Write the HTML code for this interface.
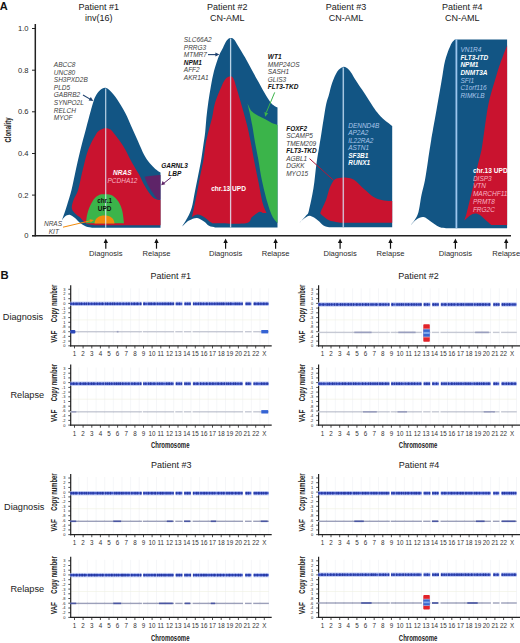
<!DOCTYPE html>
<html><head><meta charset="utf-8"><style>
html,body{margin:0;padding:0;background:#fff;}
body{width:520px;height:643px;overflow:hidden;}
svg{display:block;}
</style></head><body>
<svg width="520" height="643" viewBox="0 0 520 643">
<rect width="520" height="643" fill="#fff"/>
<text x="-0.3" y="9.6" font-family="'Liberation Sans', sans-serif" font-size="11" font-weight="bold" fill="#111">A</text>
<line x1="35.3" y1="24" x2="35.3" y2="236.4" stroke="#222" stroke-width="1.5"/>
<line x1="32" y1="235.7" x2="511" y2="235.7" stroke="#222" stroke-width="1.5"/>
<line x1="32" y1="235.7" x2="35.3" y2="235.7" stroke="#222" stroke-width="1"/>
<text x="28.6" y="238.1" font-family="'Liberation Sans', sans-serif" font-size="7.6" fill="#2a2a2a" text-anchor="end">0</text>
<line x1="32" y1="195.1" x2="35.3" y2="195.1" stroke="#222" stroke-width="1"/>
<text x="28.6" y="197.5" font-family="'Liberation Sans', sans-serif" font-size="7.6" fill="#2a2a2a" text-anchor="end">0.2</text>
<line x1="32" y1="153.5" x2="35.3" y2="153.5" stroke="#222" stroke-width="1"/>
<text x="28.6" y="155.9" font-family="'Liberation Sans', sans-serif" font-size="7.6" fill="#2a2a2a" text-anchor="end">0.4</text>
<line x1="32" y1="111.8" x2="35.3" y2="111.8" stroke="#222" stroke-width="1"/>
<text x="28.6" y="114.2" font-family="'Liberation Sans', sans-serif" font-size="7.6" fill="#2a2a2a" text-anchor="end">0.6</text>
<line x1="32" y1="70.2" x2="35.3" y2="70.2" stroke="#222" stroke-width="1"/>
<text x="28.6" y="72.6" font-family="'Liberation Sans', sans-serif" font-size="7.6" fill="#2a2a2a" text-anchor="end">0.8</text>
<line x1="32" y1="28.5" x2="35.3" y2="28.5" stroke="#222" stroke-width="1"/>
<text x="28.6" y="30.9" font-family="'Liberation Sans', sans-serif" font-size="7.6" fill="#2a2a2a" text-anchor="end">1.0</text>
<text transform="translate(11.2,130) rotate(-90) scale(0.66,1)" font-family="'Liberation Sans', sans-serif" font-size="9" font-weight="bold" fill="#222" text-anchor="middle">Clonality</text>
<text x="98.8" y="10.1" font-family="'Liberation Sans', sans-serif" font-size="9" fill="#1a1a1a" text-anchor="middle">Patient #1</text>
<text x="98.8" y="21.2" font-family="'Liberation Sans', sans-serif" font-size="9" fill="#1a1a1a" text-anchor="middle">inv(16)</text>
<text x="227.2" y="10.1" font-family="'Liberation Sans', sans-serif" font-size="9" fill="#1a1a1a" text-anchor="middle">Patient #2</text>
<text x="227.2" y="21.2" font-family="'Liberation Sans', sans-serif" font-size="9" fill="#1a1a1a" text-anchor="middle">CN-AML</text>
<text x="346.0" y="10.1" font-family="'Liberation Sans', sans-serif" font-size="9" fill="#1a1a1a" text-anchor="middle">Patient #3</text>
<text x="346.0" y="21.2" font-family="'Liberation Sans', sans-serif" font-size="9" fill="#1a1a1a" text-anchor="middle">CN-AML</text>
<text x="462.2" y="10.1" font-family="'Liberation Sans', sans-serif" font-size="9" fill="#1a1a1a" text-anchor="middle">Patient #4</text>
<text x="462.2" y="21.2" font-family="'Liberation Sans', sans-serif" font-size="9" fill="#1a1a1a" text-anchor="middle">CN-AML</text>
<line x1="105.8" y1="241" x2="105.8" y2="248.7" stroke="#111" stroke-width="1.2"/>
<path d="M105.8,238.6 L103.6,243 L108.0,243 Z" fill="#111"/>
<text x="105.8" y="256.2" font-family="'Liberation Sans', sans-serif" font-size="7.6" fill="#2a2a2a" text-anchor="middle">Diagnosis</text>
<line x1="156.5" y1="241" x2="156.5" y2="248.7" stroke="#111" stroke-width="1.2"/>
<path d="M156.5,238.6 L154.3,243 L158.7,243 Z" fill="#111"/>
<text x="156.5" y="256.2" font-family="'Liberation Sans', sans-serif" font-size="7.6" fill="#2a2a2a" text-anchor="middle">Relapse</text>
<line x1="225.6" y1="241" x2="225.6" y2="248.7" stroke="#111" stroke-width="1.2"/>
<path d="M225.6,238.6 L223.4,243 L227.8,243 Z" fill="#111"/>
<text x="225.6" y="256.2" font-family="'Liberation Sans', sans-serif" font-size="7.6" fill="#2a2a2a" text-anchor="middle">Diagnosis</text>
<line x1="275.6" y1="241" x2="275.6" y2="248.7" stroke="#111" stroke-width="1.2"/>
<path d="M275.6,238.6 L273.4,243 L277.8,243 Z" fill="#111"/>
<text x="275.6" y="256.2" font-family="'Liberation Sans', sans-serif" font-size="7.6" fill="#2a2a2a" text-anchor="middle">Relapse</text>
<line x1="340.1" y1="241" x2="340.1" y2="248.7" stroke="#111" stroke-width="1.2"/>
<path d="M340.1,238.6 L337.9,243 L342.3,243 Z" fill="#111"/>
<text x="340.1" y="256.2" font-family="'Liberation Sans', sans-serif" font-size="7.6" fill="#2a2a2a" text-anchor="middle">Diagnosis</text>
<line x1="390.5" y1="241" x2="390.5" y2="248.7" stroke="#111" stroke-width="1.2"/>
<path d="M390.5,238.6 L388.3,243 L392.7,243 Z" fill="#111"/>
<text x="390.5" y="256.2" font-family="'Liberation Sans', sans-serif" font-size="7.6" fill="#2a2a2a" text-anchor="middle">Relapse</text>
<line x1="455.4" y1="241" x2="455.4" y2="248.7" stroke="#111" stroke-width="1.2"/>
<path d="M455.4,238.6 L453.2,243 L457.6,243 Z" fill="#111"/>
<text x="455.4" y="256.2" font-family="'Liberation Sans', sans-serif" font-size="7.6" fill="#2a2a2a" text-anchor="middle">Diagnosis</text>
<line x1="506.2" y1="241" x2="506.2" y2="248.7" stroke="#111" stroke-width="1.2"/>
<path d="M506.2,238.6 L504.0,243 L508.4,243 Z" fill="#111"/>
<text x="506.2" y="256.2" font-family="'Liberation Sans', sans-serif" font-size="7.6" fill="#2a2a2a" text-anchor="middle">Relapse</text>
<path d="M61.8,220.5 C62.2,219.2 63.6,215.6 64.5,213.0 C65.4,210.4 65.9,208.8 67.1,205.0 C68.3,201.2 70.0,195.8 71.5,190.0 C73.0,184.2 74.3,176.7 75.8,170.0 C77.3,163.3 78.7,156.9 80.4,150.0 C82.1,143.1 84.2,135.4 86.0,128.7 C87.8,122.0 89.8,114.3 91.0,110.0 C92.2,105.7 92.3,105.3 93.0,103.0 C93.7,100.7 94.2,98.5 95.4,96.4 C96.6,94.3 98.3,91.6 100.0,90.2 C101.7,88.8 103.7,87.5 105.6,87.8 C107.5,88.1 109.4,90.1 111.3,92.0 C113.2,93.9 114.6,95.5 116.9,99.0 C119.2,102.5 122.8,108.3 125.3,113.0 C127.8,117.7 129.5,122.3 131.6,127.0 C133.7,131.7 135.8,136.3 137.9,141.0 C140.0,145.7 142.2,151.3 144.2,155.0 C146.2,158.7 148.0,161.0 149.8,163.3 C151.7,165.6 153.5,167.4 155.3,168.9 C157.1,170.4 159.6,171.9 160.5,172.5 L160.5,227.7 L92,227.7 C91.0,227.5 87.9,227.2 86.0,226.5 C84.1,225.8 82.2,224.7 80.4,223.3 C78.6,221.9 76.8,219.4 75.0,218.0 C73.2,216.6 71.3,215.1 69.6,214.8 C67.9,214.6 66.3,215.6 65.0,216.5 C63.7,217.4 62.3,219.8 61.8,220.5 Z" fill="#125584"/>
<path d="M80.4,217.7 C79.4,216.9 76.0,214.6 74.6,213.0 C73.2,211.4 72.0,210.2 71.8,208.0 C71.6,205.8 72.5,203.0 73.5,200.0 C74.5,197.0 76.6,195.0 78.1,190.0 C79.6,185.0 81.0,176.7 82.7,170.0 C84.4,163.3 85.9,155.9 88.1,150.0 C90.3,144.1 93.8,137.8 95.9,134.4 C98.0,131.0 98.9,130.8 100.5,129.8 C102.1,128.8 103.8,128.2 105.5,128.2 C107.2,128.2 109.1,128.7 110.5,129.6 C111.9,130.5 112.3,131.4 114.0,133.5 C115.7,135.6 118.6,139.2 120.5,142.0 C122.4,144.8 124.1,147.5 125.5,150.0 C126.9,152.5 127.8,154.8 129.0,157.0 C130.2,159.2 130.8,160.4 132.5,163.5 C134.2,166.6 137.4,171.5 139.5,175.3 C141.6,179.2 142.8,182.9 145.1,186.6 C147.3,190.3 150.4,195.2 153.0,197.4 C155.6,199.7 159.2,199.7 160.5,200.1 L160.5,225.3 L95,225.3 C93.5,225.0 88.6,224.8 86.2,223.5 C83.8,222.2 81.4,218.7 80.4,217.7 Z" fill="#c9132f"/>
<path d="M144.6,176.8 C145.8,176.6 149.3,176.1 152.0,175.8 C154.7,175.5 159.1,175.1 160.5,175.0 L160.5,199.7 C159.9,199.5 158.5,200.2 157.0,198.8 C155.5,197.4 153.2,193.6 151.5,191.0 C149.8,188.4 148.2,185.4 147.0,183.0 C145.8,180.6 145.0,177.8 144.6,176.8 Z" fill="#5e2468"/>
<path d="M86.0,223.3 C86.2,221.8 86.5,217.1 87.3,214.0 C88.0,210.9 89.3,207.6 90.5,205.0 C91.7,202.4 93.0,200.2 94.5,198.5 C96.0,196.8 97.8,195.5 99.5,194.8 C101.2,194.1 103.2,194.2 105.0,194.2 C106.8,194.2 108.8,194.2 110.5,194.8 C112.2,195.4 114.0,196.6 115.5,198.0 C117.0,199.4 118.3,201.2 119.5,203.5 C120.7,205.8 121.8,208.7 122.5,212.0 C123.2,215.3 123.8,221.4 124.0,223.3 Z" fill="#3bb44a"/>
<path d="M94.5,223.5 C95,218 99,215.6 104.5,215.6 C110,215.6 114,218 114.5,223.5 Z" fill="#f28b0c"/>
<line x1="105.7" y1="88.5" x2="105.7" y2="227.7" stroke="#e4f2ff" stroke-opacity="0.8" stroke-width="1.2"/>
<path d="M182.3,226.4 C183.2,224.8 186.2,220.2 187.8,217.1 C189.4,214.0 190.5,212.0 191.7,207.8 C192.9,203.7 193.8,197.4 194.8,192.2 C195.8,187.0 196.9,181.9 197.9,176.7 C198.9,171.5 200.1,166.3 201.0,161.1 C201.9,155.9 202.6,150.4 203.3,145.6 C204.0,140.8 204.7,136.6 205.2,132.0 C205.7,127.4 205.9,122.8 206.4,117.8 C206.9,112.8 207.6,107.4 208.3,102.2 C209.0,97.0 209.9,91.9 210.8,86.7 C211.8,81.5 212.6,76.3 214.0,71.1 C215.4,65.9 217.6,59.5 219.1,55.6 C220.6,51.7 221.8,50.3 223.0,47.8 C224.2,45.3 225.3,42.4 226.5,40.8 C227.7,39.2 229.1,38.3 230.3,38.1 C231.6,37.9 232.7,38.2 234.0,39.5 C235.3,40.8 236.2,42.8 238.0,45.8 C239.8,48.8 242.8,53.6 245.1,57.6 C247.4,61.6 249.4,65.5 251.6,69.5 C253.8,73.5 255.9,77.4 258.1,81.3 C260.3,85.2 262.5,89.5 264.6,93.1 C266.7,96.6 269.0,100.4 270.6,102.6 C272.2,104.8 273.4,105.2 274.5,106.0 C275.6,106.8 277.0,107.2 277.5,107.5 L277.5,227.4 L215,227.4 C214.0,227.1 210.8,226.8 209.0,225.8 C207.2,224.8 206.0,222.8 204.0,221.5 C202.0,220.2 199.6,218.1 197.1,217.9 C194.6,217.7 191.5,219.1 189.0,220.5 C186.5,221.9 183.4,225.4 182.3,226.4 Z" fill="#125584"/>
<path d="M191.8,217.5 C192.2,215.9 193.1,212.0 194.0,207.8 C194.9,203.6 196.1,197.4 197.1,192.2 C198.1,187.0 199.0,181.9 200.0,176.7 C201.0,171.5 202.4,166.4 203.3,161.1 C204.2,155.8 204.7,149.8 205.5,145.0 C206.3,140.2 207.2,136.5 208.3,132.0 C209.4,127.5 210.9,122.8 212.1,117.8 C213.2,112.8 213.6,107.4 215.2,102.2 C216.8,97.0 219.7,90.6 221.4,86.7 C223.1,82.8 224.0,80.8 225.5,79.0 C227.0,77.2 229.1,76.3 230.4,76.2 C231.7,76.1 232.5,76.7 233.5,78.5 C234.5,80.3 235.2,83.8 236.3,87.2 C237.4,90.6 238.7,95.0 239.8,99.0 C241.0,103.0 242.0,106.7 243.2,111.0 C244.4,115.3 245.8,120.2 247.0,125.0 C248.2,129.8 249.1,134.2 250.3,140.0 C251.5,145.8 252.7,153.0 254.0,160.0 C255.3,167.0 256.9,174.5 258.4,181.8 C259.9,189.1 261.4,198.4 262.8,203.6 C264.2,208.8 265.9,211.4 266.5,213.0 C265.9,213.0 264.2,213.2 263.0,213.0 C261.8,212.8 261.3,211.1 259.5,211.8 C257.7,212.5 254.3,215.1 252.0,217.0 C249.7,218.9 251.9,222.2 245.9,223.2 C239.9,224.2 221.8,223.3 216.0,223.2 C210.2,223.1 213.1,223.5 211.1,222.5 C209.1,221.5 206.2,218.3 204.0,217.0 C201.8,215.7 199.7,214.8 197.9,214.6 C196.2,214.4 194.5,215.5 193.5,216.0 C192.5,216.5 192.1,217.2 191.8,217.5 Z" fill="#c9132f"/>
<path d="M247.5,103.4 C248.2,104.7 249.9,109.2 251.7,111.2 C253.5,113.2 255.9,114.4 258.2,115.7 C260.5,117.0 263.1,118.0 265.3,119.2 C267.5,120.4 269.4,121.8 271.4,122.8 C273.4,123.8 276.5,124.6 277.5,125.0 L277.5,223.2 C276.9,222.5 275.0,220.4 274.0,219.0 C273.0,217.6 272.6,217.1 271.5,214.5 C270.4,211.9 269.2,209.0 267.7,203.6 C266.1,198.2 263.8,189.1 262.2,181.8 C260.6,174.5 259.6,166.9 258.4,160.0 C257.1,153.1 255.7,146.3 254.7,140.5 C253.7,134.7 253.1,130.1 252.2,125.3 C251.3,120.5 250.3,115.7 249.5,112.0 C248.7,108.3 247.8,104.8 247.5,103.4 Z" fill="#3bb44a"/>
<line x1="230.6" y1="38.5" x2="230.6" y2="227.4" stroke="#e4f2ff" stroke-opacity="0.8" stroke-width="1.3"/>
<path d="M298.5,223.8 C299.2,223.0 301.7,220.5 303.0,219.0 C304.3,217.5 305.5,216.3 306.5,215.0 C307.5,213.7 307.6,215.5 308.8,211.0 C310.0,206.5 312.2,195.7 313.5,188.0 C314.8,180.3 315.3,172.2 316.3,165.0 C317.3,157.8 318.6,150.5 319.5,145.0 C320.4,139.5 320.9,136.5 321.6,132.0 C322.3,127.5 323.0,122.7 323.8,118.0 C324.6,113.3 325.3,107.9 326.2,104.0 C327.1,100.1 328.0,98.1 329.0,94.6 C330.0,91.1 330.7,86.9 332.1,83.1 C333.5,79.2 335.5,74.2 337.3,71.5 C339.1,68.8 341.4,67.4 343.1,66.9 C344.8,66.4 346.0,67.4 347.3,68.3 C348.6,69.2 349.6,70.5 351.0,72.5 C352.4,74.5 353.8,77.2 355.6,80.0 C357.4,82.8 359.9,86.4 362.0,89.6 C364.1,92.8 366.2,96.0 368.3,99.2 C370.4,102.4 372.8,106.3 374.5,108.8 C376.2,111.3 377.2,112.4 378.5,114.0 C379.8,115.6 381.1,117.0 382.5,118.3 C383.9,119.6 385.7,121.0 387.0,122.0 C388.3,123.0 389.3,123.7 390.2,124.4 C391.1,125.1 391.9,125.7 392.2,126.0 L392.2,227.3 L329,227.3 C328.1,227.0 325.3,226.6 323.5,225.5 C321.7,224.4 320.2,222.1 318.0,220.5 C315.8,218.9 312.4,216.1 310.0,215.8 C307.6,215.6 305.4,217.7 303.5,219.0 C301.6,220.3 299.3,223.0 298.5,223.8 Z" fill="#125584"/>
<path d="M320.4,213.5 C320.5,213.1 320.0,213.5 321.0,211.2 C322.0,208.9 324.8,203.4 326.2,199.6 C327.6,195.8 328.3,191.4 329.6,188.1 C330.9,184.8 332.6,181.7 334.2,180.0 C335.8,178.3 337.2,178.4 339.0,178.0 C340.8,177.6 342.6,177.2 345.0,177.5 C347.4,177.8 350.3,177.7 353.5,179.6 C356.7,181.5 360.5,186.0 364.0,189.0 C367.5,192.0 371.3,195.7 374.6,197.6 C377.9,199.5 381.1,199.9 384.0,200.5 C386.9,201.1 390.8,200.9 392.2,201.0 L392.2,222.7 L341.2,222.7 C339.3,222.3 332.6,221.5 329.6,220.4 C326.6,219.3 324.5,217.2 323.0,216.0 C321.5,214.8 320.8,213.9 320.4,213.5 Z" fill="#c9132f"/>
<line x1="343.3" y1="67.5" x2="343.3" y2="227.3" stroke="#d8ecff" stroke-opacity="0.75" stroke-width="1.5"/>
<path d="M410.6,225.3 C411.3,224.3 413.7,221.7 415.0,219.5 C416.3,217.3 417.4,216.1 418.5,212.0 C419.6,207.9 420.4,200.3 421.5,195.0 C422.6,189.7 423.9,185.8 425.0,180.0 C426.1,174.2 427.1,166.7 428.1,160.0 C429.1,153.3 430.4,145.0 431.2,140.0 C432.0,135.0 432.0,135.0 432.9,130.0 C433.8,125.0 435.3,116.7 436.5,110.0 C437.7,103.3 439.0,95.6 440.0,90.0 C441.0,84.4 441.7,80.0 442.3,76.5 C442.9,73.0 443.1,71.4 443.5,68.8 C443.9,66.2 444.4,63.7 445.0,61.1 C445.6,58.5 446.4,56.0 447.3,53.4 C448.2,50.8 449.5,47.7 450.4,45.7 C451.3,43.7 452.0,42.5 452.8,41.5 C453.6,40.5 454.6,39.8 455.0,39.4 L507.1,39.4 L507.1,228.3 L446,228.3 C445.0,228.1 441.7,227.9 440.0,227.3 C438.3,226.8 437.4,226.0 435.8,225.0 C434.2,224.0 432.4,222.5 430.4,221.2 C428.3,219.9 425.8,217.3 423.5,217.0 C421.2,216.7 418.6,218.1 416.5,219.5 C414.4,220.9 411.6,224.3 410.6,225.3 Z" fill="#125584"/>
<path d="M507.1,46.5 C507.0,46.6 507.6,44.1 506.3,47.4 C505.0,50.7 501.2,60.4 499.3,66.1 C497.4,71.8 496.2,76.4 494.6,81.6 C493.1,86.8 491.3,92.0 490.0,97.2 C488.7,102.4 487.9,106.5 486.9,112.7 C485.9,118.9 484.7,128.2 483.8,134.5 C482.9,140.8 482.4,145.2 481.4,150.5 C480.3,155.8 478.7,160.9 477.5,166.1 C476.3,171.3 475.6,176.4 474.4,181.6 C473.2,186.8 471.8,192.0 470.5,197.2 C469.2,202.4 467.7,208.8 466.7,212.7 C465.7,216.6 464.7,219.2 464.3,220.5 C465.2,219.7 468.2,216.7 470.0,215.5 C471.8,214.3 473.5,213.6 475.2,213.5 C476.9,213.4 478.4,214.0 480.0,215.0 C481.6,216.0 483.1,217.8 485.0,219.5 C486.9,221.2 490.4,224.2 491.5,225.1 L507.1,225.1 Z" fill="#c9132f"/>
<line x1="456.4" y1="39.4" x2="456.4" y2="228.3" stroke="#9cc6ee" stroke-width="1.8"/>
<text x="53.8" y="67.0" font-family="'Liberation Sans', sans-serif" font-size="6.5" font-style="italic" fill="#404040" text-anchor="start">ABCC8</text>
<text x="53.8" y="74.6" font-family="'Liberation Sans', sans-serif" font-size="6.5" font-style="italic" fill="#404040" text-anchor="start">UNC80</text>
<text x="53.8" y="82.2" font-family="'Liberation Sans', sans-serif" font-size="6.5" font-style="italic" fill="#404040" text-anchor="start">SH3PXD2B</text>
<text x="53.8" y="89.8" font-family="'Liberation Sans', sans-serif" font-size="6.5" font-style="italic" fill="#404040" text-anchor="start">PLD5</text>
<text x="53.8" y="97.4" font-family="'Liberation Sans', sans-serif" font-size="6.5" font-style="italic" fill="#404040" text-anchor="start">GABRB2</text>
<text x="53.8" y="105.0" font-family="'Liberation Sans', sans-serif" font-size="6.5" font-style="italic" fill="#404040" text-anchor="start">SYNPO2L</text>
<text x="53.8" y="112.6" font-family="'Liberation Sans', sans-serif" font-size="6.5" font-style="italic" fill="#404040" text-anchor="start">RELCH</text>
<text x="53.8" y="120.2" font-family="'Liberation Sans', sans-serif" font-size="6.5" font-style="italic" fill="#404040" text-anchor="start">MYOF</text>
<line x1="83" y1="95" x2="90.5" y2="99.4" stroke="#1d406e" stroke-width="1.1"/>
<path d="M93.3,101 L88.6,100.6 L90.8,96.9 Z" fill="#1d406e"/>
<text x="122.3" y="175.3" font-family="'Liberation Sans', sans-serif" font-size="6.5" font-style="italic" font-weight="bold" fill="#fff" text-anchor="middle">NRAS</text>
<text x="122.5" y="183.2" font-family="'Liberation Sans', sans-serif" font-size="6.5" font-style="italic" fill="#f7b3c4" text-anchor="middle">PCDHA12</text>
<text x="104.6" y="203.2" font-family="'Liberation Sans', sans-serif" font-size="6.4" font-weight="bold" fill="#111" text-anchor="middle">chr.1</text>
<text x="104.6" y="210.6" font-family="'Liberation Sans', sans-serif" font-size="6.4" font-weight="bold" fill="#111" text-anchor="middle">UPD</text>
<text x="174.5" y="168.2" font-family="'Liberation Sans', sans-serif" font-size="6.5" font-style="italic" font-weight="bold" fill="#111" text-anchor="middle">GARNL3</text>
<text x="174.8" y="175.6" font-family="'Liberation Sans', sans-serif" font-size="6.5" font-style="italic" font-weight="bold" fill="#111" text-anchor="middle">LBP</text>
<line x1="170.9" y1="177.6" x2="163.5" y2="183.5" stroke="#5e2468" stroke-width="1"/>
<path d="M161.2,185.3 L162.6,180.9 L165.3,184.2 Z" fill="#5e2468"/>
<text x="53.0" y="225.6" font-family="'Liberation Sans', sans-serif" font-size="6.5" font-style="italic" fill="#444" text-anchor="middle">NRAS</text>
<text x="53.8" y="234.0" font-family="'Liberation Sans', sans-serif" font-size="6.5" font-style="italic" fill="#444" text-anchor="middle">KIT</text>
<line x1="63" y1="227.2" x2="91" y2="220.6" stroke="#f28b0c" stroke-width="1"/>
<path d="M94,220 L89.6,219.2 L90.6,222.6 Z" fill="#f28b0c"/>
<text x="183.8" y="42.0" font-family="'Liberation Sans', sans-serif" font-size="6.5" font-style="italic" fill="#404040" text-anchor="start">SLC66A2</text>
<text x="183.8" y="49.5" font-family="'Liberation Sans', sans-serif" font-size="6.5" font-style="italic" fill="#404040" text-anchor="start">PRRG3</text>
<text x="183.8" y="57.0" font-family="'Liberation Sans', sans-serif" font-size="6.5" font-style="italic" fill="#404040" text-anchor="start">MTMR7</text>
<text x="183.8" y="64.5" font-family="'Liberation Sans', sans-serif" font-size="6.5" font-style="italic" font-weight="bold" fill="#111" text-anchor="start">NPM1</text>
<text x="183.8" y="72.0" font-family="'Liberation Sans', sans-serif" font-size="6.5" font-style="italic" fill="#404040" text-anchor="start">AFF2</text>
<text x="183.8" y="79.5" font-family="'Liberation Sans', sans-serif" font-size="6.5" font-style="italic" fill="#404040" text-anchor="start">AKR1A1</text>
<line x1="208" y1="54.6" x2="216.5" y2="54.6" stroke="#1d406e" stroke-width="1.1"/>
<path d="M219.4,54.6 L215.4,52.6 L215.4,56.6 Z" fill="#1d406e"/>
<text x="267.8" y="58.9" font-family="'Liberation Sans', sans-serif" font-size="6.5" font-style="italic" font-weight="bold" fill="#111" text-anchor="start">WT1</text>
<text x="267.8" y="66.5" font-family="'Liberation Sans', sans-serif" font-size="6.5" font-style="italic" fill="#404040" text-anchor="start">MMP24OS</text>
<text x="267.8" y="74.1" font-family="'Liberation Sans', sans-serif" font-size="6.5" font-style="italic" fill="#404040" text-anchor="start">SASH1</text>
<text x="267.8" y="81.7" font-family="'Liberation Sans', sans-serif" font-size="6.5" font-style="italic" fill="#404040" text-anchor="start">GLIS3</text>
<text x="267.8" y="89.3" font-family="'Liberation Sans', sans-serif" font-size="6.5" font-style="italic" font-weight="bold" fill="#111" text-anchor="start">FLT3-TKD</text>
<line x1="274.7" y1="92.4" x2="266.3" y2="112.5" stroke="#3bb44a" stroke-width="1"/>
<path d="M265.2,116.8 L264.4,112 L268.2,113.3 Z" fill="#3bb44a"/>
<text x="228.6" y="191.2" font-family="'Liberation Sans', sans-serif" font-size="6.6" font-weight="bold" fill="#fff" text-anchor="middle">chr.13 UPD</text>
<text x="286.2" y="130.5" font-family="'Liberation Sans', sans-serif" font-size="6.5" font-style="italic" font-weight="bold" fill="#111" text-anchor="start">FOXF2</text>
<text x="286.2" y="138.1" font-family="'Liberation Sans', sans-serif" font-size="6.5" font-style="italic" fill="#404040" text-anchor="start">SCAMP5</text>
<text x="286.2" y="145.6" font-family="'Liberation Sans', sans-serif" font-size="6.5" font-style="italic" fill="#404040" text-anchor="start">TMEM209</text>
<text x="286.2" y="153.2" font-family="'Liberation Sans', sans-serif" font-size="6.5" font-style="italic" font-weight="bold" fill="#111" text-anchor="start">FLT3-TKD</text>
<text x="286.2" y="160.7" font-family="'Liberation Sans', sans-serif" font-size="6.5" font-style="italic" fill="#404040" text-anchor="start">AGBL1</text>
<text x="286.2" y="168.2" font-family="'Liberation Sans', sans-serif" font-size="6.5" font-style="italic" fill="#404040" text-anchor="start">DGKK</text>
<text x="286.2" y="175.8" font-family="'Liberation Sans', sans-serif" font-size="6.5" font-style="italic" fill="#404040" text-anchor="start">MYO15</text>
<line x1="309.5" y1="158.6" x2="333.7" y2="180.4" stroke="#b0183a" stroke-width="1"/>
<text x="348.2" y="127.5" font-family="'Liberation Sans', sans-serif" font-size="6.5" font-style="italic" fill="#a9c5ea" text-anchor="start">DENND4B</text>
<text x="348.2" y="135.0" font-family="'Liberation Sans', sans-serif" font-size="6.5" font-style="italic" fill="#a9c5ea" text-anchor="start">AP2A2</text>
<text x="348.2" y="142.5" font-family="'Liberation Sans', sans-serif" font-size="6.5" font-style="italic" fill="#a9c5ea" text-anchor="start">IL22RA2</text>
<text x="348.2" y="150.0" font-family="'Liberation Sans', sans-serif" font-size="6.5" font-style="italic" fill="#a9c5ea" text-anchor="start">ASTN1</text>
<text x="348.2" y="157.5" font-family="'Liberation Sans', sans-serif" font-size="6.5" font-style="italic" font-weight="bold" fill="#fff" text-anchor="start">SF3B1</text>
<text x="348.2" y="165.0" font-family="'Liberation Sans', sans-serif" font-size="6.5" font-style="italic" font-weight="bold" fill="#fff" text-anchor="start">RUNX1</text>
<text x="460.4" y="52.1" font-family="'Liberation Sans', sans-serif" font-size="6.5" font-style="italic" fill="#a9c5ea" text-anchor="start">VN1R4</text>
<text x="460.4" y="59.8" font-family="'Liberation Sans', sans-serif" font-size="6.5" font-style="italic" font-weight="bold" fill="#fff" text-anchor="start">FLT3-ITD</text>
<text x="460.4" y="67.4" font-family="'Liberation Sans', sans-serif" font-size="6.5" font-style="italic" font-weight="bold" fill="#fff" text-anchor="start">NPM1</text>
<text x="460.4" y="75.1" font-family="'Liberation Sans', sans-serif" font-size="6.5" font-style="italic" font-weight="bold" fill="#fff" text-anchor="start">DNMT3A</text>
<text x="460.4" y="82.7" font-family="'Liberation Sans', sans-serif" font-size="6.5" font-style="italic" fill="#a9c5ea" text-anchor="start">SFI1</text>
<text x="460.4" y="90.3" font-family="'Liberation Sans', sans-serif" font-size="6.5" font-style="italic" fill="#a9c5ea" text-anchor="start">C1orf116</text>
<text x="460.4" y="98.0" font-family="'Liberation Sans', sans-serif" font-size="6.5" font-style="italic" fill="#a9c5ea" text-anchor="start">RIMKLB</text>
<text x="472.9" y="173.0" font-family="'Liberation Sans', sans-serif" font-size="6.6" font-weight="bold" fill="#fff" text-anchor="start">chr.13 UPD</text>
<text x="472.9" y="180.6" font-family="'Liberation Sans', sans-serif" font-size="6.5" font-style="italic" fill="#f7b3c4" text-anchor="start">DISP3</text>
<text x="472.9" y="188.4" font-family="'Liberation Sans', sans-serif" font-size="6.5" font-style="italic" fill="#f7b3c4" text-anchor="start">VTN</text>
<text x="472.9" y="196.2" font-family="'Liberation Sans', sans-serif" font-size="6.5" font-style="italic" fill="#f7b3c4" text-anchor="start">MARCHF11</text>
<text x="472.9" y="204.0" font-family="'Liberation Sans', sans-serif" font-size="6.5" font-style="italic" fill="#f7b3c4" text-anchor="start">PRMT8</text>
<text x="472.9" y="211.8" font-family="'Liberation Sans', sans-serif" font-size="6.5" font-style="italic" fill="#f7b3c4" text-anchor="start">FRG2C</text>
<text x="0.4" y="278.7" font-family="'Liberation Sans', sans-serif" font-size="11.3" font-weight="bold" fill="#111">B</text>
<defs><pattern id="bead" x="0" y="0" width="2.6" height="10" patternUnits="userSpaceOnUse"><rect x="0.3" y="0" width="1.5" height="10" fill="#1c2b96"/></pattern></defs>
<text x="170.8" y="278.9" font-family="'Liberation Sans', sans-serif" font-size="9" fill="#222" text-anchor="middle">Patient #1</text>
<text x="418.6" y="278.9" font-family="'Liberation Sans', sans-serif" font-size="9" fill="#222" text-anchor="middle">Patient #2</text>
<text x="171.2" y="467.7" font-family="'Liberation Sans', sans-serif" font-size="9" fill="#222" text-anchor="middle">Patient #3</text>
<text x="419.1" y="467.7" font-family="'Liberation Sans', sans-serif" font-size="9" fill="#222" text-anchor="middle">Patient #4</text>
<text x="23.0" y="320.2" font-family="'Liberation Sans', sans-serif" font-size="9.2" fill="#222" text-anchor="middle">Diagnosis</text>
<line x1="78.8" y1="288.3" x2="78.8" y2="345.8" stroke="#eff0f3" stroke-width="0.6"/>
<line x1="87.4" y1="288.3" x2="87.4" y2="345.8" stroke="#eff0f3" stroke-width="0.6"/>
<line x1="96.1" y1="288.3" x2="96.1" y2="345.8" stroke="#eff0f3" stroke-width="0.6"/>
<line x1="104.7" y1="288.3" x2="104.7" y2="345.8" stroke="#eff0f3" stroke-width="0.6"/>
<line x1="113.3" y1="288.3" x2="113.3" y2="345.8" stroke="#eff0f3" stroke-width="0.6"/>
<line x1="122.0" y1="288.3" x2="122.0" y2="345.8" stroke="#eff0f3" stroke-width="0.6"/>
<line x1="130.6" y1="288.3" x2="130.6" y2="345.8" stroke="#eff0f3" stroke-width="0.6"/>
<line x1="139.2" y1="288.3" x2="139.2" y2="345.8" stroke="#eff0f3" stroke-width="0.6"/>
<line x1="147.8" y1="288.3" x2="147.8" y2="345.8" stroke="#eff0f3" stroke-width="0.6"/>
<line x1="156.5" y1="288.3" x2="156.5" y2="345.8" stroke="#eff0f3" stroke-width="0.6"/>
<line x1="165.1" y1="288.3" x2="165.1" y2="345.8" stroke="#eff0f3" stroke-width="0.6"/>
<line x1="173.7" y1="288.3" x2="173.7" y2="345.8" stroke="#eff0f3" stroke-width="0.6"/>
<line x1="182.3" y1="288.3" x2="182.3" y2="345.8" stroke="#eff0f3" stroke-width="0.6"/>
<line x1="191.0" y1="288.3" x2="191.0" y2="345.8" stroke="#eff0f3" stroke-width="0.6"/>
<line x1="199.6" y1="288.3" x2="199.6" y2="345.8" stroke="#eff0f3" stroke-width="0.6"/>
<line x1="208.2" y1="288.3" x2="208.2" y2="345.8" stroke="#eff0f3" stroke-width="0.6"/>
<line x1="216.8" y1="288.3" x2="216.8" y2="345.8" stroke="#eff0f3" stroke-width="0.6"/>
<line x1="225.5" y1="288.3" x2="225.5" y2="345.8" stroke="#eff0f3" stroke-width="0.6"/>
<line x1="234.1" y1="288.3" x2="234.1" y2="345.8" stroke="#eff0f3" stroke-width="0.6"/>
<line x1="242.7" y1="288.3" x2="242.7" y2="345.8" stroke="#eff0f3" stroke-width="0.6"/>
<line x1="251.4" y1="288.3" x2="251.4" y2="345.8" stroke="#eff0f3" stroke-width="0.6"/>
<line x1="260.0" y1="288.3" x2="260.0" y2="345.8" stroke="#eff0f3" stroke-width="0.6"/>
<line x1="268.6" y1="288.3" x2="268.6" y2="345.8" stroke="#eff0f3" stroke-width="0.6"/>
<line x1="70.7" y1="319.9" x2="269.0" y2="319.9" stroke="#eef0e0" stroke-width="0.6"/>
<line x1="70.7" y1="285.3" x2="70.7" y2="346.4" stroke="#222" stroke-width="1.2"/>
<line x1="70.1" y1="345.8" x2="271.7" y2="345.8" stroke="#222" stroke-width="1.2"/>
<line x1="68.3" y1="289.3" x2="70.7" y2="289.3" stroke="#222" stroke-width="0.8"/>
<text x="65.4" y="290.7" font-family="'Liberation Sans', sans-serif" font-size="4" fill="#222" text-anchor="end">3</text>
<line x1="68.3" y1="294.0" x2="70.7" y2="294.0" stroke="#222" stroke-width="0.8"/>
<text x="65.4" y="295.4" font-family="'Liberation Sans', sans-serif" font-size="4" fill="#222" text-anchor="end">2</text>
<line x1="68.3" y1="298.7" x2="70.7" y2="298.7" stroke="#222" stroke-width="0.8"/>
<text x="65.4" y="300.1" font-family="'Liberation Sans', sans-serif" font-size="4" fill="#222" text-anchor="end">1</text>
<line x1="68.3" y1="303.4" x2="70.7" y2="303.4" stroke="#222" stroke-width="0.8"/>
<text x="65.4" y="304.8" font-family="'Liberation Sans', sans-serif" font-size="4" fill="#222" text-anchor="end">0</text>
<line x1="68.3" y1="308.1" x2="70.7" y2="308.1" stroke="#222" stroke-width="0.8"/>
<text x="65.4" y="309.5" font-family="'Liberation Sans', sans-serif" font-size="4" fill="#222" text-anchor="end">-1</text>
<line x1="68.3" y1="312.8" x2="70.7" y2="312.8" stroke="#222" stroke-width="0.8"/>
<text x="65.4" y="314.2" font-family="'Liberation Sans', sans-serif" font-size="4" fill="#222" text-anchor="end">-2</text>
<line x1="68.3" y1="317.6" x2="70.7" y2="317.6" stroke="#222" stroke-width="0.8"/>
<text x="65.4" y="318.9" font-family="'Liberation Sans', sans-serif" font-size="4" fill="#222" text-anchor="end">-3</text>
<line x1="68.3" y1="322.3" x2="70.7" y2="322.3" stroke="#222" stroke-width="0.8"/>
<text x="65.4" y="323.7" font-family="'Liberation Sans', sans-serif" font-size="4" fill="#222" text-anchor="end">1</text>
<line x1="68.3" y1="327.0" x2="70.7" y2="327.0" stroke="#222" stroke-width="0.8"/>
<text x="65.4" y="328.4" font-family="'Liberation Sans', sans-serif" font-size="4" fill="#222" text-anchor="end">.8</text>
<line x1="68.3" y1="331.7" x2="70.7" y2="331.7" stroke="#222" stroke-width="0.8"/>
<text x="65.4" y="333.1" font-family="'Liberation Sans', sans-serif" font-size="4" fill="#222" text-anchor="end">.6</text>
<line x1="68.3" y1="336.4" x2="70.7" y2="336.4" stroke="#222" stroke-width="0.8"/>
<text x="65.4" y="337.8" font-family="'Liberation Sans', sans-serif" font-size="4" fill="#222" text-anchor="end">.4</text>
<line x1="68.3" y1="341.1" x2="70.7" y2="341.1" stroke="#222" stroke-width="0.8"/>
<text x="65.4" y="342.5" font-family="'Liberation Sans', sans-serif" font-size="4" fill="#222" text-anchor="end">.2</text>
<line x1="68.3" y1="345.8" x2="70.7" y2="345.8" stroke="#222" stroke-width="0.8"/>
<text x="65.4" y="347.2" font-family="'Liberation Sans', sans-serif" font-size="4" fill="#222" text-anchor="end">0</text>
<line x1="74.5" y1="345.8" x2="74.5" y2="348.4" stroke="#222" stroke-width="0.8"/>
<text transform="translate(74.5,356.4) scale(0.86,1)" font-family="'Liberation Sans', sans-serif" font-size="7.3" fill="#333" text-anchor="middle">1</text>
<line x1="83.1" y1="345.8" x2="83.1" y2="348.4" stroke="#222" stroke-width="0.8"/>
<text transform="translate(83.1,356.4) scale(0.86,1)" font-family="'Liberation Sans', sans-serif" font-size="7.3" fill="#333" text-anchor="middle">2</text>
<line x1="91.8" y1="345.8" x2="91.8" y2="348.4" stroke="#222" stroke-width="0.8"/>
<text transform="translate(91.8,356.4) scale(0.86,1)" font-family="'Liberation Sans', sans-serif" font-size="7.3" fill="#333" text-anchor="middle">3</text>
<line x1="100.4" y1="345.8" x2="100.4" y2="348.4" stroke="#222" stroke-width="0.8"/>
<text transform="translate(100.4,356.4) scale(0.86,1)" font-family="'Liberation Sans', sans-serif" font-size="7.3" fill="#333" text-anchor="middle">4</text>
<line x1="109.0" y1="345.8" x2="109.0" y2="348.4" stroke="#222" stroke-width="0.8"/>
<text transform="translate(109.0,356.4) scale(0.86,1)" font-family="'Liberation Sans', sans-serif" font-size="7.3" fill="#333" text-anchor="middle">5</text>
<line x1="117.6" y1="345.8" x2="117.6" y2="348.4" stroke="#222" stroke-width="0.8"/>
<text transform="translate(117.6,356.4) scale(0.86,1)" font-family="'Liberation Sans', sans-serif" font-size="7.3" fill="#333" text-anchor="middle">6</text>
<line x1="126.3" y1="345.8" x2="126.3" y2="348.4" stroke="#222" stroke-width="0.8"/>
<text transform="translate(126.3,356.4) scale(0.86,1)" font-family="'Liberation Sans', sans-serif" font-size="7.3" fill="#333" text-anchor="middle">7</text>
<line x1="134.9" y1="345.8" x2="134.9" y2="348.4" stroke="#222" stroke-width="0.8"/>
<text transform="translate(134.9,356.4) scale(0.86,1)" font-family="'Liberation Sans', sans-serif" font-size="7.3" fill="#333" text-anchor="middle">8</text>
<line x1="143.5" y1="345.8" x2="143.5" y2="348.4" stroke="#222" stroke-width="0.8"/>
<text transform="translate(143.5,356.4) scale(0.86,1)" font-family="'Liberation Sans', sans-serif" font-size="7.3" fill="#333" text-anchor="middle">9</text>
<line x1="152.1" y1="345.8" x2="152.1" y2="348.4" stroke="#222" stroke-width="0.8"/>
<text transform="translate(152.1,356.4) scale(0.86,1)" font-family="'Liberation Sans', sans-serif" font-size="7.3" fill="#333" text-anchor="middle">10</text>
<line x1="160.8" y1="345.8" x2="160.8" y2="348.4" stroke="#222" stroke-width="0.8"/>
<text transform="translate(160.8,356.4) scale(0.86,1)" font-family="'Liberation Sans', sans-serif" font-size="7.3" fill="#333" text-anchor="middle">11</text>
<line x1="169.4" y1="345.8" x2="169.4" y2="348.4" stroke="#222" stroke-width="0.8"/>
<text transform="translate(169.4,356.4) scale(0.86,1)" font-family="'Liberation Sans', sans-serif" font-size="7.3" fill="#333" text-anchor="middle">12</text>
<line x1="178.0" y1="345.8" x2="178.0" y2="348.4" stroke="#222" stroke-width="0.8"/>
<text transform="translate(178.0,356.4) scale(0.86,1)" font-family="'Liberation Sans', sans-serif" font-size="7.3" fill="#333" text-anchor="middle">13</text>
<line x1="186.7" y1="345.8" x2="186.7" y2="348.4" stroke="#222" stroke-width="0.8"/>
<text transform="translate(186.7,356.4) scale(0.86,1)" font-family="'Liberation Sans', sans-serif" font-size="7.3" fill="#333" text-anchor="middle">14</text>
<line x1="195.3" y1="345.8" x2="195.3" y2="348.4" stroke="#222" stroke-width="0.8"/>
<text transform="translate(195.3,356.4) scale(0.86,1)" font-family="'Liberation Sans', sans-serif" font-size="7.3" fill="#333" text-anchor="middle">15</text>
<line x1="203.9" y1="345.8" x2="203.9" y2="348.4" stroke="#222" stroke-width="0.8"/>
<text transform="translate(203.9,356.4) scale(0.86,1)" font-family="'Liberation Sans', sans-serif" font-size="7.3" fill="#333" text-anchor="middle">16</text>
<line x1="212.5" y1="345.8" x2="212.5" y2="348.4" stroke="#222" stroke-width="0.8"/>
<text transform="translate(212.5,356.4) scale(0.86,1)" font-family="'Liberation Sans', sans-serif" font-size="7.3" fill="#333" text-anchor="middle">17</text>
<line x1="221.2" y1="345.8" x2="221.2" y2="348.4" stroke="#222" stroke-width="0.8"/>
<text transform="translate(221.2,356.4) scale(0.86,1)" font-family="'Liberation Sans', sans-serif" font-size="7.3" fill="#333" text-anchor="middle">18</text>
<line x1="229.8" y1="345.8" x2="229.8" y2="348.4" stroke="#222" stroke-width="0.8"/>
<text transform="translate(229.8,356.4) scale(0.86,1)" font-family="'Liberation Sans', sans-serif" font-size="7.3" fill="#333" text-anchor="middle">19</text>
<line x1="238.4" y1="345.8" x2="238.4" y2="348.4" stroke="#222" stroke-width="0.8"/>
<text transform="translate(238.4,356.4) scale(0.86,1)" font-family="'Liberation Sans', sans-serif" font-size="7.3" fill="#333" text-anchor="middle">20</text>
<line x1="247.0" y1="345.8" x2="247.0" y2="348.4" stroke="#222" stroke-width="0.8"/>
<text transform="translate(247.0,356.4) scale(0.86,1)" font-family="'Liberation Sans', sans-serif" font-size="7.3" fill="#333" text-anchor="middle">21</text>
<line x1="255.7" y1="345.8" x2="255.7" y2="348.4" stroke="#222" stroke-width="0.8"/>
<text transform="translate(255.7,356.4) scale(0.86,1)" font-family="'Liberation Sans', sans-serif" font-size="7.3" fill="#333" text-anchor="middle">22</text>
<line x1="264.3" y1="345.8" x2="264.3" y2="348.4" stroke="#222" stroke-width="0.8"/>
<text transform="translate(264.3,356.4) scale(0.86,1)" font-family="'Liberation Sans', sans-serif" font-size="7.3" fill="#333" text-anchor="middle">X</text>
<text transform="translate(57.2,303.5) rotate(-90) scale(0.66,1)" font-family="'Liberation Sans', sans-serif" font-size="8.8" font-weight="bold" fill="#222" text-anchor="middle">Copy number</text>
<text transform="translate(57.2,336.6) rotate(-90) scale(0.72,1)" font-family="'Liberation Sans', sans-serif" font-size="8.8" font-weight="bold" fill="#222" text-anchor="middle">VAF</text>
<rect x="70.2" y="301.6" width="8.6" height="4.4" fill="#b0bef2" opacity="0.8"/>
<rect x="70.2" y="302.7" width="8.6" height="2.2" fill="#3b52c2"/>
<rect x="70.5" y="302.5" width="0.9" height="2.6" fill="#22329a" opacity="0.85"/>
<rect x="73.1" y="302.5" width="0.9" height="2.6" fill="#22329a" opacity="0.85"/>
<rect x="75.6" y="302.5" width="1.1" height="2.6" fill="#22329a" opacity="0.85"/>
<rect x="77.5" y="302.5" width="1.2" height="2.6" fill="#22329a" opacity="0.85"/>
<rect x="69.9" y="331.0" width="9.2" height="1.4" fill="#c6c9d4"/>
<rect x="78.8" y="301.6" width="8.6" height="4.4" fill="#b0bef2" opacity="0.8"/>
<rect x="78.8" y="302.7" width="8.6" height="2.2" fill="#3b52c2"/>
<rect x="79.3" y="302.5" width="0.9" height="2.6" fill="#22329a" opacity="0.85"/>
<rect x="81.0" y="302.5" width="1.1" height="2.6" fill="#22329a" opacity="0.85"/>
<rect x="84.1" y="302.5" width="0.9" height="2.6" fill="#22329a" opacity="0.85"/>
<rect x="86.1" y="302.5" width="1.3" height="2.6" fill="#22329a" opacity="0.85"/>
<rect x="78.5" y="331.0" width="9.2" height="1.4" fill="#c6c9d4"/>
<rect x="87.4" y="301.6" width="8.6" height="4.4" fill="#b0bef2" opacity="0.8"/>
<rect x="87.4" y="302.7" width="8.6" height="2.2" fill="#3b52c2"/>
<rect x="88.0" y="302.5" width="1.1" height="2.6" fill="#22329a" opacity="0.85"/>
<rect x="91.3" y="302.5" width="0.8" height="2.6" fill="#22329a" opacity="0.85"/>
<rect x="94.1" y="302.5" width="1.0" height="2.6" fill="#22329a" opacity="0.85"/>
<rect x="87.1" y="331.0" width="9.2" height="1.4" fill="#c6c9d4"/>
<rect x="96.1" y="301.6" width="8.6" height="4.4" fill="#b0bef2" opacity="0.8"/>
<rect x="96.1" y="302.7" width="8.6" height="2.2" fill="#3b52c2"/>
<rect x="96.2" y="302.5" width="1.0" height="2.6" fill="#22329a" opacity="0.85"/>
<rect x="99.2" y="302.5" width="0.9" height="2.6" fill="#22329a" opacity="0.85"/>
<rect x="101.7" y="302.5" width="1.3" height="2.6" fill="#22329a" opacity="0.85"/>
<rect x="95.8" y="331.0" width="9.2" height="1.4" fill="#c6c9d4"/>
<rect x="104.7" y="301.6" width="8.6" height="4.4" fill="#b0bef2" opacity="0.8"/>
<rect x="104.7" y="302.7" width="8.6" height="2.2" fill="#3b52c2"/>
<rect x="105.2" y="302.5" width="0.9" height="2.6" fill="#22329a" opacity="0.85"/>
<rect x="107.0" y="302.5" width="1.0" height="2.6" fill="#22329a" opacity="0.85"/>
<rect x="109.7" y="302.5" width="1.1" height="2.6" fill="#22329a" opacity="0.85"/>
<rect x="112.1" y="302.5" width="1.3" height="2.6" fill="#22329a" opacity="0.85"/>
<rect x="104.4" y="331.0" width="9.2" height="1.4" fill="#c6c9d4"/>
<rect x="113.3" y="301.6" width="8.6" height="4.4" fill="#b0bef2" opacity="0.8"/>
<rect x="113.3" y="302.7" width="8.6" height="2.2" fill="#3b52c2"/>
<rect x="113.6" y="302.5" width="1.4" height="2.6" fill="#22329a" opacity="0.85"/>
<rect x="116.8" y="302.5" width="1.0" height="2.6" fill="#22329a" opacity="0.85"/>
<rect x="119.4" y="302.5" width="1.2" height="2.6" fill="#22329a" opacity="0.85"/>
<rect x="113.0" y="331.0" width="9.2" height="1.4" fill="#c6c9d4"/>
<rect x="122.0" y="301.6" width="8.6" height="4.4" fill="#b0bef2" opacity="0.8"/>
<rect x="122.0" y="302.7" width="8.6" height="2.2" fill="#3b52c2"/>
<rect x="122.7" y="302.5" width="1.0" height="2.6" fill="#22329a" opacity="0.85"/>
<rect x="125.9" y="302.5" width="0.9" height="2.6" fill="#22329a" opacity="0.85"/>
<rect x="128.2" y="302.5" width="1.4" height="2.6" fill="#22329a" opacity="0.85"/>
<rect x="121.7" y="331.0" width="9.2" height="1.4" fill="#c6c9d4"/>
<rect x="130.6" y="301.6" width="8.6" height="4.4" fill="#b0bef2" opacity="0.8"/>
<rect x="130.6" y="302.7" width="8.6" height="2.2" fill="#3b52c2"/>
<rect x="131.1" y="302.5" width="0.8" height="2.6" fill="#22329a" opacity="0.85"/>
<rect x="133.6" y="302.5" width="1.4" height="2.6" fill="#22329a" opacity="0.85"/>
<rect x="136.6" y="302.5" width="1.5" height="2.6" fill="#22329a" opacity="0.85"/>
<rect x="130.3" y="331.0" width="9.2" height="1.4" fill="#c6c9d4"/>
<rect x="139.2" y="301.6" width="2.4" height="4.4" fill="#b0bef2" opacity="0.8"/>
<rect x="139.2" y="302.7" width="2.4" height="2.2" fill="#3b52c2"/>
<rect x="139.9" y="302.5" width="1.3" height="2.6" fill="#22329a" opacity="0.85"/>
<rect x="138.9" y="331.0" width="3.0" height="1.4" fill="#c6c9d4"/>
<rect x="143.1" y="301.6" width="4.7" height="4.4" fill="#b0bef2" opacity="0.8"/>
<rect x="143.1" y="302.7" width="4.7" height="2.2" fill="#3b52c2"/>
<rect x="143.5" y="302.5" width="1.5" height="2.6" fill="#22329a" opacity="0.85"/>
<rect x="142.8" y="331.0" width="5.3" height="1.4" fill="#c6c9d4"/>
<rect x="147.8" y="301.6" width="8.6" height="4.4" fill="#b0bef2" opacity="0.8"/>
<rect x="147.8" y="302.7" width="8.6" height="2.2" fill="#3b52c2"/>
<rect x="148.3" y="302.5" width="1.3" height="2.6" fill="#22329a" opacity="0.85"/>
<rect x="150.5" y="302.5" width="1.4" height="2.6" fill="#22329a" opacity="0.85"/>
<rect x="153.6" y="302.5" width="1.6" height="2.6" fill="#22329a" opacity="0.85"/>
<rect x="147.5" y="331.0" width="9.2" height="1.4" fill="#c6c9d4"/>
<rect x="156.5" y="301.6" width="8.6" height="4.4" fill="#b0bef2" opacity="0.8"/>
<rect x="156.5" y="302.7" width="8.6" height="2.2" fill="#3b52c2"/>
<rect x="156.7" y="302.5" width="1.1" height="2.6" fill="#22329a" opacity="0.85"/>
<rect x="159.6" y="302.5" width="0.8" height="2.6" fill="#22329a" opacity="0.85"/>
<rect x="161.9" y="302.5" width="0.9" height="2.6" fill="#22329a" opacity="0.85"/>
<rect x="163.8" y="302.5" width="0.8" height="2.6" fill="#22329a" opacity="0.85"/>
<rect x="156.2" y="331.0" width="9.2" height="1.4" fill="#c6c9d4"/>
<rect x="165.1" y="301.6" width="8.6" height="4.4" fill="#b0bef2" opacity="0.8"/>
<rect x="165.1" y="302.7" width="8.6" height="2.2" fill="#3b52c2"/>
<rect x="165.2" y="302.5" width="1.0" height="2.6" fill="#22329a" opacity="0.85"/>
<rect x="167.6" y="302.5" width="1.5" height="2.6" fill="#22329a" opacity="0.85"/>
<rect x="170.0" y="302.5" width="1.2" height="2.6" fill="#22329a" opacity="0.85"/>
<rect x="172.7" y="302.5" width="1.5" height="2.6" fill="#22329a" opacity="0.85"/>
<rect x="164.8" y="331.0" width="9.2" height="1.4" fill="#c6c9d4"/>
<rect x="175.6" y="301.6" width="6.7" height="4.4" fill="#b0bef2" opacity="0.8"/>
<rect x="175.6" y="302.7" width="6.7" height="2.2" fill="#3b52c2"/>
<rect x="176.5" y="302.5" width="1.0" height="2.6" fill="#22329a" opacity="0.85"/>
<rect x="178.9" y="302.5" width="1.1" height="2.6" fill="#22329a" opacity="0.85"/>
<rect x="175.3" y="331.0" width="7.3" height="1.4" fill="#c6c9d4"/>
<rect x="184.2" y="301.6" width="6.7" height="4.4" fill="#b0bef2" opacity="0.8"/>
<rect x="184.2" y="302.7" width="6.7" height="2.2" fill="#3b52c2"/>
<rect x="185.2" y="302.5" width="0.9" height="2.6" fill="#22329a" opacity="0.85"/>
<rect x="187.2" y="302.5" width="1.0" height="2.6" fill="#22329a" opacity="0.85"/>
<rect x="189.3" y="302.5" width="1.2" height="2.6" fill="#22329a" opacity="0.85"/>
<rect x="183.9" y="331.0" width="7.3" height="1.4" fill="#c6c9d4"/>
<rect x="192.9" y="301.6" width="6.7" height="4.4" fill="#b0bef2" opacity="0.8"/>
<rect x="192.9" y="302.7" width="6.7" height="2.2" fill="#3b52c2"/>
<rect x="193.1" y="302.5" width="0.8" height="2.6" fill="#22329a" opacity="0.85"/>
<rect x="195.3" y="302.5" width="1.1" height="2.6" fill="#22329a" opacity="0.85"/>
<rect x="198.0" y="302.5" width="1.6" height="2.6" fill="#22329a" opacity="0.85"/>
<rect x="192.6" y="331.0" width="7.3" height="1.4" fill="#c6c9d4"/>
<rect x="199.6" y="301.6" width="8.6" height="4.4" fill="#b0bef2" opacity="0.8"/>
<rect x="199.6" y="302.7" width="8.6" height="2.2" fill="#3b52c2"/>
<rect x="200.1" y="302.5" width="1.3" height="2.6" fill="#22329a" opacity="0.85"/>
<rect x="203.2" y="302.5" width="0.8" height="2.6" fill="#22329a" opacity="0.85"/>
<rect x="206.1" y="302.5" width="1.4" height="2.6" fill="#22329a" opacity="0.85"/>
<rect x="199.3" y="331.0" width="9.2" height="1.4" fill="#c6c9d4"/>
<rect x="208.2" y="301.6" width="8.6" height="4.4" fill="#b0bef2" opacity="0.8"/>
<rect x="208.2" y="302.7" width="8.6" height="2.2" fill="#3b52c2"/>
<rect x="209.0" y="302.5" width="1.1" height="2.6" fill="#22329a" opacity="0.85"/>
<rect x="211.5" y="302.5" width="0.9" height="2.6" fill="#22329a" opacity="0.85"/>
<rect x="214.1" y="302.5" width="0.8" height="2.6" fill="#22329a" opacity="0.85"/>
<rect x="215.8" y="302.5" width="1.0" height="2.6" fill="#22329a" opacity="0.85"/>
<rect x="207.9" y="331.0" width="9.2" height="1.4" fill="#c6c9d4"/>
<rect x="216.8" y="301.6" width="8.6" height="4.4" fill="#b0bef2" opacity="0.8"/>
<rect x="216.8" y="302.7" width="8.6" height="2.2" fill="#3b52c2"/>
<rect x="217.2" y="302.5" width="0.8" height="2.6" fill="#22329a" opacity="0.85"/>
<rect x="218.8" y="302.5" width="0.9" height="2.6" fill="#22329a" opacity="0.85"/>
<rect x="220.7" y="302.5" width="1.1" height="2.6" fill="#22329a" opacity="0.85"/>
<rect x="222.6" y="302.5" width="1.5" height="2.6" fill="#22329a" opacity="0.85"/>
<rect x="216.5" y="331.0" width="9.2" height="1.4" fill="#c6c9d4"/>
<rect x="225.5" y="301.6" width="8.6" height="4.4" fill="#b0bef2" opacity="0.8"/>
<rect x="225.5" y="302.7" width="8.6" height="2.2" fill="#3b52c2"/>
<rect x="225.6" y="302.5" width="1.0" height="2.6" fill="#22329a" opacity="0.85"/>
<rect x="227.9" y="302.5" width="1.1" height="2.6" fill="#22329a" opacity="0.85"/>
<rect x="230.0" y="302.5" width="1.5" height="2.6" fill="#22329a" opacity="0.85"/>
<rect x="225.2" y="331.0" width="9.2" height="1.4" fill="#c6c9d4"/>
<rect x="234.1" y="301.6" width="8.6" height="4.4" fill="#b0bef2" opacity="0.8"/>
<rect x="234.1" y="302.7" width="8.6" height="2.2" fill="#3b52c2"/>
<rect x="234.6" y="302.5" width="1.2" height="2.6" fill="#22329a" opacity="0.85"/>
<rect x="236.7" y="302.5" width="0.9" height="2.6" fill="#22329a" opacity="0.85"/>
<rect x="238.8" y="302.5" width="1.0" height="2.6" fill="#22329a" opacity="0.85"/>
<rect x="241.8" y="302.5" width="0.9" height="2.6" fill="#22329a" opacity="0.85"/>
<rect x="233.8" y="331.0" width="9.2" height="1.4" fill="#c6c9d4"/>
<rect x="245.3" y="301.6" width="6.0" height="4.4" fill="#b0bef2" opacity="0.8"/>
<rect x="245.3" y="302.7" width="6.0" height="2.2" fill="#3b52c2"/>
<rect x="246.3" y="302.5" width="1.2" height="2.6" fill="#22329a" opacity="0.85"/>
<rect x="248.5" y="302.5" width="1.2" height="2.6" fill="#22329a" opacity="0.85"/>
<rect x="245.0" y="331.0" width="6.6" height="1.4" fill="#c6c9d4"/>
<rect x="253.5" y="301.6" width="6.5" height="4.4" fill="#b0bef2" opacity="0.8"/>
<rect x="253.5" y="302.7" width="6.5" height="2.2" fill="#3b52c2"/>
<rect x="254.0" y="302.5" width="1.6" height="2.6" fill="#22329a" opacity="0.85"/>
<rect x="257.6" y="302.5" width="1.4" height="2.6" fill="#22329a" opacity="0.85"/>
<rect x="253.2" y="331.0" width="7.1" height="1.4" fill="#c6c9d4"/>
<rect x="260.0" y="301.6" width="8.6" height="4.4" fill="#b0bef2" opacity="0.8"/>
<rect x="260.0" y="302.7" width="8.6" height="2.2" fill="#3b52c2"/>
<rect x="260.4" y="302.5" width="0.9" height="2.6" fill="#22329a" opacity="0.85"/>
<rect x="263.2" y="302.5" width="1.2" height="2.6" fill="#22329a" opacity="0.85"/>
<rect x="266.3" y="302.5" width="1.1" height="2.6" fill="#22329a" opacity="0.85"/>
<rect x="259.7" y="331.0" width="9.2" height="1.4" fill="#c6c9d4"/>
<rect x="70.2" y="329.9" width="5.2" height="3.6" rx="1" fill="#2c48b8"/>
<rect x="116.8" y="330.9" width="1.7" height="1.6" fill="#9a9fbe"/>
<rect x="261.3" y="330.0" width="6.9" height="3.4" fill="#3563d4"/>
<line x1="326.7" y1="288.3" x2="326.7" y2="345.8" stroke="#eff0f3" stroke-width="0.6"/>
<line x1="335.3" y1="288.3" x2="335.3" y2="345.8" stroke="#eff0f3" stroke-width="0.6"/>
<line x1="344.0" y1="288.3" x2="344.0" y2="345.8" stroke="#eff0f3" stroke-width="0.6"/>
<line x1="352.6" y1="288.3" x2="352.6" y2="345.8" stroke="#eff0f3" stroke-width="0.6"/>
<line x1="361.2" y1="288.3" x2="361.2" y2="345.8" stroke="#eff0f3" stroke-width="0.6"/>
<line x1="369.9" y1="288.3" x2="369.9" y2="345.8" stroke="#eff0f3" stroke-width="0.6"/>
<line x1="378.5" y1="288.3" x2="378.5" y2="345.8" stroke="#eff0f3" stroke-width="0.6"/>
<line x1="387.1" y1="288.3" x2="387.1" y2="345.8" stroke="#eff0f3" stroke-width="0.6"/>
<line x1="395.7" y1="288.3" x2="395.7" y2="345.8" stroke="#eff0f3" stroke-width="0.6"/>
<line x1="404.4" y1="288.3" x2="404.4" y2="345.8" stroke="#eff0f3" stroke-width="0.6"/>
<line x1="413.0" y1="288.3" x2="413.0" y2="345.8" stroke="#eff0f3" stroke-width="0.6"/>
<line x1="421.6" y1="288.3" x2="421.6" y2="345.8" stroke="#eff0f3" stroke-width="0.6"/>
<line x1="430.2" y1="288.3" x2="430.2" y2="345.8" stroke="#eff0f3" stroke-width="0.6"/>
<line x1="438.9" y1="288.3" x2="438.9" y2="345.8" stroke="#eff0f3" stroke-width="0.6"/>
<line x1="447.5" y1="288.3" x2="447.5" y2="345.8" stroke="#eff0f3" stroke-width="0.6"/>
<line x1="456.1" y1="288.3" x2="456.1" y2="345.8" stroke="#eff0f3" stroke-width="0.6"/>
<line x1="464.7" y1="288.3" x2="464.7" y2="345.8" stroke="#eff0f3" stroke-width="0.6"/>
<line x1="473.4" y1="288.3" x2="473.4" y2="345.8" stroke="#eff0f3" stroke-width="0.6"/>
<line x1="482.0" y1="288.3" x2="482.0" y2="345.8" stroke="#eff0f3" stroke-width="0.6"/>
<line x1="490.6" y1="288.3" x2="490.6" y2="345.8" stroke="#eff0f3" stroke-width="0.6"/>
<line x1="499.3" y1="288.3" x2="499.3" y2="345.8" stroke="#eff0f3" stroke-width="0.6"/>
<line x1="507.9" y1="288.3" x2="507.9" y2="345.8" stroke="#eff0f3" stroke-width="0.6"/>
<line x1="516.5" y1="288.3" x2="516.5" y2="345.8" stroke="#eff0f3" stroke-width="0.6"/>
<line x1="318.6" y1="319.9" x2="516.5" y2="319.9" stroke="#eef0e0" stroke-width="0.6"/>
<line x1="318.6" y1="285.3" x2="318.6" y2="346.4" stroke="#222" stroke-width="1.2"/>
<line x1="318.0" y1="345.8" x2="520.0" y2="345.8" stroke="#222" stroke-width="1.2"/>
<line x1="316.2" y1="289.3" x2="318.6" y2="289.3" stroke="#222" stroke-width="0.8"/>
<text x="313.3" y="290.7" font-family="'Liberation Sans', sans-serif" font-size="4" fill="#222" text-anchor="end">3</text>
<line x1="316.2" y1="294.0" x2="318.6" y2="294.0" stroke="#222" stroke-width="0.8"/>
<text x="313.3" y="295.4" font-family="'Liberation Sans', sans-serif" font-size="4" fill="#222" text-anchor="end">2</text>
<line x1="316.2" y1="298.7" x2="318.6" y2="298.7" stroke="#222" stroke-width="0.8"/>
<text x="313.3" y="300.1" font-family="'Liberation Sans', sans-serif" font-size="4" fill="#222" text-anchor="end">1</text>
<line x1="316.2" y1="303.4" x2="318.6" y2="303.4" stroke="#222" stroke-width="0.8"/>
<text x="313.3" y="304.8" font-family="'Liberation Sans', sans-serif" font-size="4" fill="#222" text-anchor="end">0</text>
<line x1="316.2" y1="308.1" x2="318.6" y2="308.1" stroke="#222" stroke-width="0.8"/>
<text x="313.3" y="309.5" font-family="'Liberation Sans', sans-serif" font-size="4" fill="#222" text-anchor="end">-1</text>
<line x1="316.2" y1="312.8" x2="318.6" y2="312.8" stroke="#222" stroke-width="0.8"/>
<text x="313.3" y="314.2" font-family="'Liberation Sans', sans-serif" font-size="4" fill="#222" text-anchor="end">-2</text>
<line x1="316.2" y1="317.6" x2="318.6" y2="317.6" stroke="#222" stroke-width="0.8"/>
<text x="313.3" y="318.9" font-family="'Liberation Sans', sans-serif" font-size="4" fill="#222" text-anchor="end">-3</text>
<line x1="316.2" y1="322.3" x2="318.6" y2="322.3" stroke="#222" stroke-width="0.8"/>
<text x="313.3" y="323.7" font-family="'Liberation Sans', sans-serif" font-size="4" fill="#222" text-anchor="end">1</text>
<line x1="316.2" y1="327.0" x2="318.6" y2="327.0" stroke="#222" stroke-width="0.8"/>
<text x="313.3" y="328.4" font-family="'Liberation Sans', sans-serif" font-size="4" fill="#222" text-anchor="end">.8</text>
<line x1="316.2" y1="331.7" x2="318.6" y2="331.7" stroke="#222" stroke-width="0.8"/>
<text x="313.3" y="333.1" font-family="'Liberation Sans', sans-serif" font-size="4" fill="#222" text-anchor="end">.6</text>
<line x1="316.2" y1="336.4" x2="318.6" y2="336.4" stroke="#222" stroke-width="0.8"/>
<text x="313.3" y="337.8" font-family="'Liberation Sans', sans-serif" font-size="4" fill="#222" text-anchor="end">.4</text>
<line x1="316.2" y1="341.1" x2="318.6" y2="341.1" stroke="#222" stroke-width="0.8"/>
<text x="313.3" y="342.5" font-family="'Liberation Sans', sans-serif" font-size="4" fill="#222" text-anchor="end">.2</text>
<line x1="316.2" y1="345.8" x2="318.6" y2="345.8" stroke="#222" stroke-width="0.8"/>
<text x="313.3" y="347.2" font-family="'Liberation Sans', sans-serif" font-size="4" fill="#222" text-anchor="end">0</text>
<line x1="322.4" y1="345.8" x2="322.4" y2="348.4" stroke="#222" stroke-width="0.8"/>
<text transform="translate(322.4,356.4) scale(0.86,1)" font-family="'Liberation Sans', sans-serif" font-size="7.3" fill="#333" text-anchor="middle">1</text>
<line x1="331.0" y1="345.8" x2="331.0" y2="348.4" stroke="#222" stroke-width="0.8"/>
<text transform="translate(331.0,356.4) scale(0.86,1)" font-family="'Liberation Sans', sans-serif" font-size="7.3" fill="#333" text-anchor="middle">2</text>
<line x1="339.7" y1="345.8" x2="339.7" y2="348.4" stroke="#222" stroke-width="0.8"/>
<text transform="translate(339.7,356.4) scale(0.86,1)" font-family="'Liberation Sans', sans-serif" font-size="7.3" fill="#333" text-anchor="middle">3</text>
<line x1="348.3" y1="345.8" x2="348.3" y2="348.4" stroke="#222" stroke-width="0.8"/>
<text transform="translate(348.3,356.4) scale(0.86,1)" font-family="'Liberation Sans', sans-serif" font-size="7.3" fill="#333" text-anchor="middle">4</text>
<line x1="356.9" y1="345.8" x2="356.9" y2="348.4" stroke="#222" stroke-width="0.8"/>
<text transform="translate(356.9,356.4) scale(0.86,1)" font-family="'Liberation Sans', sans-serif" font-size="7.3" fill="#333" text-anchor="middle">5</text>
<line x1="365.5" y1="345.8" x2="365.5" y2="348.4" stroke="#222" stroke-width="0.8"/>
<text transform="translate(365.5,356.4) scale(0.86,1)" font-family="'Liberation Sans', sans-serif" font-size="7.3" fill="#333" text-anchor="middle">6</text>
<line x1="374.2" y1="345.8" x2="374.2" y2="348.4" stroke="#222" stroke-width="0.8"/>
<text transform="translate(374.2,356.4) scale(0.86,1)" font-family="'Liberation Sans', sans-serif" font-size="7.3" fill="#333" text-anchor="middle">7</text>
<line x1="382.8" y1="345.8" x2="382.8" y2="348.4" stroke="#222" stroke-width="0.8"/>
<text transform="translate(382.8,356.4) scale(0.86,1)" font-family="'Liberation Sans', sans-serif" font-size="7.3" fill="#333" text-anchor="middle">8</text>
<line x1="391.4" y1="345.8" x2="391.4" y2="348.4" stroke="#222" stroke-width="0.8"/>
<text transform="translate(391.4,356.4) scale(0.86,1)" font-family="'Liberation Sans', sans-serif" font-size="7.3" fill="#333" text-anchor="middle">9</text>
<line x1="400.0" y1="345.8" x2="400.0" y2="348.4" stroke="#222" stroke-width="0.8"/>
<text transform="translate(400.0,356.4) scale(0.86,1)" font-family="'Liberation Sans', sans-serif" font-size="7.3" fill="#333" text-anchor="middle">10</text>
<line x1="408.7" y1="345.8" x2="408.7" y2="348.4" stroke="#222" stroke-width="0.8"/>
<text transform="translate(408.7,356.4) scale(0.86,1)" font-family="'Liberation Sans', sans-serif" font-size="7.3" fill="#333" text-anchor="middle">11</text>
<line x1="417.3" y1="345.8" x2="417.3" y2="348.4" stroke="#222" stroke-width="0.8"/>
<text transform="translate(417.3,356.4) scale(0.86,1)" font-family="'Liberation Sans', sans-serif" font-size="7.3" fill="#333" text-anchor="middle">12</text>
<line x1="425.9" y1="345.8" x2="425.9" y2="348.4" stroke="#222" stroke-width="0.8"/>
<text transform="translate(425.9,356.4) scale(0.86,1)" font-family="'Liberation Sans', sans-serif" font-size="7.3" fill="#333" text-anchor="middle">13</text>
<line x1="434.6" y1="345.8" x2="434.6" y2="348.4" stroke="#222" stroke-width="0.8"/>
<text transform="translate(434.6,356.4) scale(0.86,1)" font-family="'Liberation Sans', sans-serif" font-size="7.3" fill="#333" text-anchor="middle">14</text>
<line x1="443.2" y1="345.8" x2="443.2" y2="348.4" stroke="#222" stroke-width="0.8"/>
<text transform="translate(443.2,356.4) scale(0.86,1)" font-family="'Liberation Sans', sans-serif" font-size="7.3" fill="#333" text-anchor="middle">15</text>
<line x1="451.8" y1="345.8" x2="451.8" y2="348.4" stroke="#222" stroke-width="0.8"/>
<text transform="translate(451.8,356.4) scale(0.86,1)" font-family="'Liberation Sans', sans-serif" font-size="7.3" fill="#333" text-anchor="middle">16</text>
<line x1="460.4" y1="345.8" x2="460.4" y2="348.4" stroke="#222" stroke-width="0.8"/>
<text transform="translate(460.4,356.4) scale(0.86,1)" font-family="'Liberation Sans', sans-serif" font-size="7.3" fill="#333" text-anchor="middle">17</text>
<line x1="469.1" y1="345.8" x2="469.1" y2="348.4" stroke="#222" stroke-width="0.8"/>
<text transform="translate(469.1,356.4) scale(0.86,1)" font-family="'Liberation Sans', sans-serif" font-size="7.3" fill="#333" text-anchor="middle">18</text>
<line x1="477.7" y1="345.8" x2="477.7" y2="348.4" stroke="#222" stroke-width="0.8"/>
<text transform="translate(477.7,356.4) scale(0.86,1)" font-family="'Liberation Sans', sans-serif" font-size="7.3" fill="#333" text-anchor="middle">19</text>
<line x1="486.3" y1="345.8" x2="486.3" y2="348.4" stroke="#222" stroke-width="0.8"/>
<text transform="translate(486.3,356.4) scale(0.86,1)" font-family="'Liberation Sans', sans-serif" font-size="7.3" fill="#333" text-anchor="middle">20</text>
<line x1="494.9" y1="345.8" x2="494.9" y2="348.4" stroke="#222" stroke-width="0.8"/>
<text transform="translate(494.9,356.4) scale(0.86,1)" font-family="'Liberation Sans', sans-serif" font-size="7.3" fill="#333" text-anchor="middle">21</text>
<line x1="503.6" y1="345.8" x2="503.6" y2="348.4" stroke="#222" stroke-width="0.8"/>
<text transform="translate(503.6,356.4) scale(0.86,1)" font-family="'Liberation Sans', sans-serif" font-size="7.3" fill="#333" text-anchor="middle">22</text>
<line x1="512.2" y1="345.8" x2="512.2" y2="348.4" stroke="#222" stroke-width="0.8"/>
<text transform="translate(512.2,356.4) scale(0.86,1)" font-family="'Liberation Sans', sans-serif" font-size="7.3" fill="#333" text-anchor="middle">X</text>
<text transform="translate(305.1,303.5) rotate(-90) scale(0.66,1)" font-family="'Liberation Sans', sans-serif" font-size="8.8" font-weight="bold" fill="#222" text-anchor="middle">Copy number</text>
<text transform="translate(305.1,336.6) rotate(-90) scale(0.72,1)" font-family="'Liberation Sans', sans-serif" font-size="8.8" font-weight="bold" fill="#222" text-anchor="middle">VAF</text>
<rect x="318.1" y="302.3" width="8.6" height="4.4" fill="#b0bef2" opacity="0.8"/>
<rect x="318.1" y="303.4" width="8.6" height="2.2" fill="#3b52c2"/>
<rect x="318.9" y="303.2" width="1.6" height="2.6" fill="#22329a" opacity="0.85"/>
<rect x="322.5" y="303.2" width="1.4" height="2.6" fill="#22329a" opacity="0.85"/>
<rect x="325.9" y="303.2" width="1.4" height="2.6" fill="#22329a" opacity="0.85"/>
<rect x="317.8" y="331.7" width="9.2" height="1.4" fill="#c6c9d4"/>
<rect x="326.7" y="302.3" width="8.6" height="4.4" fill="#b0bef2" opacity="0.8"/>
<rect x="326.7" y="303.4" width="8.6" height="2.2" fill="#3b52c2"/>
<rect x="327.2" y="303.2" width="1.1" height="2.6" fill="#22329a" opacity="0.85"/>
<rect x="329.2" y="303.2" width="0.8" height="2.6" fill="#22329a" opacity="0.85"/>
<rect x="331.2" y="303.2" width="1.0" height="2.6" fill="#22329a" opacity="0.85"/>
<rect x="334.0" y="303.2" width="1.6" height="2.6" fill="#22329a" opacity="0.85"/>
<rect x="326.4" y="331.7" width="9.2" height="1.4" fill="#c6c9d4"/>
<rect x="335.3" y="302.3" width="8.6" height="4.4" fill="#b0bef2" opacity="0.8"/>
<rect x="335.3" y="303.4" width="8.6" height="2.2" fill="#3b52c2"/>
<rect x="336.3" y="303.2" width="1.6" height="2.6" fill="#22329a" opacity="0.85"/>
<rect x="340.0" y="303.2" width="1.1" height="2.6" fill="#22329a" opacity="0.85"/>
<rect x="342.2" y="303.2" width="1.0" height="2.6" fill="#22329a" opacity="0.85"/>
<rect x="335.0" y="331.7" width="9.2" height="1.4" fill="#c6c9d4"/>
<rect x="344.0" y="302.3" width="8.6" height="4.4" fill="#b0bef2" opacity="0.8"/>
<rect x="344.0" y="303.4" width="8.6" height="2.2" fill="#3b52c2"/>
<rect x="344.2" y="303.2" width="1.3" height="2.6" fill="#22329a" opacity="0.85"/>
<rect x="347.5" y="303.2" width="1.5" height="2.6" fill="#22329a" opacity="0.85"/>
<rect x="350.5" y="303.2" width="1.3" height="2.6" fill="#22329a" opacity="0.85"/>
<rect x="343.7" y="331.7" width="9.2" height="1.4" fill="#c6c9d4"/>
<rect x="352.6" y="302.3" width="8.6" height="4.4" fill="#b0bef2" opacity="0.8"/>
<rect x="352.6" y="303.4" width="8.6" height="2.2" fill="#3b52c2"/>
<rect x="352.7" y="303.2" width="1.3" height="2.6" fill="#22329a" opacity="0.85"/>
<rect x="356.1" y="303.2" width="1.4" height="2.6" fill="#22329a" opacity="0.85"/>
<rect x="359.4" y="303.2" width="1.2" height="2.6" fill="#22329a" opacity="0.85"/>
<rect x="352.3" y="331.7" width="9.2" height="1.4" fill="#c6c9d4"/>
<rect x="361.2" y="302.3" width="8.6" height="4.4" fill="#b0bef2" opacity="0.8"/>
<rect x="361.2" y="303.4" width="8.6" height="2.2" fill="#3b52c2"/>
<rect x="362.0" y="303.2" width="1.1" height="2.6" fill="#22329a" opacity="0.85"/>
<rect x="365.0" y="303.2" width="1.6" height="2.6" fill="#22329a" opacity="0.85"/>
<rect x="367.9" y="303.2" width="1.1" height="2.6" fill="#22329a" opacity="0.85"/>
<rect x="360.9" y="331.7" width="9.2" height="1.4" fill="#c6c9d4"/>
<rect x="369.9" y="302.3" width="8.6" height="4.4" fill="#b0bef2" opacity="0.8"/>
<rect x="369.9" y="303.4" width="8.6" height="2.2" fill="#3b52c2"/>
<rect x="370.6" y="303.2" width="0.9" height="2.6" fill="#22329a" opacity="0.85"/>
<rect x="372.5" y="303.2" width="0.9" height="2.6" fill="#22329a" opacity="0.85"/>
<rect x="375.5" y="303.2" width="1.4" height="2.6" fill="#22329a" opacity="0.85"/>
<rect x="369.6" y="331.7" width="9.2" height="1.4" fill="#c6c9d4"/>
<rect x="378.5" y="302.3" width="8.6" height="4.4" fill="#b0bef2" opacity="0.8"/>
<rect x="378.5" y="303.4" width="8.6" height="2.2" fill="#3b52c2"/>
<rect x="379.3" y="303.2" width="1.6" height="2.6" fill="#22329a" opacity="0.85"/>
<rect x="382.6" y="303.2" width="1.1" height="2.6" fill="#22329a" opacity="0.85"/>
<rect x="385.3" y="303.2" width="0.9" height="2.6" fill="#22329a" opacity="0.85"/>
<rect x="378.2" y="331.7" width="9.2" height="1.4" fill="#c6c9d4"/>
<rect x="387.1" y="302.3" width="2.4" height="4.4" fill="#b0bef2" opacity="0.8"/>
<rect x="387.1" y="303.4" width="2.4" height="2.2" fill="#3b52c2"/>
<rect x="388.1" y="303.2" width="1.3" height="2.6" fill="#22329a" opacity="0.85"/>
<rect x="386.8" y="331.7" width="3.0" height="1.4" fill="#c6c9d4"/>
<rect x="391.0" y="302.3" width="4.7" height="4.4" fill="#b0bef2" opacity="0.8"/>
<rect x="391.0" y="303.4" width="4.7" height="2.2" fill="#3b52c2"/>
<rect x="391.9" y="303.2" width="1.1" height="2.6" fill="#22329a" opacity="0.85"/>
<rect x="390.7" y="331.7" width="5.3" height="1.4" fill="#c6c9d4"/>
<rect x="395.7" y="302.3" width="8.6" height="4.4" fill="#b0bef2" opacity="0.8"/>
<rect x="395.7" y="303.4" width="8.6" height="2.2" fill="#3b52c2"/>
<rect x="396.6" y="303.2" width="1.0" height="2.6" fill="#22329a" opacity="0.85"/>
<rect x="398.7" y="303.2" width="1.0" height="2.6" fill="#22329a" opacity="0.85"/>
<rect x="400.9" y="303.2" width="1.3" height="2.6" fill="#22329a" opacity="0.85"/>
<rect x="403.3" y="303.2" width="1.1" height="2.6" fill="#22329a" opacity="0.85"/>
<rect x="395.4" y="331.7" width="9.2" height="1.4" fill="#c6c9d4"/>
<rect x="404.4" y="302.3" width="8.6" height="4.4" fill="#b0bef2" opacity="0.8"/>
<rect x="404.4" y="303.4" width="8.6" height="2.2" fill="#3b52c2"/>
<rect x="405.3" y="303.2" width="1.1" height="2.6" fill="#22329a" opacity="0.85"/>
<rect x="407.8" y="303.2" width="1.3" height="2.6" fill="#22329a" opacity="0.85"/>
<rect x="411.1" y="303.2" width="1.1" height="2.6" fill="#22329a" opacity="0.85"/>
<rect x="404.1" y="331.7" width="9.2" height="1.4" fill="#c6c9d4"/>
<rect x="413.0" y="302.3" width="8.6" height="4.4" fill="#b0bef2" opacity="0.8"/>
<rect x="413.0" y="303.4" width="8.6" height="2.2" fill="#3b52c2"/>
<rect x="413.5" y="303.2" width="1.2" height="2.6" fill="#22329a" opacity="0.85"/>
<rect x="416.2" y="303.2" width="0.8" height="2.6" fill="#22329a" opacity="0.85"/>
<rect x="418.5" y="303.2" width="0.9" height="2.6" fill="#22329a" opacity="0.85"/>
<rect x="420.2" y="303.2" width="1.4" height="2.6" fill="#22329a" opacity="0.85"/>
<rect x="412.7" y="331.7" width="9.2" height="1.4" fill="#c6c9d4"/>
<rect x="423.5" y="302.3" width="6.7" height="4.4" fill="#b0bef2" opacity="0.8"/>
<rect x="423.5" y="303.4" width="6.7" height="2.2" fill="#3b52c2"/>
<rect x="424.0" y="303.2" width="1.4" height="2.6" fill="#22329a" opacity="0.85"/>
<rect x="426.9" y="303.2" width="1.1" height="2.6" fill="#22329a" opacity="0.85"/>
<rect x="423.2" y="331.7" width="7.3" height="1.4" fill="#c6c9d4"/>
<rect x="432.1" y="302.3" width="6.7" height="4.4" fill="#b0bef2" opacity="0.8"/>
<rect x="432.1" y="303.4" width="6.7" height="2.2" fill="#3b52c2"/>
<rect x="432.7" y="303.2" width="1.4" height="2.6" fill="#22329a" opacity="0.85"/>
<rect x="435.1" y="303.2" width="1.2" height="2.6" fill="#22329a" opacity="0.85"/>
<rect x="437.5" y="303.2" width="1.0" height="2.6" fill="#22329a" opacity="0.85"/>
<rect x="431.8" y="331.7" width="7.3" height="1.4" fill="#c6c9d4"/>
<rect x="440.8" y="302.3" width="6.7" height="4.4" fill="#b0bef2" opacity="0.8"/>
<rect x="440.8" y="303.4" width="6.7" height="2.2" fill="#3b52c2"/>
<rect x="441.3" y="303.2" width="1.2" height="2.6" fill="#22329a" opacity="0.85"/>
<rect x="444.4" y="303.2" width="1.5" height="2.6" fill="#22329a" opacity="0.85"/>
<rect x="440.5" y="331.7" width="7.3" height="1.4" fill="#c6c9d4"/>
<rect x="447.5" y="302.3" width="8.6" height="4.4" fill="#b0bef2" opacity="0.8"/>
<rect x="447.5" y="303.4" width="8.6" height="2.2" fill="#3b52c2"/>
<rect x="448.1" y="303.2" width="1.2" height="2.6" fill="#22329a" opacity="0.85"/>
<rect x="450.8" y="303.2" width="1.4" height="2.6" fill="#22329a" opacity="0.85"/>
<rect x="453.6" y="303.2" width="1.2" height="2.6" fill="#22329a" opacity="0.85"/>
<rect x="447.2" y="331.7" width="9.2" height="1.4" fill="#c6c9d4"/>
<rect x="456.1" y="302.3" width="8.6" height="4.4" fill="#b0bef2" opacity="0.8"/>
<rect x="456.1" y="303.4" width="8.6" height="2.2" fill="#3b52c2"/>
<rect x="457.1" y="303.2" width="1.4" height="2.6" fill="#22329a" opacity="0.85"/>
<rect x="460.5" y="303.2" width="1.6" height="2.6" fill="#22329a" opacity="0.85"/>
<rect x="463.2" y="303.2" width="1.2" height="2.6" fill="#22329a" opacity="0.85"/>
<rect x="455.8" y="331.7" width="9.2" height="1.4" fill="#c6c9d4"/>
<rect x="464.7" y="302.3" width="8.6" height="4.4" fill="#b0bef2" opacity="0.8"/>
<rect x="464.7" y="303.4" width="8.6" height="2.2" fill="#3b52c2"/>
<rect x="465.6" y="303.2" width="0.9" height="2.6" fill="#22329a" opacity="0.85"/>
<rect x="467.5" y="303.2" width="1.2" height="2.6" fill="#22329a" opacity="0.85"/>
<rect x="469.5" y="303.2" width="1.0" height="2.6" fill="#22329a" opacity="0.85"/>
<rect x="471.4" y="303.2" width="1.3" height="2.6" fill="#22329a" opacity="0.85"/>
<rect x="464.4" y="331.7" width="9.2" height="1.4" fill="#c6c9d4"/>
<rect x="473.4" y="302.3" width="8.6" height="4.4" fill="#b0bef2" opacity="0.8"/>
<rect x="473.4" y="303.4" width="8.6" height="2.2" fill="#3b52c2"/>
<rect x="474.3" y="303.2" width="0.9" height="2.6" fill="#22329a" opacity="0.85"/>
<rect x="477.0" y="303.2" width="1.3" height="2.6" fill="#22329a" opacity="0.85"/>
<rect x="479.3" y="303.2" width="1.5" height="2.6" fill="#22329a" opacity="0.85"/>
<rect x="473.1" y="331.7" width="9.2" height="1.4" fill="#c6c9d4"/>
<rect x="482.0" y="302.3" width="8.6" height="4.4" fill="#b0bef2" opacity="0.8"/>
<rect x="482.0" y="303.4" width="8.6" height="2.2" fill="#3b52c2"/>
<rect x="482.2" y="303.2" width="1.6" height="2.6" fill="#22329a" opacity="0.85"/>
<rect x="485.1" y="303.2" width="1.2" height="2.6" fill="#22329a" opacity="0.85"/>
<rect x="488.5" y="303.2" width="1.5" height="2.6" fill="#22329a" opacity="0.85"/>
<rect x="481.7" y="331.7" width="9.2" height="1.4" fill="#c6c9d4"/>
<rect x="493.2" y="302.3" width="6.0" height="4.4" fill="#b0bef2" opacity="0.8"/>
<rect x="493.2" y="303.4" width="6.0" height="2.2" fill="#3b52c2"/>
<rect x="493.6" y="303.2" width="1.2" height="2.6" fill="#22329a" opacity="0.85"/>
<rect x="496.1" y="303.2" width="1.0" height="2.6" fill="#22329a" opacity="0.85"/>
<rect x="498.3" y="303.2" width="1.4" height="2.6" fill="#22329a" opacity="0.85"/>
<rect x="492.9" y="331.7" width="6.6" height="1.4" fill="#c6c9d4"/>
<rect x="501.4" y="302.3" width="6.5" height="4.4" fill="#b0bef2" opacity="0.8"/>
<rect x="501.4" y="303.4" width="6.5" height="2.2" fill="#3b52c2"/>
<rect x="502.0" y="303.2" width="1.2" height="2.6" fill="#22329a" opacity="0.85"/>
<rect x="503.9" y="303.2" width="1.1" height="2.6" fill="#22329a" opacity="0.85"/>
<rect x="506.7" y="303.2" width="1.2" height="2.6" fill="#22329a" opacity="0.85"/>
<rect x="501.1" y="331.7" width="7.1" height="1.4" fill="#c6c9d4"/>
<rect x="507.9" y="302.3" width="8.6" height="4.4" fill="#b0bef2" opacity="0.8"/>
<rect x="507.9" y="303.4" width="8.6" height="2.2" fill="#3b52c2"/>
<rect x="508.9" y="303.2" width="1.4" height="2.6" fill="#22329a" opacity="0.85"/>
<rect x="512.5" y="303.2" width="0.9" height="2.6" fill="#22329a" opacity="0.85"/>
<rect x="514.5" y="303.2" width="0.8" height="2.6" fill="#22329a" opacity="0.85"/>
<rect x="507.6" y="331.7" width="9.2" height="1.4" fill="#c6c9d4"/>
<rect x="354.3" y="331.6" width="17.3" height="1.6" fill="#9a9fbe"/>
<rect x="398.3" y="331.6" width="17.3" height="1.6" fill="#9a9fbe"/>
<rect x="475.1" y="331.6" width="13.8" height="1.6" fill="#9a9fbe"/>
<rect x="423.3" y="324.2" width="6.5" height="17.6" rx="0.8" fill="#e2232a"/>
<rect x="423.3" y="328.6" width="6.5" height="8.8" fill="#f0c0c8"/>
<rect x="423.3" y="329.3" width="6.5" height="7.4" fill="#3868d0"/>
<rect x="423.3" y="331.9" width="6.5" height="2.1" fill="#80a8ec"/>
<text x="27.3" y="397.8" font-family="'Liberation Sans', sans-serif" font-size="9.2" fill="#222" text-anchor="middle">Relapse</text>
<line x1="78.8" y1="367.5" x2="78.8" y2="425.1" stroke="#eff0f3" stroke-width="0.6"/>
<line x1="87.4" y1="367.5" x2="87.4" y2="425.1" stroke="#eff0f3" stroke-width="0.6"/>
<line x1="96.1" y1="367.5" x2="96.1" y2="425.1" stroke="#eff0f3" stroke-width="0.6"/>
<line x1="104.7" y1="367.5" x2="104.7" y2="425.1" stroke="#eff0f3" stroke-width="0.6"/>
<line x1="113.3" y1="367.5" x2="113.3" y2="425.1" stroke="#eff0f3" stroke-width="0.6"/>
<line x1="122.0" y1="367.5" x2="122.0" y2="425.1" stroke="#eff0f3" stroke-width="0.6"/>
<line x1="130.6" y1="367.5" x2="130.6" y2="425.1" stroke="#eff0f3" stroke-width="0.6"/>
<line x1="139.2" y1="367.5" x2="139.2" y2="425.1" stroke="#eff0f3" stroke-width="0.6"/>
<line x1="147.8" y1="367.5" x2="147.8" y2="425.1" stroke="#eff0f3" stroke-width="0.6"/>
<line x1="156.5" y1="367.5" x2="156.5" y2="425.1" stroke="#eff0f3" stroke-width="0.6"/>
<line x1="165.1" y1="367.5" x2="165.1" y2="425.1" stroke="#eff0f3" stroke-width="0.6"/>
<line x1="173.7" y1="367.5" x2="173.7" y2="425.1" stroke="#eff0f3" stroke-width="0.6"/>
<line x1="182.3" y1="367.5" x2="182.3" y2="425.1" stroke="#eff0f3" stroke-width="0.6"/>
<line x1="191.0" y1="367.5" x2="191.0" y2="425.1" stroke="#eff0f3" stroke-width="0.6"/>
<line x1="199.6" y1="367.5" x2="199.6" y2="425.1" stroke="#eff0f3" stroke-width="0.6"/>
<line x1="208.2" y1="367.5" x2="208.2" y2="425.1" stroke="#eff0f3" stroke-width="0.6"/>
<line x1="216.8" y1="367.5" x2="216.8" y2="425.1" stroke="#eff0f3" stroke-width="0.6"/>
<line x1="225.5" y1="367.5" x2="225.5" y2="425.1" stroke="#eff0f3" stroke-width="0.6"/>
<line x1="234.1" y1="367.5" x2="234.1" y2="425.1" stroke="#eff0f3" stroke-width="0.6"/>
<line x1="242.7" y1="367.5" x2="242.7" y2="425.1" stroke="#eff0f3" stroke-width="0.6"/>
<line x1="251.4" y1="367.5" x2="251.4" y2="425.1" stroke="#eff0f3" stroke-width="0.6"/>
<line x1="260.0" y1="367.5" x2="260.0" y2="425.1" stroke="#eff0f3" stroke-width="0.6"/>
<line x1="268.6" y1="367.5" x2="268.6" y2="425.1" stroke="#eff0f3" stroke-width="0.6"/>
<line x1="70.7" y1="399.2" x2="269.0" y2="399.2" stroke="#eef0e0" stroke-width="0.6"/>
<line x1="70.7" y1="364.5" x2="70.7" y2="425.7" stroke="#222" stroke-width="1.2"/>
<line x1="70.1" y1="425.1" x2="271.7" y2="425.1" stroke="#222" stroke-width="1.2"/>
<line x1="68.3" y1="368.5" x2="70.7" y2="368.5" stroke="#222" stroke-width="0.8"/>
<text x="65.4" y="369.9" font-family="'Liberation Sans', sans-serif" font-size="4" fill="#222" text-anchor="end">3</text>
<line x1="68.3" y1="373.2" x2="70.7" y2="373.2" stroke="#222" stroke-width="0.8"/>
<text x="65.4" y="374.6" font-family="'Liberation Sans', sans-serif" font-size="4" fill="#222" text-anchor="end">2</text>
<line x1="68.3" y1="377.9" x2="70.7" y2="377.9" stroke="#222" stroke-width="0.8"/>
<text x="65.4" y="379.3" font-family="'Liberation Sans', sans-serif" font-size="4" fill="#222" text-anchor="end">1</text>
<line x1="68.3" y1="382.6" x2="70.7" y2="382.6" stroke="#222" stroke-width="0.8"/>
<text x="65.4" y="384.0" font-family="'Liberation Sans', sans-serif" font-size="4" fill="#222" text-anchor="end">0</text>
<line x1="68.3" y1="387.4" x2="70.7" y2="387.4" stroke="#222" stroke-width="0.8"/>
<text x="65.4" y="388.8" font-family="'Liberation Sans', sans-serif" font-size="4" fill="#222" text-anchor="end">-1</text>
<line x1="68.3" y1="392.1" x2="70.7" y2="392.1" stroke="#222" stroke-width="0.8"/>
<text x="65.4" y="393.5" font-family="'Liberation Sans', sans-serif" font-size="4" fill="#222" text-anchor="end">-2</text>
<line x1="68.3" y1="396.8" x2="70.7" y2="396.8" stroke="#222" stroke-width="0.8"/>
<text x="65.4" y="398.2" font-family="'Liberation Sans', sans-serif" font-size="4" fill="#222" text-anchor="end">-3</text>
<line x1="68.3" y1="401.5" x2="70.7" y2="401.5" stroke="#222" stroke-width="0.8"/>
<text x="65.4" y="402.9" font-family="'Liberation Sans', sans-serif" font-size="4" fill="#222" text-anchor="end">1</text>
<line x1="68.3" y1="406.2" x2="70.7" y2="406.2" stroke="#222" stroke-width="0.8"/>
<text x="65.4" y="407.6" font-family="'Liberation Sans', sans-serif" font-size="4" fill="#222" text-anchor="end">.8</text>
<line x1="68.3" y1="411.0" x2="70.7" y2="411.0" stroke="#222" stroke-width="0.8"/>
<text x="65.4" y="412.4" font-family="'Liberation Sans', sans-serif" font-size="4" fill="#222" text-anchor="end">.6</text>
<line x1="68.3" y1="415.7" x2="70.7" y2="415.7" stroke="#222" stroke-width="0.8"/>
<text x="65.4" y="417.1" font-family="'Liberation Sans', sans-serif" font-size="4" fill="#222" text-anchor="end">.4</text>
<line x1="68.3" y1="420.4" x2="70.7" y2="420.4" stroke="#222" stroke-width="0.8"/>
<text x="65.4" y="421.8" font-family="'Liberation Sans', sans-serif" font-size="4" fill="#222" text-anchor="end">.2</text>
<line x1="68.3" y1="425.1" x2="70.7" y2="425.1" stroke="#222" stroke-width="0.8"/>
<text x="65.4" y="426.5" font-family="'Liberation Sans', sans-serif" font-size="4" fill="#222" text-anchor="end">0</text>
<line x1="74.5" y1="425.1" x2="74.5" y2="427.7" stroke="#222" stroke-width="0.8"/>
<text transform="translate(74.5,435.7) scale(0.86,1)" font-family="'Liberation Sans', sans-serif" font-size="7.3" fill="#333" text-anchor="middle">1</text>
<line x1="83.1" y1="425.1" x2="83.1" y2="427.7" stroke="#222" stroke-width="0.8"/>
<text transform="translate(83.1,435.7) scale(0.86,1)" font-family="'Liberation Sans', sans-serif" font-size="7.3" fill="#333" text-anchor="middle">2</text>
<line x1="91.8" y1="425.1" x2="91.8" y2="427.7" stroke="#222" stroke-width="0.8"/>
<text transform="translate(91.8,435.7) scale(0.86,1)" font-family="'Liberation Sans', sans-serif" font-size="7.3" fill="#333" text-anchor="middle">3</text>
<line x1="100.4" y1="425.1" x2="100.4" y2="427.7" stroke="#222" stroke-width="0.8"/>
<text transform="translate(100.4,435.7) scale(0.86,1)" font-family="'Liberation Sans', sans-serif" font-size="7.3" fill="#333" text-anchor="middle">4</text>
<line x1="109.0" y1="425.1" x2="109.0" y2="427.7" stroke="#222" stroke-width="0.8"/>
<text transform="translate(109.0,435.7) scale(0.86,1)" font-family="'Liberation Sans', sans-serif" font-size="7.3" fill="#333" text-anchor="middle">5</text>
<line x1="117.6" y1="425.1" x2="117.6" y2="427.7" stroke="#222" stroke-width="0.8"/>
<text transform="translate(117.6,435.7) scale(0.86,1)" font-family="'Liberation Sans', sans-serif" font-size="7.3" fill="#333" text-anchor="middle">6</text>
<line x1="126.3" y1="425.1" x2="126.3" y2="427.7" stroke="#222" stroke-width="0.8"/>
<text transform="translate(126.3,435.7) scale(0.86,1)" font-family="'Liberation Sans', sans-serif" font-size="7.3" fill="#333" text-anchor="middle">7</text>
<line x1="134.9" y1="425.1" x2="134.9" y2="427.7" stroke="#222" stroke-width="0.8"/>
<text transform="translate(134.9,435.7) scale(0.86,1)" font-family="'Liberation Sans', sans-serif" font-size="7.3" fill="#333" text-anchor="middle">8</text>
<line x1="143.5" y1="425.1" x2="143.5" y2="427.7" stroke="#222" stroke-width="0.8"/>
<text transform="translate(143.5,435.7) scale(0.86,1)" font-family="'Liberation Sans', sans-serif" font-size="7.3" fill="#333" text-anchor="middle">9</text>
<line x1="152.1" y1="425.1" x2="152.1" y2="427.7" stroke="#222" stroke-width="0.8"/>
<text transform="translate(152.1,435.7) scale(0.86,1)" font-family="'Liberation Sans', sans-serif" font-size="7.3" fill="#333" text-anchor="middle">10</text>
<line x1="160.8" y1="425.1" x2="160.8" y2="427.7" stroke="#222" stroke-width="0.8"/>
<text transform="translate(160.8,435.7) scale(0.86,1)" font-family="'Liberation Sans', sans-serif" font-size="7.3" fill="#333" text-anchor="middle">11</text>
<line x1="169.4" y1="425.1" x2="169.4" y2="427.7" stroke="#222" stroke-width="0.8"/>
<text transform="translate(169.4,435.7) scale(0.86,1)" font-family="'Liberation Sans', sans-serif" font-size="7.3" fill="#333" text-anchor="middle">12</text>
<line x1="178.0" y1="425.1" x2="178.0" y2="427.7" stroke="#222" stroke-width="0.8"/>
<text transform="translate(178.0,435.7) scale(0.86,1)" font-family="'Liberation Sans', sans-serif" font-size="7.3" fill="#333" text-anchor="middle">13</text>
<line x1="186.7" y1="425.1" x2="186.7" y2="427.7" stroke="#222" stroke-width="0.8"/>
<text transform="translate(186.7,435.7) scale(0.86,1)" font-family="'Liberation Sans', sans-serif" font-size="7.3" fill="#333" text-anchor="middle">14</text>
<line x1="195.3" y1="425.1" x2="195.3" y2="427.7" stroke="#222" stroke-width="0.8"/>
<text transform="translate(195.3,435.7) scale(0.86,1)" font-family="'Liberation Sans', sans-serif" font-size="7.3" fill="#333" text-anchor="middle">15</text>
<line x1="203.9" y1="425.1" x2="203.9" y2="427.7" stroke="#222" stroke-width="0.8"/>
<text transform="translate(203.9,435.7) scale(0.86,1)" font-family="'Liberation Sans', sans-serif" font-size="7.3" fill="#333" text-anchor="middle">16</text>
<line x1="212.5" y1="425.1" x2="212.5" y2="427.7" stroke="#222" stroke-width="0.8"/>
<text transform="translate(212.5,435.7) scale(0.86,1)" font-family="'Liberation Sans', sans-serif" font-size="7.3" fill="#333" text-anchor="middle">17</text>
<line x1="221.2" y1="425.1" x2="221.2" y2="427.7" stroke="#222" stroke-width="0.8"/>
<text transform="translate(221.2,435.7) scale(0.86,1)" font-family="'Liberation Sans', sans-serif" font-size="7.3" fill="#333" text-anchor="middle">18</text>
<line x1="229.8" y1="425.1" x2="229.8" y2="427.7" stroke="#222" stroke-width="0.8"/>
<text transform="translate(229.8,435.7) scale(0.86,1)" font-family="'Liberation Sans', sans-serif" font-size="7.3" fill="#333" text-anchor="middle">19</text>
<line x1="238.4" y1="425.1" x2="238.4" y2="427.7" stroke="#222" stroke-width="0.8"/>
<text transform="translate(238.4,435.7) scale(0.86,1)" font-family="'Liberation Sans', sans-serif" font-size="7.3" fill="#333" text-anchor="middle">20</text>
<line x1="247.0" y1="425.1" x2="247.0" y2="427.7" stroke="#222" stroke-width="0.8"/>
<text transform="translate(247.0,435.7) scale(0.86,1)" font-family="'Liberation Sans', sans-serif" font-size="7.3" fill="#333" text-anchor="middle">21</text>
<line x1="255.7" y1="425.1" x2="255.7" y2="427.7" stroke="#222" stroke-width="0.8"/>
<text transform="translate(255.7,435.7) scale(0.86,1)" font-family="'Liberation Sans', sans-serif" font-size="7.3" fill="#333" text-anchor="middle">22</text>
<line x1="264.3" y1="425.1" x2="264.3" y2="427.7" stroke="#222" stroke-width="0.8"/>
<text transform="translate(264.3,435.7) scale(0.86,1)" font-family="'Liberation Sans', sans-serif" font-size="7.3" fill="#333" text-anchor="middle">X</text>
<text transform="translate(57.2,382.7) rotate(-90) scale(0.66,1)" font-family="'Liberation Sans', sans-serif" font-size="8.8" font-weight="bold" fill="#222" text-anchor="middle">Copy number</text>
<text transform="translate(57.2,415.8) rotate(-90) scale(0.72,1)" font-family="'Liberation Sans', sans-serif" font-size="8.8" font-weight="bold" fill="#222" text-anchor="middle">VAF</text>
<text transform="translate(170.2,448.3) scale(0.68,1)" font-family="'Liberation Sans', sans-serif" font-size="8.8" font-weight="bold" fill="#222" text-anchor="middle">Chromosome</text>
<rect x="70.2" y="381.5" width="8.6" height="4.4" fill="#b0bef2" opacity="0.8"/>
<rect x="70.2" y="382.6" width="8.6" height="2.2" fill="#3b52c2"/>
<rect x="70.5" y="382.4" width="0.9" height="2.6" fill="#22329a" opacity="0.85"/>
<rect x="72.8" y="382.4" width="1.5" height="2.6" fill="#22329a" opacity="0.85"/>
<rect x="76.2" y="382.4" width="1.0" height="2.6" fill="#22329a" opacity="0.85"/>
<rect x="69.9" y="411.1" width="9.2" height="1.4" fill="#c6c9d4"/>
<rect x="78.8" y="381.5" width="8.6" height="4.4" fill="#b0bef2" opacity="0.8"/>
<rect x="78.8" y="382.6" width="8.6" height="2.2" fill="#3b52c2"/>
<rect x="79.7" y="382.4" width="1.3" height="2.6" fill="#22329a" opacity="0.85"/>
<rect x="82.8" y="382.4" width="0.9" height="2.6" fill="#22329a" opacity="0.85"/>
<rect x="84.5" y="382.4" width="1.4" height="2.6" fill="#22329a" opacity="0.85"/>
<rect x="78.5" y="411.1" width="9.2" height="1.4" fill="#c6c9d4"/>
<rect x="87.4" y="381.5" width="8.6" height="4.4" fill="#b0bef2" opacity="0.8"/>
<rect x="87.4" y="382.6" width="8.6" height="2.2" fill="#3b52c2"/>
<rect x="87.5" y="382.4" width="1.6" height="2.6" fill="#22329a" opacity="0.85"/>
<rect x="90.8" y="382.4" width="1.4" height="2.6" fill="#22329a" opacity="0.85"/>
<rect x="93.1" y="382.4" width="1.5" height="2.6" fill="#22329a" opacity="0.85"/>
<rect x="87.1" y="411.1" width="9.2" height="1.4" fill="#c6c9d4"/>
<rect x="96.1" y="381.5" width="8.6" height="4.4" fill="#b0bef2" opacity="0.8"/>
<rect x="96.1" y="382.6" width="8.6" height="2.2" fill="#3b52c2"/>
<rect x="96.9" y="382.4" width="1.2" height="2.6" fill="#22329a" opacity="0.85"/>
<rect x="99.4" y="382.4" width="1.2" height="2.6" fill="#22329a" opacity="0.85"/>
<rect x="102.7" y="382.4" width="1.0" height="2.6" fill="#22329a" opacity="0.85"/>
<rect x="95.8" y="411.1" width="9.2" height="1.4" fill="#c6c9d4"/>
<rect x="104.7" y="381.5" width="8.6" height="4.4" fill="#b0bef2" opacity="0.8"/>
<rect x="104.7" y="382.6" width="8.6" height="2.2" fill="#3b52c2"/>
<rect x="105.2" y="382.4" width="1.0" height="2.6" fill="#22329a" opacity="0.85"/>
<rect x="107.2" y="382.4" width="0.9" height="2.6" fill="#22329a" opacity="0.85"/>
<rect x="109.0" y="382.4" width="1.0" height="2.6" fill="#22329a" opacity="0.85"/>
<rect x="111.2" y="382.4" width="1.0" height="2.6" fill="#22329a" opacity="0.85"/>
<rect x="104.4" y="411.1" width="9.2" height="1.4" fill="#c6c9d4"/>
<rect x="113.3" y="381.5" width="8.6" height="4.4" fill="#b0bef2" opacity="0.8"/>
<rect x="113.3" y="382.6" width="8.6" height="2.2" fill="#3b52c2"/>
<rect x="113.6" y="382.4" width="1.2" height="2.6" fill="#22329a" opacity="0.85"/>
<rect x="115.9" y="382.4" width="1.1" height="2.6" fill="#22329a" opacity="0.85"/>
<rect x="117.8" y="382.4" width="1.0" height="2.6" fill="#22329a" opacity="0.85"/>
<rect x="119.6" y="382.4" width="1.4" height="2.6" fill="#22329a" opacity="0.85"/>
<rect x="113.0" y="411.1" width="9.2" height="1.4" fill="#c6c9d4"/>
<rect x="122.0" y="381.5" width="8.6" height="4.4" fill="#b0bef2" opacity="0.8"/>
<rect x="122.0" y="382.6" width="8.6" height="2.2" fill="#3b52c2"/>
<rect x="122.1" y="382.4" width="1.2" height="2.6" fill="#22329a" opacity="0.85"/>
<rect x="125.4" y="382.4" width="0.9" height="2.6" fill="#22329a" opacity="0.85"/>
<rect x="128.3" y="382.4" width="1.1" height="2.6" fill="#22329a" opacity="0.85"/>
<rect x="121.7" y="411.1" width="9.2" height="1.4" fill="#c6c9d4"/>
<rect x="130.6" y="381.5" width="8.6" height="4.4" fill="#b0bef2" opacity="0.8"/>
<rect x="130.6" y="382.6" width="8.6" height="2.2" fill="#3b52c2"/>
<rect x="131.4" y="382.4" width="1.1" height="2.6" fill="#22329a" opacity="0.85"/>
<rect x="134.0" y="382.4" width="1.4" height="2.6" fill="#22329a" opacity="0.85"/>
<rect x="137.6" y="382.4" width="1.1" height="2.6" fill="#22329a" opacity="0.85"/>
<rect x="130.3" y="411.1" width="9.2" height="1.4" fill="#c6c9d4"/>
<rect x="139.2" y="381.5" width="2.4" height="4.4" fill="#b0bef2" opacity="0.8"/>
<rect x="139.2" y="382.6" width="2.4" height="2.2" fill="#3b52c2"/>
<rect x="139.9" y="382.4" width="1.3" height="2.6" fill="#22329a" opacity="0.85"/>
<rect x="138.9" y="411.1" width="3.0" height="1.4" fill="#c6c9d4"/>
<rect x="143.1" y="381.5" width="4.7" height="4.4" fill="#b0bef2" opacity="0.8"/>
<rect x="143.1" y="382.6" width="4.7" height="2.2" fill="#3b52c2"/>
<rect x="143.4" y="382.4" width="0.8" height="2.6" fill="#22329a" opacity="0.85"/>
<rect x="145.3" y="382.4" width="0.9" height="2.6" fill="#22329a" opacity="0.85"/>
<rect x="142.8" y="411.1" width="5.3" height="1.4" fill="#c6c9d4"/>
<rect x="147.8" y="381.5" width="8.6" height="4.4" fill="#b0bef2" opacity="0.8"/>
<rect x="147.8" y="382.6" width="8.6" height="2.2" fill="#3b52c2"/>
<rect x="148.1" y="382.4" width="0.9" height="2.6" fill="#22329a" opacity="0.85"/>
<rect x="149.9" y="382.4" width="1.5" height="2.6" fill="#22329a" opacity="0.85"/>
<rect x="153.4" y="382.4" width="1.3" height="2.6" fill="#22329a" opacity="0.85"/>
<rect x="147.5" y="411.1" width="9.2" height="1.4" fill="#c6c9d4"/>
<rect x="156.5" y="381.5" width="8.6" height="4.4" fill="#b0bef2" opacity="0.8"/>
<rect x="156.5" y="382.6" width="8.6" height="2.2" fill="#3b52c2"/>
<rect x="156.7" y="382.4" width="1.0" height="2.6" fill="#22329a" opacity="0.85"/>
<rect x="159.2" y="382.4" width="0.9" height="2.6" fill="#22329a" opacity="0.85"/>
<rect x="161.5" y="382.4" width="1.0" height="2.6" fill="#22329a" opacity="0.85"/>
<rect x="156.2" y="411.1" width="9.2" height="1.4" fill="#c6c9d4"/>
<rect x="165.1" y="381.5" width="8.6" height="4.4" fill="#b0bef2" opacity="0.8"/>
<rect x="165.1" y="382.6" width="8.6" height="2.2" fill="#3b52c2"/>
<rect x="166.1" y="382.4" width="1.2" height="2.6" fill="#22329a" opacity="0.85"/>
<rect x="168.4" y="382.4" width="1.6" height="2.6" fill="#22329a" opacity="0.85"/>
<rect x="171.2" y="382.4" width="1.1" height="2.6" fill="#22329a" opacity="0.85"/>
<rect x="164.8" y="411.1" width="9.2" height="1.4" fill="#c6c9d4"/>
<rect x="175.6" y="381.5" width="6.7" height="4.4" fill="#b0bef2" opacity="0.8"/>
<rect x="175.6" y="382.6" width="6.7" height="2.2" fill="#3b52c2"/>
<rect x="176.0" y="382.4" width="1.2" height="2.6" fill="#22329a" opacity="0.85"/>
<rect x="178.7" y="382.4" width="1.0" height="2.6" fill="#22329a" opacity="0.85"/>
<rect x="181.1" y="382.4" width="0.8" height="2.6" fill="#22329a" opacity="0.85"/>
<rect x="175.3" y="411.1" width="7.3" height="1.4" fill="#c6c9d4"/>
<rect x="184.2" y="381.5" width="6.7" height="4.4" fill="#b0bef2" opacity="0.8"/>
<rect x="184.2" y="382.6" width="6.7" height="2.2" fill="#3b52c2"/>
<rect x="184.3" y="382.4" width="1.1" height="2.6" fill="#22329a" opacity="0.85"/>
<rect x="186.3" y="382.4" width="0.8" height="2.6" fill="#22329a" opacity="0.85"/>
<rect x="188.4" y="382.4" width="1.0" height="2.6" fill="#22329a" opacity="0.85"/>
<rect x="183.9" y="411.1" width="7.3" height="1.4" fill="#c6c9d4"/>
<rect x="192.9" y="381.5" width="6.7" height="4.4" fill="#b0bef2" opacity="0.8"/>
<rect x="192.9" y="382.6" width="6.7" height="2.2" fill="#3b52c2"/>
<rect x="193.4" y="382.4" width="1.4" height="2.6" fill="#22329a" opacity="0.85"/>
<rect x="196.5" y="382.4" width="1.4" height="2.6" fill="#22329a" opacity="0.85"/>
<rect x="192.6" y="411.1" width="7.3" height="1.4" fill="#c6c9d4"/>
<rect x="199.6" y="381.5" width="8.6" height="4.4" fill="#b0bef2" opacity="0.8"/>
<rect x="199.6" y="382.6" width="8.6" height="2.2" fill="#3b52c2"/>
<rect x="200.0" y="382.4" width="1.1" height="2.6" fill="#22329a" opacity="0.85"/>
<rect x="203.2" y="382.4" width="0.9" height="2.6" fill="#22329a" opacity="0.85"/>
<rect x="206.0" y="382.4" width="1.3" height="2.6" fill="#22329a" opacity="0.85"/>
<rect x="199.3" y="411.1" width="9.2" height="1.4" fill="#c6c9d4"/>
<rect x="208.2" y="381.5" width="8.6" height="4.4" fill="#b0bef2" opacity="0.8"/>
<rect x="208.2" y="382.6" width="8.6" height="2.2" fill="#3b52c2"/>
<rect x="209.1" y="382.4" width="1.5" height="2.6" fill="#22329a" opacity="0.85"/>
<rect x="212.2" y="382.4" width="1.4" height="2.6" fill="#22329a" opacity="0.85"/>
<rect x="215.6" y="382.4" width="0.9" height="2.6" fill="#22329a" opacity="0.85"/>
<rect x="207.9" y="411.1" width="9.2" height="1.4" fill="#c6c9d4"/>
<rect x="216.8" y="381.5" width="8.6" height="4.4" fill="#b0bef2" opacity="0.8"/>
<rect x="216.8" y="382.6" width="8.6" height="2.2" fill="#3b52c2"/>
<rect x="217.4" y="382.4" width="1.5" height="2.6" fill="#22329a" opacity="0.85"/>
<rect x="220.7" y="382.4" width="1.5" height="2.6" fill="#22329a" opacity="0.85"/>
<rect x="223.8" y="382.4" width="1.5" height="2.6" fill="#22329a" opacity="0.85"/>
<rect x="216.5" y="411.1" width="9.2" height="1.4" fill="#c6c9d4"/>
<rect x="225.5" y="381.5" width="8.6" height="4.4" fill="#b0bef2" opacity="0.8"/>
<rect x="225.5" y="382.6" width="8.6" height="2.2" fill="#3b52c2"/>
<rect x="226.2" y="382.4" width="1.0" height="2.6" fill="#22329a" opacity="0.85"/>
<rect x="228.0" y="382.4" width="0.9" height="2.6" fill="#22329a" opacity="0.85"/>
<rect x="230.2" y="382.4" width="0.9" height="2.6" fill="#22329a" opacity="0.85"/>
<rect x="233.1" y="382.4" width="1.2" height="2.6" fill="#22329a" opacity="0.85"/>
<rect x="225.2" y="411.1" width="9.2" height="1.4" fill="#c6c9d4"/>
<rect x="234.1" y="381.5" width="8.6" height="4.4" fill="#b0bef2" opacity="0.8"/>
<rect x="234.1" y="382.6" width="8.6" height="2.2" fill="#3b52c2"/>
<rect x="234.7" y="382.4" width="1.3" height="2.6" fill="#22329a" opacity="0.85"/>
<rect x="237.6" y="382.4" width="0.8" height="2.6" fill="#22329a" opacity="0.85"/>
<rect x="240.3" y="382.4" width="1.4" height="2.6" fill="#22329a" opacity="0.85"/>
<rect x="233.8" y="411.1" width="9.2" height="1.4" fill="#c6c9d4"/>
<rect x="245.3" y="381.5" width="6.0" height="4.4" fill="#b0bef2" opacity="0.8"/>
<rect x="245.3" y="382.6" width="6.0" height="2.2" fill="#3b52c2"/>
<rect x="245.9" y="382.4" width="1.3" height="2.6" fill="#22329a" opacity="0.85"/>
<rect x="248.1" y="382.4" width="1.4" height="2.6" fill="#22329a" opacity="0.85"/>
<rect x="245.0" y="411.1" width="6.6" height="1.4" fill="#c6c9d4"/>
<rect x="253.5" y="381.5" width="6.5" height="4.4" fill="#b0bef2" opacity="0.8"/>
<rect x="253.5" y="382.6" width="6.5" height="2.2" fill="#3b52c2"/>
<rect x="253.6" y="382.4" width="1.0" height="2.6" fill="#22329a" opacity="0.85"/>
<rect x="256.4" y="382.4" width="1.0" height="2.6" fill="#22329a" opacity="0.85"/>
<rect x="253.2" y="411.1" width="7.1" height="1.4" fill="#c6c9d4"/>
<rect x="260.0" y="381.5" width="8.6" height="4.4" fill="#b0bef2" opacity="0.8"/>
<rect x="260.0" y="382.6" width="8.6" height="2.2" fill="#3b52c2"/>
<rect x="261.0" y="382.4" width="1.2" height="2.6" fill="#22329a" opacity="0.85"/>
<rect x="263.5" y="382.4" width="1.2" height="2.6" fill="#22329a" opacity="0.85"/>
<rect x="266.4" y="382.4" width="1.4" height="2.6" fill="#22329a" opacity="0.85"/>
<rect x="259.7" y="411.1" width="9.2" height="1.4" fill="#c6c9d4"/>
<rect x="71.1" y="411.0" width="5.2" height="1.6" fill="#9a9fbe"/>
<rect x="261.3" y="410.1" width="6.9" height="3.4" fill="#3563d4"/>
<line x1="326.7" y1="367.5" x2="326.7" y2="425.1" stroke="#eff0f3" stroke-width="0.6"/>
<line x1="335.3" y1="367.5" x2="335.3" y2="425.1" stroke="#eff0f3" stroke-width="0.6"/>
<line x1="344.0" y1="367.5" x2="344.0" y2="425.1" stroke="#eff0f3" stroke-width="0.6"/>
<line x1="352.6" y1="367.5" x2="352.6" y2="425.1" stroke="#eff0f3" stroke-width="0.6"/>
<line x1="361.2" y1="367.5" x2="361.2" y2="425.1" stroke="#eff0f3" stroke-width="0.6"/>
<line x1="369.9" y1="367.5" x2="369.9" y2="425.1" stroke="#eff0f3" stroke-width="0.6"/>
<line x1="378.5" y1="367.5" x2="378.5" y2="425.1" stroke="#eff0f3" stroke-width="0.6"/>
<line x1="387.1" y1="367.5" x2="387.1" y2="425.1" stroke="#eff0f3" stroke-width="0.6"/>
<line x1="395.7" y1="367.5" x2="395.7" y2="425.1" stroke="#eff0f3" stroke-width="0.6"/>
<line x1="404.4" y1="367.5" x2="404.4" y2="425.1" stroke="#eff0f3" stroke-width="0.6"/>
<line x1="413.0" y1="367.5" x2="413.0" y2="425.1" stroke="#eff0f3" stroke-width="0.6"/>
<line x1="421.6" y1="367.5" x2="421.6" y2="425.1" stroke="#eff0f3" stroke-width="0.6"/>
<line x1="430.2" y1="367.5" x2="430.2" y2="425.1" stroke="#eff0f3" stroke-width="0.6"/>
<line x1="438.9" y1="367.5" x2="438.9" y2="425.1" stroke="#eff0f3" stroke-width="0.6"/>
<line x1="447.5" y1="367.5" x2="447.5" y2="425.1" stroke="#eff0f3" stroke-width="0.6"/>
<line x1="456.1" y1="367.5" x2="456.1" y2="425.1" stroke="#eff0f3" stroke-width="0.6"/>
<line x1="464.7" y1="367.5" x2="464.7" y2="425.1" stroke="#eff0f3" stroke-width="0.6"/>
<line x1="473.4" y1="367.5" x2="473.4" y2="425.1" stroke="#eff0f3" stroke-width="0.6"/>
<line x1="482.0" y1="367.5" x2="482.0" y2="425.1" stroke="#eff0f3" stroke-width="0.6"/>
<line x1="490.6" y1="367.5" x2="490.6" y2="425.1" stroke="#eff0f3" stroke-width="0.6"/>
<line x1="499.3" y1="367.5" x2="499.3" y2="425.1" stroke="#eff0f3" stroke-width="0.6"/>
<line x1="507.9" y1="367.5" x2="507.9" y2="425.1" stroke="#eff0f3" stroke-width="0.6"/>
<line x1="516.5" y1="367.5" x2="516.5" y2="425.1" stroke="#eff0f3" stroke-width="0.6"/>
<line x1="318.6" y1="399.2" x2="516.5" y2="399.2" stroke="#eef0e0" stroke-width="0.6"/>
<line x1="318.6" y1="364.5" x2="318.6" y2="425.7" stroke="#222" stroke-width="1.2"/>
<line x1="318.0" y1="425.1" x2="520.0" y2="425.1" stroke="#222" stroke-width="1.2"/>
<line x1="316.2" y1="368.5" x2="318.6" y2="368.5" stroke="#222" stroke-width="0.8"/>
<text x="313.3" y="369.9" font-family="'Liberation Sans', sans-serif" font-size="4" fill="#222" text-anchor="end">3</text>
<line x1="316.2" y1="373.2" x2="318.6" y2="373.2" stroke="#222" stroke-width="0.8"/>
<text x="313.3" y="374.6" font-family="'Liberation Sans', sans-serif" font-size="4" fill="#222" text-anchor="end">2</text>
<line x1="316.2" y1="377.9" x2="318.6" y2="377.9" stroke="#222" stroke-width="0.8"/>
<text x="313.3" y="379.3" font-family="'Liberation Sans', sans-serif" font-size="4" fill="#222" text-anchor="end">1</text>
<line x1="316.2" y1="382.6" x2="318.6" y2="382.6" stroke="#222" stroke-width="0.8"/>
<text x="313.3" y="384.0" font-family="'Liberation Sans', sans-serif" font-size="4" fill="#222" text-anchor="end">0</text>
<line x1="316.2" y1="387.4" x2="318.6" y2="387.4" stroke="#222" stroke-width="0.8"/>
<text x="313.3" y="388.8" font-family="'Liberation Sans', sans-serif" font-size="4" fill="#222" text-anchor="end">-1</text>
<line x1="316.2" y1="392.1" x2="318.6" y2="392.1" stroke="#222" stroke-width="0.8"/>
<text x="313.3" y="393.5" font-family="'Liberation Sans', sans-serif" font-size="4" fill="#222" text-anchor="end">-2</text>
<line x1="316.2" y1="396.8" x2="318.6" y2="396.8" stroke="#222" stroke-width="0.8"/>
<text x="313.3" y="398.2" font-family="'Liberation Sans', sans-serif" font-size="4" fill="#222" text-anchor="end">-3</text>
<line x1="316.2" y1="401.5" x2="318.6" y2="401.5" stroke="#222" stroke-width="0.8"/>
<text x="313.3" y="402.9" font-family="'Liberation Sans', sans-serif" font-size="4" fill="#222" text-anchor="end">1</text>
<line x1="316.2" y1="406.2" x2="318.6" y2="406.2" stroke="#222" stroke-width="0.8"/>
<text x="313.3" y="407.6" font-family="'Liberation Sans', sans-serif" font-size="4" fill="#222" text-anchor="end">.8</text>
<line x1="316.2" y1="411.0" x2="318.6" y2="411.0" stroke="#222" stroke-width="0.8"/>
<text x="313.3" y="412.4" font-family="'Liberation Sans', sans-serif" font-size="4" fill="#222" text-anchor="end">.6</text>
<line x1="316.2" y1="415.7" x2="318.6" y2="415.7" stroke="#222" stroke-width="0.8"/>
<text x="313.3" y="417.1" font-family="'Liberation Sans', sans-serif" font-size="4" fill="#222" text-anchor="end">.4</text>
<line x1="316.2" y1="420.4" x2="318.6" y2="420.4" stroke="#222" stroke-width="0.8"/>
<text x="313.3" y="421.8" font-family="'Liberation Sans', sans-serif" font-size="4" fill="#222" text-anchor="end">.2</text>
<line x1="316.2" y1="425.1" x2="318.6" y2="425.1" stroke="#222" stroke-width="0.8"/>
<text x="313.3" y="426.5" font-family="'Liberation Sans', sans-serif" font-size="4" fill="#222" text-anchor="end">0</text>
<line x1="322.4" y1="425.1" x2="322.4" y2="427.7" stroke="#222" stroke-width="0.8"/>
<text transform="translate(322.4,435.7) scale(0.86,1)" font-family="'Liberation Sans', sans-serif" font-size="7.3" fill="#333" text-anchor="middle">1</text>
<line x1="331.0" y1="425.1" x2="331.0" y2="427.7" stroke="#222" stroke-width="0.8"/>
<text transform="translate(331.0,435.7) scale(0.86,1)" font-family="'Liberation Sans', sans-serif" font-size="7.3" fill="#333" text-anchor="middle">2</text>
<line x1="339.7" y1="425.1" x2="339.7" y2="427.7" stroke="#222" stroke-width="0.8"/>
<text transform="translate(339.7,435.7) scale(0.86,1)" font-family="'Liberation Sans', sans-serif" font-size="7.3" fill="#333" text-anchor="middle">3</text>
<line x1="348.3" y1="425.1" x2="348.3" y2="427.7" stroke="#222" stroke-width="0.8"/>
<text transform="translate(348.3,435.7) scale(0.86,1)" font-family="'Liberation Sans', sans-serif" font-size="7.3" fill="#333" text-anchor="middle">4</text>
<line x1="356.9" y1="425.1" x2="356.9" y2="427.7" stroke="#222" stroke-width="0.8"/>
<text transform="translate(356.9,435.7) scale(0.86,1)" font-family="'Liberation Sans', sans-serif" font-size="7.3" fill="#333" text-anchor="middle">5</text>
<line x1="365.5" y1="425.1" x2="365.5" y2="427.7" stroke="#222" stroke-width="0.8"/>
<text transform="translate(365.5,435.7) scale(0.86,1)" font-family="'Liberation Sans', sans-serif" font-size="7.3" fill="#333" text-anchor="middle">6</text>
<line x1="374.2" y1="425.1" x2="374.2" y2="427.7" stroke="#222" stroke-width="0.8"/>
<text transform="translate(374.2,435.7) scale(0.86,1)" font-family="'Liberation Sans', sans-serif" font-size="7.3" fill="#333" text-anchor="middle">7</text>
<line x1="382.8" y1="425.1" x2="382.8" y2="427.7" stroke="#222" stroke-width="0.8"/>
<text transform="translate(382.8,435.7) scale(0.86,1)" font-family="'Liberation Sans', sans-serif" font-size="7.3" fill="#333" text-anchor="middle">8</text>
<line x1="391.4" y1="425.1" x2="391.4" y2="427.7" stroke="#222" stroke-width="0.8"/>
<text transform="translate(391.4,435.7) scale(0.86,1)" font-family="'Liberation Sans', sans-serif" font-size="7.3" fill="#333" text-anchor="middle">9</text>
<line x1="400.0" y1="425.1" x2="400.0" y2="427.7" stroke="#222" stroke-width="0.8"/>
<text transform="translate(400.0,435.7) scale(0.86,1)" font-family="'Liberation Sans', sans-serif" font-size="7.3" fill="#333" text-anchor="middle">10</text>
<line x1="408.7" y1="425.1" x2="408.7" y2="427.7" stroke="#222" stroke-width="0.8"/>
<text transform="translate(408.7,435.7) scale(0.86,1)" font-family="'Liberation Sans', sans-serif" font-size="7.3" fill="#333" text-anchor="middle">11</text>
<line x1="417.3" y1="425.1" x2="417.3" y2="427.7" stroke="#222" stroke-width="0.8"/>
<text transform="translate(417.3,435.7) scale(0.86,1)" font-family="'Liberation Sans', sans-serif" font-size="7.3" fill="#333" text-anchor="middle">12</text>
<line x1="425.9" y1="425.1" x2="425.9" y2="427.7" stroke="#222" stroke-width="0.8"/>
<text transform="translate(425.9,435.7) scale(0.86,1)" font-family="'Liberation Sans', sans-serif" font-size="7.3" fill="#333" text-anchor="middle">13</text>
<line x1="434.6" y1="425.1" x2="434.6" y2="427.7" stroke="#222" stroke-width="0.8"/>
<text transform="translate(434.6,435.7) scale(0.86,1)" font-family="'Liberation Sans', sans-serif" font-size="7.3" fill="#333" text-anchor="middle">14</text>
<line x1="443.2" y1="425.1" x2="443.2" y2="427.7" stroke="#222" stroke-width="0.8"/>
<text transform="translate(443.2,435.7) scale(0.86,1)" font-family="'Liberation Sans', sans-serif" font-size="7.3" fill="#333" text-anchor="middle">15</text>
<line x1="451.8" y1="425.1" x2="451.8" y2="427.7" stroke="#222" stroke-width="0.8"/>
<text transform="translate(451.8,435.7) scale(0.86,1)" font-family="'Liberation Sans', sans-serif" font-size="7.3" fill="#333" text-anchor="middle">16</text>
<line x1="460.4" y1="425.1" x2="460.4" y2="427.7" stroke="#222" stroke-width="0.8"/>
<text transform="translate(460.4,435.7) scale(0.86,1)" font-family="'Liberation Sans', sans-serif" font-size="7.3" fill="#333" text-anchor="middle">17</text>
<line x1="469.1" y1="425.1" x2="469.1" y2="427.7" stroke="#222" stroke-width="0.8"/>
<text transform="translate(469.1,435.7) scale(0.86,1)" font-family="'Liberation Sans', sans-serif" font-size="7.3" fill="#333" text-anchor="middle">18</text>
<line x1="477.7" y1="425.1" x2="477.7" y2="427.7" stroke="#222" stroke-width="0.8"/>
<text transform="translate(477.7,435.7) scale(0.86,1)" font-family="'Liberation Sans', sans-serif" font-size="7.3" fill="#333" text-anchor="middle">19</text>
<line x1="486.3" y1="425.1" x2="486.3" y2="427.7" stroke="#222" stroke-width="0.8"/>
<text transform="translate(486.3,435.7) scale(0.86,1)" font-family="'Liberation Sans', sans-serif" font-size="7.3" fill="#333" text-anchor="middle">20</text>
<line x1="494.9" y1="425.1" x2="494.9" y2="427.7" stroke="#222" stroke-width="0.8"/>
<text transform="translate(494.9,435.7) scale(0.86,1)" font-family="'Liberation Sans', sans-serif" font-size="7.3" fill="#333" text-anchor="middle">21</text>
<line x1="503.6" y1="425.1" x2="503.6" y2="427.7" stroke="#222" stroke-width="0.8"/>
<text transform="translate(503.6,435.7) scale(0.86,1)" font-family="'Liberation Sans', sans-serif" font-size="7.3" fill="#333" text-anchor="middle">22</text>
<line x1="512.2" y1="425.1" x2="512.2" y2="427.7" stroke="#222" stroke-width="0.8"/>
<text transform="translate(512.2,435.7) scale(0.86,1)" font-family="'Liberation Sans', sans-serif" font-size="7.3" fill="#333" text-anchor="middle">X</text>
<text transform="translate(305.1,382.7) rotate(-90) scale(0.66,1)" font-family="'Liberation Sans', sans-serif" font-size="8.8" font-weight="bold" fill="#222" text-anchor="middle">Copy number</text>
<text transform="translate(305.1,415.8) rotate(-90) scale(0.72,1)" font-family="'Liberation Sans', sans-serif" font-size="8.8" font-weight="bold" fill="#222" text-anchor="middle">VAF</text>
<text transform="translate(418.1,448.3) scale(0.68,1)" font-family="'Liberation Sans', sans-serif" font-size="8.8" font-weight="bold" fill="#222" text-anchor="middle">Chromosome</text>
<rect x="318.1" y="381.5" width="8.6" height="4.4" fill="#b0bef2" opacity="0.8"/>
<rect x="318.1" y="382.6" width="8.6" height="2.2" fill="#3b52c2"/>
<rect x="318.7" y="382.4" width="0.9" height="2.6" fill="#22329a" opacity="0.85"/>
<rect x="320.6" y="382.4" width="1.0" height="2.6" fill="#22329a" opacity="0.85"/>
<rect x="323.4" y="382.4" width="1.0" height="2.6" fill="#22329a" opacity="0.85"/>
<rect x="317.8" y="411.1" width="9.2" height="1.4" fill="#c6c9d4"/>
<rect x="326.7" y="381.5" width="8.6" height="4.4" fill="#b0bef2" opacity="0.8"/>
<rect x="326.7" y="382.6" width="8.6" height="2.2" fill="#3b52c2"/>
<rect x="326.7" y="382.4" width="0.8" height="2.6" fill="#22329a" opacity="0.85"/>
<rect x="328.8" y="382.4" width="1.3" height="2.6" fill="#22329a" opacity="0.85"/>
<rect x="331.9" y="382.4" width="1.3" height="2.6" fill="#22329a" opacity="0.85"/>
<rect x="334.4" y="382.4" width="1.2" height="2.6" fill="#22329a" opacity="0.85"/>
<rect x="326.4" y="411.1" width="9.2" height="1.4" fill="#c6c9d4"/>
<rect x="335.3" y="381.5" width="8.6" height="4.4" fill="#b0bef2" opacity="0.8"/>
<rect x="335.3" y="382.6" width="8.6" height="2.2" fill="#3b52c2"/>
<rect x="335.8" y="382.4" width="0.9" height="2.6" fill="#22329a" opacity="0.85"/>
<rect x="338.8" y="382.4" width="1.0" height="2.6" fill="#22329a" opacity="0.85"/>
<rect x="341.9" y="382.4" width="1.5" height="2.6" fill="#22329a" opacity="0.85"/>
<rect x="335.0" y="411.1" width="9.2" height="1.4" fill="#c6c9d4"/>
<rect x="344.0" y="381.5" width="8.6" height="4.4" fill="#b0bef2" opacity="0.8"/>
<rect x="344.0" y="382.6" width="8.6" height="2.2" fill="#3b52c2"/>
<rect x="344.4" y="382.4" width="1.5" height="2.6" fill="#22329a" opacity="0.85"/>
<rect x="348.0" y="382.4" width="1.2" height="2.6" fill="#22329a" opacity="0.85"/>
<rect x="350.4" y="382.4" width="1.0" height="2.6" fill="#22329a" opacity="0.85"/>
<rect x="343.7" y="411.1" width="9.2" height="1.4" fill="#c6c9d4"/>
<rect x="352.6" y="381.5" width="8.6" height="4.4" fill="#b0bef2" opacity="0.8"/>
<rect x="352.6" y="382.6" width="8.6" height="2.2" fill="#3b52c2"/>
<rect x="352.8" y="382.4" width="1.3" height="2.6" fill="#22329a" opacity="0.85"/>
<rect x="355.1" y="382.4" width="1.2" height="2.6" fill="#22329a" opacity="0.85"/>
<rect x="358.4" y="382.4" width="0.9" height="2.6" fill="#22329a" opacity="0.85"/>
<rect x="352.3" y="411.1" width="9.2" height="1.4" fill="#c6c9d4"/>
<rect x="361.2" y="381.5" width="8.6" height="4.4" fill="#b0bef2" opacity="0.8"/>
<rect x="361.2" y="382.6" width="8.6" height="2.2" fill="#3b52c2"/>
<rect x="361.7" y="382.4" width="1.5" height="2.6" fill="#22329a" opacity="0.85"/>
<rect x="365.0" y="382.4" width="1.0" height="2.6" fill="#22329a" opacity="0.85"/>
<rect x="368.1" y="382.4" width="1.2" height="2.6" fill="#22329a" opacity="0.85"/>
<rect x="360.9" y="411.1" width="9.2" height="1.4" fill="#c6c9d4"/>
<rect x="369.9" y="381.5" width="8.6" height="4.4" fill="#b0bef2" opacity="0.8"/>
<rect x="369.9" y="382.6" width="8.6" height="2.2" fill="#3b52c2"/>
<rect x="369.9" y="382.4" width="1.2" height="2.6" fill="#22329a" opacity="0.85"/>
<rect x="372.5" y="382.4" width="1.0" height="2.6" fill="#22329a" opacity="0.85"/>
<rect x="374.5" y="382.4" width="1.1" height="2.6" fill="#22329a" opacity="0.85"/>
<rect x="376.8" y="382.4" width="1.5" height="2.6" fill="#22329a" opacity="0.85"/>
<rect x="369.6" y="411.1" width="9.2" height="1.4" fill="#c6c9d4"/>
<rect x="378.5" y="381.5" width="8.6" height="4.4" fill="#b0bef2" opacity="0.8"/>
<rect x="378.5" y="382.6" width="8.6" height="2.2" fill="#3b52c2"/>
<rect x="379.2" y="382.4" width="1.5" height="2.6" fill="#22329a" opacity="0.85"/>
<rect x="381.7" y="382.4" width="1.5" height="2.6" fill="#22329a" opacity="0.85"/>
<rect x="385.0" y="382.4" width="1.5" height="2.6" fill="#22329a" opacity="0.85"/>
<rect x="378.2" y="411.1" width="9.2" height="1.4" fill="#c6c9d4"/>
<rect x="387.1" y="381.5" width="2.4" height="4.4" fill="#b0bef2" opacity="0.8"/>
<rect x="387.1" y="382.6" width="2.4" height="2.2" fill="#3b52c2"/>
<rect x="387.5" y="382.4" width="1.1" height="2.6" fill="#22329a" opacity="0.85"/>
<rect x="386.8" y="411.1" width="3.0" height="1.4" fill="#c6c9d4"/>
<rect x="391.0" y="381.5" width="4.7" height="4.4" fill="#b0bef2" opacity="0.8"/>
<rect x="391.0" y="382.6" width="4.7" height="2.2" fill="#3b52c2"/>
<rect x="391.6" y="382.4" width="1.1" height="2.6" fill="#22329a" opacity="0.85"/>
<rect x="394.1" y="382.4" width="1.0" height="2.6" fill="#22329a" opacity="0.85"/>
<rect x="390.7" y="411.1" width="5.3" height="1.4" fill="#c6c9d4"/>
<rect x="395.7" y="381.5" width="8.6" height="4.4" fill="#b0bef2" opacity="0.8"/>
<rect x="395.7" y="382.6" width="8.6" height="2.2" fill="#3b52c2"/>
<rect x="395.8" y="382.4" width="1.5" height="2.6" fill="#22329a" opacity="0.85"/>
<rect x="398.5" y="382.4" width="1.5" height="2.6" fill="#22329a" opacity="0.85"/>
<rect x="401.2" y="382.4" width="1.0" height="2.6" fill="#22329a" opacity="0.85"/>
<rect x="395.4" y="411.1" width="9.2" height="1.4" fill="#c6c9d4"/>
<rect x="404.4" y="381.5" width="8.6" height="4.4" fill="#b0bef2" opacity="0.8"/>
<rect x="404.4" y="382.6" width="8.6" height="2.2" fill="#3b52c2"/>
<rect x="404.5" y="382.4" width="1.1" height="2.6" fill="#22329a" opacity="0.85"/>
<rect x="407.8" y="382.4" width="1.5" height="2.6" fill="#22329a" opacity="0.85"/>
<rect x="411.2" y="382.4" width="1.3" height="2.6" fill="#22329a" opacity="0.85"/>
<rect x="404.1" y="411.1" width="9.2" height="1.4" fill="#c6c9d4"/>
<rect x="413.0" y="381.5" width="8.6" height="4.4" fill="#b0bef2" opacity="0.8"/>
<rect x="413.0" y="382.6" width="8.6" height="2.2" fill="#3b52c2"/>
<rect x="413.9" y="382.4" width="1.2" height="2.6" fill="#22329a" opacity="0.85"/>
<rect x="417.0" y="382.4" width="0.8" height="2.6" fill="#22329a" opacity="0.85"/>
<rect x="419.6" y="382.4" width="1.2" height="2.6" fill="#22329a" opacity="0.85"/>
<rect x="412.7" y="411.1" width="9.2" height="1.4" fill="#c6c9d4"/>
<rect x="423.5" y="381.5" width="6.7" height="4.4" fill="#b0bef2" opacity="0.8"/>
<rect x="423.5" y="382.6" width="6.7" height="2.2" fill="#3b52c2"/>
<rect x="424.2" y="382.4" width="1.0" height="2.6" fill="#22329a" opacity="0.85"/>
<rect x="426.1" y="382.4" width="1.5" height="2.6" fill="#22329a" opacity="0.85"/>
<rect x="428.6" y="382.4" width="1.2" height="2.6" fill="#22329a" opacity="0.85"/>
<rect x="423.2" y="411.1" width="7.3" height="1.4" fill="#c6c9d4"/>
<rect x="432.1" y="381.5" width="6.7" height="4.4" fill="#b0bef2" opacity="0.8"/>
<rect x="432.1" y="382.6" width="6.7" height="2.2" fill="#3b52c2"/>
<rect x="432.4" y="382.4" width="1.4" height="2.6" fill="#22329a" opacity="0.85"/>
<rect x="436.0" y="382.4" width="1.0" height="2.6" fill="#22329a" opacity="0.85"/>
<rect x="431.8" y="411.1" width="7.3" height="1.4" fill="#c6c9d4"/>
<rect x="440.8" y="381.5" width="6.7" height="4.4" fill="#b0bef2" opacity="0.8"/>
<rect x="440.8" y="382.6" width="6.7" height="2.2" fill="#3b52c2"/>
<rect x="441.1" y="382.4" width="1.2" height="2.6" fill="#22329a" opacity="0.85"/>
<rect x="443.7" y="382.4" width="0.9" height="2.6" fill="#22329a" opacity="0.85"/>
<rect x="445.6" y="382.4" width="1.0" height="2.6" fill="#22329a" opacity="0.85"/>
<rect x="440.5" y="411.1" width="7.3" height="1.4" fill="#c6c9d4"/>
<rect x="447.5" y="381.5" width="8.6" height="4.4" fill="#b0bef2" opacity="0.8"/>
<rect x="447.5" y="382.6" width="8.6" height="2.2" fill="#3b52c2"/>
<rect x="448.0" y="382.4" width="1.0" height="2.6" fill="#22329a" opacity="0.85"/>
<rect x="451.0" y="382.4" width="1.6" height="2.6" fill="#22329a" opacity="0.85"/>
<rect x="454.1" y="382.4" width="0.9" height="2.6" fill="#22329a" opacity="0.85"/>
<rect x="447.2" y="411.1" width="9.2" height="1.4" fill="#c6c9d4"/>
<rect x="456.1" y="381.5" width="8.6" height="4.4" fill="#b0bef2" opacity="0.8"/>
<rect x="456.1" y="382.6" width="8.6" height="2.2" fill="#3b52c2"/>
<rect x="456.2" y="382.4" width="1.1" height="2.6" fill="#22329a" opacity="0.85"/>
<rect x="458.2" y="382.4" width="1.0" height="2.6" fill="#22329a" opacity="0.85"/>
<rect x="460.4" y="382.4" width="1.3" height="2.6" fill="#22329a" opacity="0.85"/>
<rect x="463.7" y="382.4" width="1.4" height="2.6" fill="#22329a" opacity="0.85"/>
<rect x="455.8" y="411.1" width="9.2" height="1.4" fill="#c6c9d4"/>
<rect x="464.7" y="381.5" width="8.6" height="4.4" fill="#b0bef2" opacity="0.8"/>
<rect x="464.7" y="382.6" width="8.6" height="2.2" fill="#3b52c2"/>
<rect x="465.2" y="382.4" width="1.2" height="2.6" fill="#22329a" opacity="0.85"/>
<rect x="467.7" y="382.4" width="1.1" height="2.6" fill="#22329a" opacity="0.85"/>
<rect x="469.7" y="382.4" width="1.0" height="2.6" fill="#22329a" opacity="0.85"/>
<rect x="464.4" y="411.1" width="9.2" height="1.4" fill="#c6c9d4"/>
<rect x="473.4" y="381.5" width="8.6" height="4.4" fill="#b0bef2" opacity="0.8"/>
<rect x="473.4" y="382.6" width="8.6" height="2.2" fill="#3b52c2"/>
<rect x="473.5" y="382.4" width="1.2" height="2.6" fill="#22329a" opacity="0.85"/>
<rect x="476.4" y="382.4" width="1.5" height="2.6" fill="#22329a" opacity="0.85"/>
<rect x="479.0" y="382.4" width="1.0" height="2.6" fill="#22329a" opacity="0.85"/>
<rect x="481.1" y="382.4" width="1.1" height="2.6" fill="#22329a" opacity="0.85"/>
<rect x="473.1" y="411.1" width="9.2" height="1.4" fill="#c6c9d4"/>
<rect x="482.0" y="381.5" width="8.6" height="4.4" fill="#b0bef2" opacity="0.8"/>
<rect x="482.0" y="382.6" width="8.6" height="2.2" fill="#3b52c2"/>
<rect x="483.0" y="382.4" width="1.5" height="2.6" fill="#22329a" opacity="0.85"/>
<rect x="486.5" y="382.4" width="0.8" height="2.6" fill="#22329a" opacity="0.85"/>
<rect x="488.1" y="382.4" width="1.4" height="2.6" fill="#22329a" opacity="0.85"/>
<rect x="481.7" y="411.1" width="9.2" height="1.4" fill="#c6c9d4"/>
<rect x="493.2" y="381.5" width="6.0" height="4.4" fill="#b0bef2" opacity="0.8"/>
<rect x="493.2" y="382.6" width="6.0" height="2.2" fill="#3b52c2"/>
<rect x="493.7" y="382.4" width="1.3" height="2.6" fill="#22329a" opacity="0.85"/>
<rect x="495.8" y="382.4" width="1.1" height="2.6" fill="#22329a" opacity="0.85"/>
<rect x="492.9" y="411.1" width="6.6" height="1.4" fill="#c6c9d4"/>
<rect x="501.4" y="381.5" width="6.5" height="4.4" fill="#b0bef2" opacity="0.8"/>
<rect x="501.4" y="382.6" width="6.5" height="2.2" fill="#3b52c2"/>
<rect x="502.2" y="382.4" width="1.5" height="2.6" fill="#22329a" opacity="0.85"/>
<rect x="505.9" y="382.4" width="1.0" height="2.6" fill="#22329a" opacity="0.85"/>
<rect x="501.1" y="411.1" width="7.1" height="1.4" fill="#c6c9d4"/>
<rect x="507.9" y="381.5" width="8.6" height="4.4" fill="#b0bef2" opacity="0.8"/>
<rect x="507.9" y="382.6" width="8.6" height="2.2" fill="#3b52c2"/>
<rect x="508.0" y="382.4" width="1.2" height="2.6" fill="#22329a" opacity="0.85"/>
<rect x="511.0" y="382.4" width="1.6" height="2.6" fill="#22329a" opacity="0.85"/>
<rect x="514.4" y="382.4" width="1.3" height="2.6" fill="#22329a" opacity="0.85"/>
<rect x="507.6" y="411.1" width="9.2" height="1.4" fill="#c6c9d4"/>
<rect x="363.0" y="411.0" width="13.8" height="1.6" fill="#9a9fbe"/>
<rect x="397.5" y="411.0" width="9.5" height="1.6" fill="#9a9fbe"/>
<rect x="483.7" y="411.0" width="11.2" height="1.6" fill="#9a9fbe"/>
<text x="24.2" y="509.6" font-family="'Liberation Sans', sans-serif" font-size="9.2" fill="#222" text-anchor="middle">Diagnosis</text>
<line x1="78.8" y1="477.0" x2="78.8" y2="534.6" stroke="#eff0f3" stroke-width="0.6"/>
<line x1="87.4" y1="477.0" x2="87.4" y2="534.6" stroke="#eff0f3" stroke-width="0.6"/>
<line x1="96.1" y1="477.0" x2="96.1" y2="534.6" stroke="#eff0f3" stroke-width="0.6"/>
<line x1="104.7" y1="477.0" x2="104.7" y2="534.6" stroke="#eff0f3" stroke-width="0.6"/>
<line x1="113.3" y1="477.0" x2="113.3" y2="534.6" stroke="#eff0f3" stroke-width="0.6"/>
<line x1="122.0" y1="477.0" x2="122.0" y2="534.6" stroke="#eff0f3" stroke-width="0.6"/>
<line x1="130.6" y1="477.0" x2="130.6" y2="534.6" stroke="#eff0f3" stroke-width="0.6"/>
<line x1="139.2" y1="477.0" x2="139.2" y2="534.6" stroke="#eff0f3" stroke-width="0.6"/>
<line x1="147.8" y1="477.0" x2="147.8" y2="534.6" stroke="#eff0f3" stroke-width="0.6"/>
<line x1="156.5" y1="477.0" x2="156.5" y2="534.6" stroke="#eff0f3" stroke-width="0.6"/>
<line x1="165.1" y1="477.0" x2="165.1" y2="534.6" stroke="#eff0f3" stroke-width="0.6"/>
<line x1="173.7" y1="477.0" x2="173.7" y2="534.6" stroke="#eff0f3" stroke-width="0.6"/>
<line x1="182.3" y1="477.0" x2="182.3" y2="534.6" stroke="#eff0f3" stroke-width="0.6"/>
<line x1="191.0" y1="477.0" x2="191.0" y2="534.6" stroke="#eff0f3" stroke-width="0.6"/>
<line x1="199.6" y1="477.0" x2="199.6" y2="534.6" stroke="#eff0f3" stroke-width="0.6"/>
<line x1="208.2" y1="477.0" x2="208.2" y2="534.6" stroke="#eff0f3" stroke-width="0.6"/>
<line x1="216.8" y1="477.0" x2="216.8" y2="534.6" stroke="#eff0f3" stroke-width="0.6"/>
<line x1="225.5" y1="477.0" x2="225.5" y2="534.6" stroke="#eff0f3" stroke-width="0.6"/>
<line x1="234.1" y1="477.0" x2="234.1" y2="534.6" stroke="#eff0f3" stroke-width="0.6"/>
<line x1="242.7" y1="477.0" x2="242.7" y2="534.6" stroke="#eff0f3" stroke-width="0.6"/>
<line x1="251.4" y1="477.0" x2="251.4" y2="534.6" stroke="#eff0f3" stroke-width="0.6"/>
<line x1="260.0" y1="477.0" x2="260.0" y2="534.6" stroke="#eff0f3" stroke-width="0.6"/>
<line x1="268.6" y1="477.0" x2="268.6" y2="534.6" stroke="#eff0f3" stroke-width="0.6"/>
<line x1="70.7" y1="508.7" x2="269.0" y2="508.7" stroke="#eef0e0" stroke-width="0.6"/>
<line x1="70.7" y1="474.0" x2="70.7" y2="535.2" stroke="#222" stroke-width="1.2"/>
<line x1="70.1" y1="534.6" x2="271.7" y2="534.6" stroke="#222" stroke-width="1.2"/>
<line x1="68.3" y1="478.0" x2="70.7" y2="478.0" stroke="#222" stroke-width="0.8"/>
<text x="65.4" y="479.4" font-family="'Liberation Sans', sans-serif" font-size="4" fill="#222" text-anchor="end">3</text>
<line x1="68.3" y1="482.7" x2="70.7" y2="482.7" stroke="#222" stroke-width="0.8"/>
<text x="65.4" y="484.1" font-family="'Liberation Sans', sans-serif" font-size="4" fill="#222" text-anchor="end">2</text>
<line x1="68.3" y1="487.4" x2="70.7" y2="487.4" stroke="#222" stroke-width="0.8"/>
<text x="65.4" y="488.8" font-family="'Liberation Sans', sans-serif" font-size="4" fill="#222" text-anchor="end">1</text>
<line x1="68.3" y1="492.1" x2="70.7" y2="492.1" stroke="#222" stroke-width="0.8"/>
<text x="65.4" y="493.5" font-family="'Liberation Sans', sans-serif" font-size="4" fill="#222" text-anchor="end">0</text>
<line x1="68.3" y1="496.9" x2="70.7" y2="496.9" stroke="#222" stroke-width="0.8"/>
<text x="65.4" y="498.3" font-family="'Liberation Sans', sans-serif" font-size="4" fill="#222" text-anchor="end">-1</text>
<line x1="68.3" y1="501.6" x2="70.7" y2="501.6" stroke="#222" stroke-width="0.8"/>
<text x="65.4" y="503.0" font-family="'Liberation Sans', sans-serif" font-size="4" fill="#222" text-anchor="end">-2</text>
<line x1="68.3" y1="506.3" x2="70.7" y2="506.3" stroke="#222" stroke-width="0.8"/>
<text x="65.4" y="507.7" font-family="'Liberation Sans', sans-serif" font-size="4" fill="#222" text-anchor="end">-3</text>
<line x1="68.3" y1="511.0" x2="70.7" y2="511.0" stroke="#222" stroke-width="0.8"/>
<text x="65.4" y="512.4" font-family="'Liberation Sans', sans-serif" font-size="4" fill="#222" text-anchor="end">1</text>
<line x1="68.3" y1="515.7" x2="70.7" y2="515.7" stroke="#222" stroke-width="0.8"/>
<text x="65.4" y="517.1" font-family="'Liberation Sans', sans-serif" font-size="4" fill="#222" text-anchor="end">.8</text>
<line x1="68.3" y1="520.5" x2="70.7" y2="520.5" stroke="#222" stroke-width="0.8"/>
<text x="65.4" y="521.9" font-family="'Liberation Sans', sans-serif" font-size="4" fill="#222" text-anchor="end">.6</text>
<line x1="68.3" y1="525.2" x2="70.7" y2="525.2" stroke="#222" stroke-width="0.8"/>
<text x="65.4" y="526.6" font-family="'Liberation Sans', sans-serif" font-size="4" fill="#222" text-anchor="end">.4</text>
<line x1="68.3" y1="529.9" x2="70.7" y2="529.9" stroke="#222" stroke-width="0.8"/>
<text x="65.4" y="531.3" font-family="'Liberation Sans', sans-serif" font-size="4" fill="#222" text-anchor="end">.2</text>
<line x1="68.3" y1="534.6" x2="70.7" y2="534.6" stroke="#222" stroke-width="0.8"/>
<text x="65.4" y="536.0" font-family="'Liberation Sans', sans-serif" font-size="4" fill="#222" text-anchor="end">0</text>
<line x1="74.5" y1="534.6" x2="74.5" y2="537.2" stroke="#222" stroke-width="0.8"/>
<text transform="translate(74.5,545.2) scale(0.86,1)" font-family="'Liberation Sans', sans-serif" font-size="7.3" fill="#333" text-anchor="middle">1</text>
<line x1="83.1" y1="534.6" x2="83.1" y2="537.2" stroke="#222" stroke-width="0.8"/>
<text transform="translate(83.1,545.2) scale(0.86,1)" font-family="'Liberation Sans', sans-serif" font-size="7.3" fill="#333" text-anchor="middle">2</text>
<line x1="91.8" y1="534.6" x2="91.8" y2="537.2" stroke="#222" stroke-width="0.8"/>
<text transform="translate(91.8,545.2) scale(0.86,1)" font-family="'Liberation Sans', sans-serif" font-size="7.3" fill="#333" text-anchor="middle">3</text>
<line x1="100.4" y1="534.6" x2="100.4" y2="537.2" stroke="#222" stroke-width="0.8"/>
<text transform="translate(100.4,545.2) scale(0.86,1)" font-family="'Liberation Sans', sans-serif" font-size="7.3" fill="#333" text-anchor="middle">4</text>
<line x1="109.0" y1="534.6" x2="109.0" y2="537.2" stroke="#222" stroke-width="0.8"/>
<text transform="translate(109.0,545.2) scale(0.86,1)" font-family="'Liberation Sans', sans-serif" font-size="7.3" fill="#333" text-anchor="middle">5</text>
<line x1="117.6" y1="534.6" x2="117.6" y2="537.2" stroke="#222" stroke-width="0.8"/>
<text transform="translate(117.6,545.2) scale(0.86,1)" font-family="'Liberation Sans', sans-serif" font-size="7.3" fill="#333" text-anchor="middle">6</text>
<line x1="126.3" y1="534.6" x2="126.3" y2="537.2" stroke="#222" stroke-width="0.8"/>
<text transform="translate(126.3,545.2) scale(0.86,1)" font-family="'Liberation Sans', sans-serif" font-size="7.3" fill="#333" text-anchor="middle">7</text>
<line x1="134.9" y1="534.6" x2="134.9" y2="537.2" stroke="#222" stroke-width="0.8"/>
<text transform="translate(134.9,545.2) scale(0.86,1)" font-family="'Liberation Sans', sans-serif" font-size="7.3" fill="#333" text-anchor="middle">8</text>
<line x1="143.5" y1="534.6" x2="143.5" y2="537.2" stroke="#222" stroke-width="0.8"/>
<text transform="translate(143.5,545.2) scale(0.86,1)" font-family="'Liberation Sans', sans-serif" font-size="7.3" fill="#333" text-anchor="middle">9</text>
<line x1="152.1" y1="534.6" x2="152.1" y2="537.2" stroke="#222" stroke-width="0.8"/>
<text transform="translate(152.1,545.2) scale(0.86,1)" font-family="'Liberation Sans', sans-serif" font-size="7.3" fill="#333" text-anchor="middle">10</text>
<line x1="160.8" y1="534.6" x2="160.8" y2="537.2" stroke="#222" stroke-width="0.8"/>
<text transform="translate(160.8,545.2) scale(0.86,1)" font-family="'Liberation Sans', sans-serif" font-size="7.3" fill="#333" text-anchor="middle">11</text>
<line x1="169.4" y1="534.6" x2="169.4" y2="537.2" stroke="#222" stroke-width="0.8"/>
<text transform="translate(169.4,545.2) scale(0.86,1)" font-family="'Liberation Sans', sans-serif" font-size="7.3" fill="#333" text-anchor="middle">12</text>
<line x1="178.0" y1="534.6" x2="178.0" y2="537.2" stroke="#222" stroke-width="0.8"/>
<text transform="translate(178.0,545.2) scale(0.86,1)" font-family="'Liberation Sans', sans-serif" font-size="7.3" fill="#333" text-anchor="middle">13</text>
<line x1="186.7" y1="534.6" x2="186.7" y2="537.2" stroke="#222" stroke-width="0.8"/>
<text transform="translate(186.7,545.2) scale(0.86,1)" font-family="'Liberation Sans', sans-serif" font-size="7.3" fill="#333" text-anchor="middle">14</text>
<line x1="195.3" y1="534.6" x2="195.3" y2="537.2" stroke="#222" stroke-width="0.8"/>
<text transform="translate(195.3,545.2) scale(0.86,1)" font-family="'Liberation Sans', sans-serif" font-size="7.3" fill="#333" text-anchor="middle">15</text>
<line x1="203.9" y1="534.6" x2="203.9" y2="537.2" stroke="#222" stroke-width="0.8"/>
<text transform="translate(203.9,545.2) scale(0.86,1)" font-family="'Liberation Sans', sans-serif" font-size="7.3" fill="#333" text-anchor="middle">16</text>
<line x1="212.5" y1="534.6" x2="212.5" y2="537.2" stroke="#222" stroke-width="0.8"/>
<text transform="translate(212.5,545.2) scale(0.86,1)" font-family="'Liberation Sans', sans-serif" font-size="7.3" fill="#333" text-anchor="middle">17</text>
<line x1="221.2" y1="534.6" x2="221.2" y2="537.2" stroke="#222" stroke-width="0.8"/>
<text transform="translate(221.2,545.2) scale(0.86,1)" font-family="'Liberation Sans', sans-serif" font-size="7.3" fill="#333" text-anchor="middle">18</text>
<line x1="229.8" y1="534.6" x2="229.8" y2="537.2" stroke="#222" stroke-width="0.8"/>
<text transform="translate(229.8,545.2) scale(0.86,1)" font-family="'Liberation Sans', sans-serif" font-size="7.3" fill="#333" text-anchor="middle">19</text>
<line x1="238.4" y1="534.6" x2="238.4" y2="537.2" stroke="#222" stroke-width="0.8"/>
<text transform="translate(238.4,545.2) scale(0.86,1)" font-family="'Liberation Sans', sans-serif" font-size="7.3" fill="#333" text-anchor="middle">20</text>
<line x1="247.0" y1="534.6" x2="247.0" y2="537.2" stroke="#222" stroke-width="0.8"/>
<text transform="translate(247.0,545.2) scale(0.86,1)" font-family="'Liberation Sans', sans-serif" font-size="7.3" fill="#333" text-anchor="middle">21</text>
<line x1="255.7" y1="534.6" x2="255.7" y2="537.2" stroke="#222" stroke-width="0.8"/>
<text transform="translate(255.7,545.2) scale(0.86,1)" font-family="'Liberation Sans', sans-serif" font-size="7.3" fill="#333" text-anchor="middle">22</text>
<line x1="264.3" y1="534.6" x2="264.3" y2="537.2" stroke="#222" stroke-width="0.8"/>
<text transform="translate(264.3,545.2) scale(0.86,1)" font-family="'Liberation Sans', sans-serif" font-size="7.3" fill="#333" text-anchor="middle">X</text>
<text transform="translate(57.2,492.2) rotate(-90) scale(0.66,1)" font-family="'Liberation Sans', sans-serif" font-size="8.8" font-weight="bold" fill="#222" text-anchor="middle">Copy number</text>
<text transform="translate(57.2,525.3) rotate(-90) scale(0.72,1)" font-family="'Liberation Sans', sans-serif" font-size="8.8" font-weight="bold" fill="#222" text-anchor="middle">VAF</text>
<rect x="70.2" y="491.0" width="8.6" height="4.4" fill="#b0bef2" opacity="0.8"/>
<rect x="70.2" y="492.1" width="8.6" height="2.2" fill="#3b52c2"/>
<rect x="70.6" y="491.9" width="1.2" height="2.6" fill="#22329a" opacity="0.85"/>
<rect x="72.7" y="491.9" width="1.4" height="2.6" fill="#22329a" opacity="0.85"/>
<rect x="75.3" y="491.9" width="1.5" height="2.6" fill="#22329a" opacity="0.85"/>
<rect x="69.9" y="520.6" width="9.2" height="1.4" fill="#9ca0ba"/>
<rect x="78.8" y="491.0" width="8.6" height="4.4" fill="#b0bef2" opacity="0.8"/>
<rect x="78.8" y="492.1" width="8.6" height="2.2" fill="#3b52c2"/>
<rect x="79.1" y="491.9" width="0.9" height="2.6" fill="#22329a" opacity="0.85"/>
<rect x="81.2" y="491.9" width="1.3" height="2.6" fill="#22329a" opacity="0.85"/>
<rect x="84.3" y="491.9" width="0.9" height="2.6" fill="#22329a" opacity="0.85"/>
<rect x="86.1" y="491.9" width="1.2" height="2.6" fill="#22329a" opacity="0.85"/>
<rect x="78.5" y="520.6" width="9.2" height="1.4" fill="#9ca0ba"/>
<rect x="87.4" y="491.0" width="8.6" height="4.4" fill="#b0bef2" opacity="0.8"/>
<rect x="87.4" y="492.1" width="8.6" height="2.2" fill="#3b52c2"/>
<rect x="87.8" y="491.9" width="1.0" height="2.6" fill="#22329a" opacity="0.85"/>
<rect x="90.5" y="491.9" width="0.8" height="2.6" fill="#22329a" opacity="0.85"/>
<rect x="92.5" y="491.9" width="1.2" height="2.6" fill="#22329a" opacity="0.85"/>
<rect x="87.1" y="520.6" width="9.2" height="1.4" fill="#9ca0ba"/>
<rect x="96.1" y="491.0" width="8.6" height="4.4" fill="#b0bef2" opacity="0.8"/>
<rect x="96.1" y="492.1" width="8.6" height="2.2" fill="#3b52c2"/>
<rect x="96.7" y="491.9" width="1.5" height="2.6" fill="#22329a" opacity="0.85"/>
<rect x="99.7" y="491.9" width="1.0" height="2.6" fill="#22329a" opacity="0.85"/>
<rect x="101.8" y="491.9" width="1.6" height="2.6" fill="#22329a" opacity="0.85"/>
<rect x="95.8" y="520.6" width="9.2" height="1.4" fill="#9ca0ba"/>
<rect x="104.7" y="491.0" width="8.6" height="4.4" fill="#b0bef2" opacity="0.8"/>
<rect x="104.7" y="492.1" width="8.6" height="2.2" fill="#3b52c2"/>
<rect x="105.0" y="491.9" width="0.8" height="2.6" fill="#22329a" opacity="0.85"/>
<rect x="107.3" y="491.9" width="1.3" height="2.6" fill="#22329a" opacity="0.85"/>
<rect x="110.0" y="491.9" width="1.0" height="2.6" fill="#22329a" opacity="0.85"/>
<rect x="104.4" y="520.6" width="9.2" height="1.4" fill="#9ca0ba"/>
<rect x="113.3" y="491.0" width="8.6" height="4.4" fill="#b0bef2" opacity="0.8"/>
<rect x="113.3" y="492.1" width="8.6" height="2.2" fill="#3b52c2"/>
<rect x="114.3" y="491.9" width="1.0" height="2.6" fill="#22329a" opacity="0.85"/>
<rect x="116.1" y="491.9" width="1.1" height="2.6" fill="#22329a" opacity="0.85"/>
<rect x="118.5" y="491.9" width="1.3" height="2.6" fill="#22329a" opacity="0.85"/>
<rect x="121.0" y="491.9" width="1.4" height="2.6" fill="#22329a" opacity="0.85"/>
<rect x="113.0" y="520.6" width="9.2" height="1.4" fill="#9ca0ba"/>
<rect x="122.0" y="491.0" width="8.6" height="4.4" fill="#b0bef2" opacity="0.8"/>
<rect x="122.0" y="492.1" width="8.6" height="2.2" fill="#3b52c2"/>
<rect x="122.5" y="491.9" width="1.0" height="2.6" fill="#22329a" opacity="0.85"/>
<rect x="125.6" y="491.9" width="1.0" height="2.6" fill="#22329a" opacity="0.85"/>
<rect x="128.6" y="491.9" width="1.0" height="2.6" fill="#22329a" opacity="0.85"/>
<rect x="121.7" y="520.6" width="9.2" height="1.4" fill="#9ca0ba"/>
<rect x="130.6" y="491.0" width="8.6" height="4.4" fill="#b0bef2" opacity="0.8"/>
<rect x="130.6" y="492.1" width="8.6" height="2.2" fill="#3b52c2"/>
<rect x="131.3" y="491.9" width="1.0" height="2.6" fill="#22329a" opacity="0.85"/>
<rect x="134.5" y="491.9" width="1.2" height="2.6" fill="#22329a" opacity="0.85"/>
<rect x="136.8" y="491.9" width="1.0" height="2.6" fill="#22329a" opacity="0.85"/>
<rect x="130.3" y="520.6" width="9.2" height="1.4" fill="#9ca0ba"/>
<rect x="139.2" y="491.0" width="2.4" height="4.4" fill="#b0bef2" opacity="0.8"/>
<rect x="139.2" y="492.1" width="2.4" height="2.2" fill="#3b52c2"/>
<rect x="139.9" y="491.9" width="1.6" height="2.6" fill="#22329a" opacity="0.85"/>
<rect x="138.9" y="520.6" width="3.0" height="1.4" fill="#9ca0ba"/>
<rect x="143.1" y="491.0" width="4.7" height="4.4" fill="#b0bef2" opacity="0.8"/>
<rect x="143.1" y="492.1" width="4.7" height="2.2" fill="#3b52c2"/>
<rect x="143.5" y="491.9" width="1.0" height="2.6" fill="#22329a" opacity="0.85"/>
<rect x="146.6" y="491.9" width="0.9" height="2.6" fill="#22329a" opacity="0.85"/>
<rect x="142.8" y="520.6" width="5.3" height="1.4" fill="#9ca0ba"/>
<rect x="147.8" y="491.0" width="8.6" height="4.4" fill="#b0bef2" opacity="0.8"/>
<rect x="147.8" y="492.1" width="8.6" height="2.2" fill="#3b52c2"/>
<rect x="147.9" y="491.9" width="1.1" height="2.6" fill="#22329a" opacity="0.85"/>
<rect x="151.1" y="491.9" width="1.5" height="2.6" fill="#22329a" opacity="0.85"/>
<rect x="154.4" y="491.9" width="1.6" height="2.6" fill="#22329a" opacity="0.85"/>
<rect x="147.5" y="520.6" width="9.2" height="1.4" fill="#9ca0ba"/>
<rect x="156.5" y="491.0" width="8.6" height="4.4" fill="#b0bef2" opacity="0.8"/>
<rect x="156.5" y="492.1" width="8.6" height="2.2" fill="#3b52c2"/>
<rect x="156.8" y="491.9" width="0.9" height="2.6" fill="#22329a" opacity="0.85"/>
<rect x="159.8" y="491.9" width="1.4" height="2.6" fill="#22329a" opacity="0.85"/>
<rect x="162.1" y="491.9" width="1.3" height="2.6" fill="#22329a" opacity="0.85"/>
<rect x="156.2" y="520.6" width="9.2" height="1.4" fill="#9ca0ba"/>
<rect x="165.1" y="491.0" width="8.6" height="4.4" fill="#b0bef2" opacity="0.8"/>
<rect x="165.1" y="492.1" width="8.6" height="2.2" fill="#3b52c2"/>
<rect x="165.5" y="491.9" width="1.1" height="2.6" fill="#22329a" opacity="0.85"/>
<rect x="167.6" y="491.9" width="0.8" height="2.6" fill="#22329a" opacity="0.85"/>
<rect x="169.6" y="491.9" width="1.1" height="2.6" fill="#22329a" opacity="0.85"/>
<rect x="172.8" y="491.9" width="0.9" height="2.6" fill="#22329a" opacity="0.85"/>
<rect x="164.8" y="520.6" width="9.2" height="1.4" fill="#9ca0ba"/>
<rect x="175.6" y="491.0" width="6.7" height="4.4" fill="#b0bef2" opacity="0.8"/>
<rect x="175.6" y="492.1" width="6.7" height="2.2" fill="#3b52c2"/>
<rect x="175.8" y="491.9" width="1.1" height="2.6" fill="#22329a" opacity="0.85"/>
<rect x="178.9" y="491.9" width="1.5" height="2.6" fill="#22329a" opacity="0.85"/>
<rect x="175.3" y="520.6" width="7.3" height="1.4" fill="#9ca0ba"/>
<rect x="184.2" y="491.0" width="6.7" height="4.4" fill="#b0bef2" opacity="0.8"/>
<rect x="184.2" y="492.1" width="6.7" height="2.2" fill="#3b52c2"/>
<rect x="184.3" y="491.9" width="1.2" height="2.6" fill="#22329a" opacity="0.85"/>
<rect x="186.8" y="491.9" width="1.5" height="2.6" fill="#22329a" opacity="0.85"/>
<rect x="189.4" y="491.9" width="1.1" height="2.6" fill="#22329a" opacity="0.85"/>
<rect x="183.9" y="520.6" width="7.3" height="1.4" fill="#9ca0ba"/>
<rect x="192.9" y="491.0" width="6.7" height="4.4" fill="#b0bef2" opacity="0.8"/>
<rect x="192.9" y="492.1" width="6.7" height="2.2" fill="#3b52c2"/>
<rect x="192.9" y="491.9" width="1.1" height="2.6" fill="#22329a" opacity="0.85"/>
<rect x="196.0" y="491.9" width="1.4" height="2.6" fill="#22329a" opacity="0.85"/>
<rect x="198.2" y="491.9" width="0.8" height="2.6" fill="#22329a" opacity="0.85"/>
<rect x="192.6" y="520.6" width="7.3" height="1.4" fill="#9ca0ba"/>
<rect x="199.6" y="491.0" width="8.6" height="4.4" fill="#b0bef2" opacity="0.8"/>
<rect x="199.6" y="492.1" width="8.6" height="2.2" fill="#3b52c2"/>
<rect x="200.5" y="491.9" width="1.0" height="2.6" fill="#22329a" opacity="0.85"/>
<rect x="203.4" y="491.9" width="1.5" height="2.6" fill="#22329a" opacity="0.85"/>
<rect x="206.2" y="491.9" width="1.0" height="2.6" fill="#22329a" opacity="0.85"/>
<rect x="199.3" y="520.6" width="9.2" height="1.4" fill="#9ca0ba"/>
<rect x="208.2" y="491.0" width="8.6" height="4.4" fill="#b0bef2" opacity="0.8"/>
<rect x="208.2" y="492.1" width="8.6" height="2.2" fill="#3b52c2"/>
<rect x="208.8" y="491.9" width="1.0" height="2.6" fill="#22329a" opacity="0.85"/>
<rect x="211.7" y="491.9" width="1.1" height="2.6" fill="#22329a" opacity="0.85"/>
<rect x="213.9" y="491.9" width="0.8" height="2.6" fill="#22329a" opacity="0.85"/>
<rect x="207.9" y="520.6" width="9.2" height="1.4" fill="#9ca0ba"/>
<rect x="216.8" y="491.0" width="8.6" height="4.4" fill="#b0bef2" opacity="0.8"/>
<rect x="216.8" y="492.1" width="8.6" height="2.2" fill="#3b52c2"/>
<rect x="217.8" y="491.9" width="1.3" height="2.6" fill="#22329a" opacity="0.85"/>
<rect x="221.2" y="491.9" width="0.8" height="2.6" fill="#22329a" opacity="0.85"/>
<rect x="223.1" y="491.9" width="1.2" height="2.6" fill="#22329a" opacity="0.85"/>
<rect x="216.5" y="520.6" width="9.2" height="1.4" fill="#9ca0ba"/>
<rect x="225.5" y="491.0" width="8.6" height="4.4" fill="#b0bef2" opacity="0.8"/>
<rect x="225.5" y="492.1" width="8.6" height="2.2" fill="#3b52c2"/>
<rect x="226.4" y="491.9" width="1.1" height="2.6" fill="#22329a" opacity="0.85"/>
<rect x="228.7" y="491.9" width="1.1" height="2.6" fill="#22329a" opacity="0.85"/>
<rect x="231.3" y="491.9" width="1.5" height="2.6" fill="#22329a" opacity="0.85"/>
<rect x="225.2" y="520.6" width="9.2" height="1.4" fill="#9ca0ba"/>
<rect x="234.1" y="491.0" width="8.6" height="4.4" fill="#b0bef2" opacity="0.8"/>
<rect x="234.1" y="492.1" width="8.6" height="2.2" fill="#3b52c2"/>
<rect x="234.9" y="491.9" width="1.4" height="2.6" fill="#22329a" opacity="0.85"/>
<rect x="238.2" y="491.9" width="1.4" height="2.6" fill="#22329a" opacity="0.85"/>
<rect x="241.3" y="491.9" width="1.1" height="2.6" fill="#22329a" opacity="0.85"/>
<rect x="233.8" y="520.6" width="9.2" height="1.4" fill="#9ca0ba"/>
<rect x="245.3" y="491.0" width="6.0" height="4.4" fill="#b0bef2" opacity="0.8"/>
<rect x="245.3" y="492.1" width="6.0" height="2.2" fill="#3b52c2"/>
<rect x="245.7" y="491.9" width="1.4" height="2.6" fill="#22329a" opacity="0.85"/>
<rect x="248.0" y="491.9" width="1.0" height="2.6" fill="#22329a" opacity="0.85"/>
<rect x="245.0" y="520.6" width="6.6" height="1.4" fill="#9ca0ba"/>
<rect x="253.5" y="491.0" width="6.5" height="4.4" fill="#b0bef2" opacity="0.8"/>
<rect x="253.5" y="492.1" width="6.5" height="2.2" fill="#3b52c2"/>
<rect x="253.8" y="491.9" width="0.9" height="2.6" fill="#22329a" opacity="0.85"/>
<rect x="255.5" y="491.9" width="1.2" height="2.6" fill="#22329a" opacity="0.85"/>
<rect x="258.0" y="491.9" width="1.6" height="2.6" fill="#22329a" opacity="0.85"/>
<rect x="253.2" y="520.6" width="7.1" height="1.4" fill="#9ca0ba"/>
<rect x="260.0" y="491.0" width="8.6" height="4.4" fill="#b0bef2" opacity="0.8"/>
<rect x="260.0" y="492.1" width="8.6" height="2.2" fill="#3b52c2"/>
<rect x="261.0" y="491.9" width="1.0" height="2.6" fill="#22329a" opacity="0.85"/>
<rect x="262.9" y="491.9" width="0.9" height="2.6" fill="#22329a" opacity="0.85"/>
<rect x="265.3" y="491.9" width="1.4" height="2.6" fill="#22329a" opacity="0.85"/>
<rect x="259.7" y="520.6" width="9.2" height="1.4" fill="#9ca0ba"/>
<rect x="70.2" y="520.5" width="6.0" height="1.6" fill="#4a56a2"/>
<rect x="113.3" y="520.5" width="7.8" height="1.6" fill="#4a56a2"/>
<rect x="166.8" y="520.5" width="6.0" height="1.6" fill="#4a56a2"/>
<rect x="184.1" y="520.5" width="6.0" height="1.6" fill="#4a56a2"/>
<rect x="210.8" y="520.5" width="5.2" height="1.6" fill="#4a56a2"/>
<rect x="260.8" y="520.5" width="6.9" height="1.6" fill="#4a56a2"/>
<line x1="326.7" y1="477.0" x2="326.7" y2="534.6" stroke="#eff0f3" stroke-width="0.6"/>
<line x1="335.3" y1="477.0" x2="335.3" y2="534.6" stroke="#eff0f3" stroke-width="0.6"/>
<line x1="344.0" y1="477.0" x2="344.0" y2="534.6" stroke="#eff0f3" stroke-width="0.6"/>
<line x1="352.6" y1="477.0" x2="352.6" y2="534.6" stroke="#eff0f3" stroke-width="0.6"/>
<line x1="361.2" y1="477.0" x2="361.2" y2="534.6" stroke="#eff0f3" stroke-width="0.6"/>
<line x1="369.9" y1="477.0" x2="369.9" y2="534.6" stroke="#eff0f3" stroke-width="0.6"/>
<line x1="378.5" y1="477.0" x2="378.5" y2="534.6" stroke="#eff0f3" stroke-width="0.6"/>
<line x1="387.1" y1="477.0" x2="387.1" y2="534.6" stroke="#eff0f3" stroke-width="0.6"/>
<line x1="395.7" y1="477.0" x2="395.7" y2="534.6" stroke="#eff0f3" stroke-width="0.6"/>
<line x1="404.4" y1="477.0" x2="404.4" y2="534.6" stroke="#eff0f3" stroke-width="0.6"/>
<line x1="413.0" y1="477.0" x2="413.0" y2="534.6" stroke="#eff0f3" stroke-width="0.6"/>
<line x1="421.6" y1="477.0" x2="421.6" y2="534.6" stroke="#eff0f3" stroke-width="0.6"/>
<line x1="430.2" y1="477.0" x2="430.2" y2="534.6" stroke="#eff0f3" stroke-width="0.6"/>
<line x1="438.9" y1="477.0" x2="438.9" y2="534.6" stroke="#eff0f3" stroke-width="0.6"/>
<line x1="447.5" y1="477.0" x2="447.5" y2="534.6" stroke="#eff0f3" stroke-width="0.6"/>
<line x1="456.1" y1="477.0" x2="456.1" y2="534.6" stroke="#eff0f3" stroke-width="0.6"/>
<line x1="464.7" y1="477.0" x2="464.7" y2="534.6" stroke="#eff0f3" stroke-width="0.6"/>
<line x1="473.4" y1="477.0" x2="473.4" y2="534.6" stroke="#eff0f3" stroke-width="0.6"/>
<line x1="482.0" y1="477.0" x2="482.0" y2="534.6" stroke="#eff0f3" stroke-width="0.6"/>
<line x1="490.6" y1="477.0" x2="490.6" y2="534.6" stroke="#eff0f3" stroke-width="0.6"/>
<line x1="499.3" y1="477.0" x2="499.3" y2="534.6" stroke="#eff0f3" stroke-width="0.6"/>
<line x1="507.9" y1="477.0" x2="507.9" y2="534.6" stroke="#eff0f3" stroke-width="0.6"/>
<line x1="516.5" y1="477.0" x2="516.5" y2="534.6" stroke="#eff0f3" stroke-width="0.6"/>
<line x1="318.6" y1="508.7" x2="516.5" y2="508.7" stroke="#eef0e0" stroke-width="0.6"/>
<line x1="318.6" y1="474.0" x2="318.6" y2="535.2" stroke="#222" stroke-width="1.2"/>
<line x1="318.0" y1="534.6" x2="520.0" y2="534.6" stroke="#222" stroke-width="1.2"/>
<line x1="316.2" y1="478.0" x2="318.6" y2="478.0" stroke="#222" stroke-width="0.8"/>
<text x="313.3" y="479.4" font-family="'Liberation Sans', sans-serif" font-size="4" fill="#222" text-anchor="end">3</text>
<line x1="316.2" y1="482.7" x2="318.6" y2="482.7" stroke="#222" stroke-width="0.8"/>
<text x="313.3" y="484.1" font-family="'Liberation Sans', sans-serif" font-size="4" fill="#222" text-anchor="end">2</text>
<line x1="316.2" y1="487.4" x2="318.6" y2="487.4" stroke="#222" stroke-width="0.8"/>
<text x="313.3" y="488.8" font-family="'Liberation Sans', sans-serif" font-size="4" fill="#222" text-anchor="end">1</text>
<line x1="316.2" y1="492.1" x2="318.6" y2="492.1" stroke="#222" stroke-width="0.8"/>
<text x="313.3" y="493.5" font-family="'Liberation Sans', sans-serif" font-size="4" fill="#222" text-anchor="end">0</text>
<line x1="316.2" y1="496.9" x2="318.6" y2="496.9" stroke="#222" stroke-width="0.8"/>
<text x="313.3" y="498.3" font-family="'Liberation Sans', sans-serif" font-size="4" fill="#222" text-anchor="end">-1</text>
<line x1="316.2" y1="501.6" x2="318.6" y2="501.6" stroke="#222" stroke-width="0.8"/>
<text x="313.3" y="503.0" font-family="'Liberation Sans', sans-serif" font-size="4" fill="#222" text-anchor="end">-2</text>
<line x1="316.2" y1="506.3" x2="318.6" y2="506.3" stroke="#222" stroke-width="0.8"/>
<text x="313.3" y="507.7" font-family="'Liberation Sans', sans-serif" font-size="4" fill="#222" text-anchor="end">-3</text>
<line x1="316.2" y1="511.0" x2="318.6" y2="511.0" stroke="#222" stroke-width="0.8"/>
<text x="313.3" y="512.4" font-family="'Liberation Sans', sans-serif" font-size="4" fill="#222" text-anchor="end">1</text>
<line x1="316.2" y1="515.7" x2="318.6" y2="515.7" stroke="#222" stroke-width="0.8"/>
<text x="313.3" y="517.1" font-family="'Liberation Sans', sans-serif" font-size="4" fill="#222" text-anchor="end">.8</text>
<line x1="316.2" y1="520.5" x2="318.6" y2="520.5" stroke="#222" stroke-width="0.8"/>
<text x="313.3" y="521.9" font-family="'Liberation Sans', sans-serif" font-size="4" fill="#222" text-anchor="end">.6</text>
<line x1="316.2" y1="525.2" x2="318.6" y2="525.2" stroke="#222" stroke-width="0.8"/>
<text x="313.3" y="526.6" font-family="'Liberation Sans', sans-serif" font-size="4" fill="#222" text-anchor="end">.4</text>
<line x1="316.2" y1="529.9" x2="318.6" y2="529.9" stroke="#222" stroke-width="0.8"/>
<text x="313.3" y="531.3" font-family="'Liberation Sans', sans-serif" font-size="4" fill="#222" text-anchor="end">.2</text>
<line x1="316.2" y1="534.6" x2="318.6" y2="534.6" stroke="#222" stroke-width="0.8"/>
<text x="313.3" y="536.0" font-family="'Liberation Sans', sans-serif" font-size="4" fill="#222" text-anchor="end">0</text>
<line x1="322.4" y1="534.6" x2="322.4" y2="537.2" stroke="#222" stroke-width="0.8"/>
<text transform="translate(322.4,545.2) scale(0.86,1)" font-family="'Liberation Sans', sans-serif" font-size="7.3" fill="#333" text-anchor="middle">1</text>
<line x1="331.0" y1="534.6" x2="331.0" y2="537.2" stroke="#222" stroke-width="0.8"/>
<text transform="translate(331.0,545.2) scale(0.86,1)" font-family="'Liberation Sans', sans-serif" font-size="7.3" fill="#333" text-anchor="middle">2</text>
<line x1="339.7" y1="534.6" x2="339.7" y2="537.2" stroke="#222" stroke-width="0.8"/>
<text transform="translate(339.7,545.2) scale(0.86,1)" font-family="'Liberation Sans', sans-serif" font-size="7.3" fill="#333" text-anchor="middle">3</text>
<line x1="348.3" y1="534.6" x2="348.3" y2="537.2" stroke="#222" stroke-width="0.8"/>
<text transform="translate(348.3,545.2) scale(0.86,1)" font-family="'Liberation Sans', sans-serif" font-size="7.3" fill="#333" text-anchor="middle">4</text>
<line x1="356.9" y1="534.6" x2="356.9" y2="537.2" stroke="#222" stroke-width="0.8"/>
<text transform="translate(356.9,545.2) scale(0.86,1)" font-family="'Liberation Sans', sans-serif" font-size="7.3" fill="#333" text-anchor="middle">5</text>
<line x1="365.5" y1="534.6" x2="365.5" y2="537.2" stroke="#222" stroke-width="0.8"/>
<text transform="translate(365.5,545.2) scale(0.86,1)" font-family="'Liberation Sans', sans-serif" font-size="7.3" fill="#333" text-anchor="middle">6</text>
<line x1="374.2" y1="534.6" x2="374.2" y2="537.2" stroke="#222" stroke-width="0.8"/>
<text transform="translate(374.2,545.2) scale(0.86,1)" font-family="'Liberation Sans', sans-serif" font-size="7.3" fill="#333" text-anchor="middle">7</text>
<line x1="382.8" y1="534.6" x2="382.8" y2="537.2" stroke="#222" stroke-width="0.8"/>
<text transform="translate(382.8,545.2) scale(0.86,1)" font-family="'Liberation Sans', sans-serif" font-size="7.3" fill="#333" text-anchor="middle">8</text>
<line x1="391.4" y1="534.6" x2="391.4" y2="537.2" stroke="#222" stroke-width="0.8"/>
<text transform="translate(391.4,545.2) scale(0.86,1)" font-family="'Liberation Sans', sans-serif" font-size="7.3" fill="#333" text-anchor="middle">9</text>
<line x1="400.0" y1="534.6" x2="400.0" y2="537.2" stroke="#222" stroke-width="0.8"/>
<text transform="translate(400.0,545.2) scale(0.86,1)" font-family="'Liberation Sans', sans-serif" font-size="7.3" fill="#333" text-anchor="middle">10</text>
<line x1="408.7" y1="534.6" x2="408.7" y2="537.2" stroke="#222" stroke-width="0.8"/>
<text transform="translate(408.7,545.2) scale(0.86,1)" font-family="'Liberation Sans', sans-serif" font-size="7.3" fill="#333" text-anchor="middle">11</text>
<line x1="417.3" y1="534.6" x2="417.3" y2="537.2" stroke="#222" stroke-width="0.8"/>
<text transform="translate(417.3,545.2) scale(0.86,1)" font-family="'Liberation Sans', sans-serif" font-size="7.3" fill="#333" text-anchor="middle">12</text>
<line x1="425.9" y1="534.6" x2="425.9" y2="537.2" stroke="#222" stroke-width="0.8"/>
<text transform="translate(425.9,545.2) scale(0.86,1)" font-family="'Liberation Sans', sans-serif" font-size="7.3" fill="#333" text-anchor="middle">13</text>
<line x1="434.6" y1="534.6" x2="434.6" y2="537.2" stroke="#222" stroke-width="0.8"/>
<text transform="translate(434.6,545.2) scale(0.86,1)" font-family="'Liberation Sans', sans-serif" font-size="7.3" fill="#333" text-anchor="middle">14</text>
<line x1="443.2" y1="534.6" x2="443.2" y2="537.2" stroke="#222" stroke-width="0.8"/>
<text transform="translate(443.2,545.2) scale(0.86,1)" font-family="'Liberation Sans', sans-serif" font-size="7.3" fill="#333" text-anchor="middle">15</text>
<line x1="451.8" y1="534.6" x2="451.8" y2="537.2" stroke="#222" stroke-width="0.8"/>
<text transform="translate(451.8,545.2) scale(0.86,1)" font-family="'Liberation Sans', sans-serif" font-size="7.3" fill="#333" text-anchor="middle">16</text>
<line x1="460.4" y1="534.6" x2="460.4" y2="537.2" stroke="#222" stroke-width="0.8"/>
<text transform="translate(460.4,545.2) scale(0.86,1)" font-family="'Liberation Sans', sans-serif" font-size="7.3" fill="#333" text-anchor="middle">17</text>
<line x1="469.1" y1="534.6" x2="469.1" y2="537.2" stroke="#222" stroke-width="0.8"/>
<text transform="translate(469.1,545.2) scale(0.86,1)" font-family="'Liberation Sans', sans-serif" font-size="7.3" fill="#333" text-anchor="middle">18</text>
<line x1="477.7" y1="534.6" x2="477.7" y2="537.2" stroke="#222" stroke-width="0.8"/>
<text transform="translate(477.7,545.2) scale(0.86,1)" font-family="'Liberation Sans', sans-serif" font-size="7.3" fill="#333" text-anchor="middle">19</text>
<line x1="486.3" y1="534.6" x2="486.3" y2="537.2" stroke="#222" stroke-width="0.8"/>
<text transform="translate(486.3,545.2) scale(0.86,1)" font-family="'Liberation Sans', sans-serif" font-size="7.3" fill="#333" text-anchor="middle">20</text>
<line x1="494.9" y1="534.6" x2="494.9" y2="537.2" stroke="#222" stroke-width="0.8"/>
<text transform="translate(494.9,545.2) scale(0.86,1)" font-family="'Liberation Sans', sans-serif" font-size="7.3" fill="#333" text-anchor="middle">21</text>
<line x1="503.6" y1="534.6" x2="503.6" y2="537.2" stroke="#222" stroke-width="0.8"/>
<text transform="translate(503.6,545.2) scale(0.86,1)" font-family="'Liberation Sans', sans-serif" font-size="7.3" fill="#333" text-anchor="middle">22</text>
<line x1="512.2" y1="534.6" x2="512.2" y2="537.2" stroke="#222" stroke-width="0.8"/>
<text transform="translate(512.2,545.2) scale(0.86,1)" font-family="'Liberation Sans', sans-serif" font-size="7.3" fill="#333" text-anchor="middle">X</text>
<text transform="translate(305.1,492.2) rotate(-90) scale(0.66,1)" font-family="'Liberation Sans', sans-serif" font-size="8.8" font-weight="bold" fill="#222" text-anchor="middle">Copy number</text>
<text transform="translate(305.1,525.3) rotate(-90) scale(0.72,1)" font-family="'Liberation Sans', sans-serif" font-size="8.8" font-weight="bold" fill="#222" text-anchor="middle">VAF</text>
<rect x="318.1" y="491.0" width="8.6" height="4.4" fill="#b0bef2" opacity="0.8"/>
<rect x="318.1" y="492.1" width="8.6" height="2.2" fill="#3b52c2"/>
<rect x="318.3" y="491.9" width="1.1" height="2.6" fill="#22329a" opacity="0.85"/>
<rect x="321.1" y="491.9" width="1.3" height="2.6" fill="#22329a" opacity="0.85"/>
<rect x="324.3" y="491.9" width="1.5" height="2.6" fill="#22329a" opacity="0.85"/>
<rect x="317.8" y="520.6" width="9.2" height="1.4" fill="#9ca0ba"/>
<rect x="326.7" y="491.0" width="8.6" height="4.4" fill="#b0bef2" opacity="0.8"/>
<rect x="326.7" y="492.1" width="8.6" height="2.2" fill="#3b52c2"/>
<rect x="326.8" y="491.9" width="1.5" height="2.6" fill="#22329a" opacity="0.85"/>
<rect x="329.5" y="491.9" width="1.3" height="2.6" fill="#22329a" opacity="0.85"/>
<rect x="332.1" y="491.9" width="1.4" height="2.6" fill="#22329a" opacity="0.85"/>
<rect x="326.4" y="520.6" width="9.2" height="1.4" fill="#9ca0ba"/>
<rect x="335.3" y="491.0" width="8.6" height="4.4" fill="#b0bef2" opacity="0.8"/>
<rect x="335.3" y="492.1" width="8.6" height="2.2" fill="#3b52c2"/>
<rect x="335.6" y="491.9" width="1.0" height="2.6" fill="#22329a" opacity="0.85"/>
<rect x="337.6" y="491.9" width="1.5" height="2.6" fill="#22329a" opacity="0.85"/>
<rect x="340.7" y="491.9" width="1.1" height="2.6" fill="#22329a" opacity="0.85"/>
<rect x="343.1" y="491.9" width="1.6" height="2.6" fill="#22329a" opacity="0.85"/>
<rect x="335.0" y="520.6" width="9.2" height="1.4" fill="#9ca0ba"/>
<rect x="344.0" y="491.0" width="8.6" height="4.4" fill="#b0bef2" opacity="0.8"/>
<rect x="344.0" y="492.1" width="8.6" height="2.2" fill="#3b52c2"/>
<rect x="344.2" y="491.9" width="1.4" height="2.6" fill="#22329a" opacity="0.85"/>
<rect x="347.4" y="491.9" width="1.6" height="2.6" fill="#22329a" opacity="0.85"/>
<rect x="349.9" y="491.9" width="1.2" height="2.6" fill="#22329a" opacity="0.85"/>
<rect x="343.7" y="520.6" width="9.2" height="1.4" fill="#9ca0ba"/>
<rect x="352.6" y="491.0" width="8.6" height="4.4" fill="#b0bef2" opacity="0.8"/>
<rect x="352.6" y="492.1" width="8.6" height="2.2" fill="#3b52c2"/>
<rect x="353.4" y="491.9" width="1.5" height="2.6" fill="#22329a" opacity="0.85"/>
<rect x="355.8" y="491.9" width="1.0" height="2.6" fill="#22329a" opacity="0.85"/>
<rect x="357.8" y="491.9" width="1.0" height="2.6" fill="#22329a" opacity="0.85"/>
<rect x="352.3" y="520.6" width="9.2" height="1.4" fill="#9ca0ba"/>
<rect x="361.2" y="491.0" width="8.6" height="4.4" fill="#b0bef2" opacity="0.8"/>
<rect x="361.2" y="492.1" width="8.6" height="2.2" fill="#3b52c2"/>
<rect x="361.8" y="491.9" width="1.5" height="2.6" fill="#22329a" opacity="0.85"/>
<rect x="364.7" y="491.9" width="1.5" height="2.6" fill="#22329a" opacity="0.85"/>
<rect x="367.6" y="491.9" width="1.0" height="2.6" fill="#22329a" opacity="0.85"/>
<rect x="360.9" y="520.6" width="9.2" height="1.4" fill="#9ca0ba"/>
<rect x="369.9" y="491.0" width="8.6" height="4.4" fill="#b0bef2" opacity="0.8"/>
<rect x="369.9" y="492.1" width="8.6" height="2.2" fill="#3b52c2"/>
<rect x="370.8" y="491.9" width="0.9" height="2.6" fill="#22329a" opacity="0.85"/>
<rect x="373.3" y="491.9" width="1.3" height="2.6" fill="#22329a" opacity="0.85"/>
<rect x="375.7" y="491.9" width="1.1" height="2.6" fill="#22329a" opacity="0.85"/>
<rect x="369.6" y="520.6" width="9.2" height="1.4" fill="#9ca0ba"/>
<rect x="378.5" y="491.0" width="8.6" height="4.4" fill="#b0bef2" opacity="0.8"/>
<rect x="378.5" y="492.1" width="8.6" height="2.2" fill="#3b52c2"/>
<rect x="378.7" y="491.9" width="1.0" height="2.6" fill="#22329a" opacity="0.85"/>
<rect x="381.3" y="491.9" width="1.3" height="2.6" fill="#22329a" opacity="0.85"/>
<rect x="383.7" y="491.9" width="0.8" height="2.6" fill="#22329a" opacity="0.85"/>
<rect x="385.8" y="491.9" width="1.3" height="2.6" fill="#22329a" opacity="0.85"/>
<rect x="378.2" y="520.6" width="9.2" height="1.4" fill="#9ca0ba"/>
<rect x="387.1" y="491.0" width="2.4" height="4.4" fill="#b0bef2" opacity="0.8"/>
<rect x="387.1" y="492.1" width="2.4" height="2.2" fill="#3b52c2"/>
<rect x="387.4" y="491.9" width="1.0" height="2.6" fill="#22329a" opacity="0.85"/>
<rect x="386.8" y="520.6" width="3.0" height="1.4" fill="#9ca0ba"/>
<rect x="391.0" y="491.0" width="4.7" height="4.4" fill="#b0bef2" opacity="0.8"/>
<rect x="391.0" y="492.1" width="4.7" height="2.2" fill="#3b52c2"/>
<rect x="391.5" y="491.9" width="0.9" height="2.6" fill="#22329a" opacity="0.85"/>
<rect x="393.3" y="491.9" width="1.1" height="2.6" fill="#22329a" opacity="0.85"/>
<rect x="390.7" y="520.6" width="5.3" height="1.4" fill="#9ca0ba"/>
<rect x="395.7" y="491.0" width="8.6" height="4.4" fill="#b0bef2" opacity="0.8"/>
<rect x="395.7" y="492.1" width="8.6" height="2.2" fill="#3b52c2"/>
<rect x="396.4" y="491.9" width="0.9" height="2.6" fill="#22329a" opacity="0.85"/>
<rect x="398.3" y="491.9" width="1.4" height="2.6" fill="#22329a" opacity="0.85"/>
<rect x="401.0" y="491.9" width="1.0" height="2.6" fill="#22329a" opacity="0.85"/>
<rect x="403.3" y="491.9" width="1.6" height="2.6" fill="#22329a" opacity="0.85"/>
<rect x="395.4" y="520.6" width="9.2" height="1.4" fill="#9ca0ba"/>
<rect x="404.4" y="491.0" width="8.6" height="4.4" fill="#b0bef2" opacity="0.8"/>
<rect x="404.4" y="492.1" width="8.6" height="2.2" fill="#3b52c2"/>
<rect x="404.9" y="491.9" width="1.1" height="2.6" fill="#22329a" opacity="0.85"/>
<rect x="407.4" y="491.9" width="1.5" height="2.6" fill="#22329a" opacity="0.85"/>
<rect x="411.1" y="491.9" width="1.1" height="2.6" fill="#22329a" opacity="0.85"/>
<rect x="404.1" y="520.6" width="9.2" height="1.4" fill="#9ca0ba"/>
<rect x="413.0" y="491.0" width="8.6" height="4.4" fill="#b0bef2" opacity="0.8"/>
<rect x="413.0" y="492.1" width="8.6" height="2.2" fill="#3b52c2"/>
<rect x="413.7" y="491.9" width="1.0" height="2.6" fill="#22329a" opacity="0.85"/>
<rect x="415.5" y="491.9" width="1.5" height="2.6" fill="#22329a" opacity="0.85"/>
<rect x="418.4" y="491.9" width="1.5" height="2.6" fill="#22329a" opacity="0.85"/>
<rect x="412.7" y="520.6" width="9.2" height="1.4" fill="#9ca0ba"/>
<rect x="423.5" y="491.0" width="6.7" height="4.4" fill="#b0bef2" opacity="0.8"/>
<rect x="423.5" y="492.1" width="6.7" height="2.2" fill="#3b52c2"/>
<rect x="424.4" y="491.9" width="1.2" height="2.6" fill="#22329a" opacity="0.85"/>
<rect x="426.6" y="491.9" width="0.8" height="2.6" fill="#22329a" opacity="0.85"/>
<rect x="429.0" y="491.9" width="1.3" height="2.6" fill="#22329a" opacity="0.85"/>
<rect x="423.2" y="520.6" width="7.3" height="1.4" fill="#9ca0ba"/>
<rect x="432.1" y="491.0" width="6.7" height="4.4" fill="#b0bef2" opacity="0.8"/>
<rect x="432.1" y="492.1" width="6.7" height="2.2" fill="#3b52c2"/>
<rect x="432.2" y="491.9" width="1.3" height="2.6" fill="#22329a" opacity="0.85"/>
<rect x="434.8" y="491.9" width="1.2" height="2.6" fill="#22329a" opacity="0.85"/>
<rect x="437.1" y="491.9" width="1.0" height="2.6" fill="#22329a" opacity="0.85"/>
<rect x="431.8" y="520.6" width="7.3" height="1.4" fill="#9ca0ba"/>
<rect x="440.8" y="491.0" width="6.7" height="4.4" fill="#b0bef2" opacity="0.8"/>
<rect x="440.8" y="492.1" width="6.7" height="2.2" fill="#3b52c2"/>
<rect x="441.7" y="491.9" width="0.9" height="2.6" fill="#22329a" opacity="0.85"/>
<rect x="444.1" y="491.9" width="1.4" height="2.6" fill="#22329a" opacity="0.85"/>
<rect x="440.5" y="520.6" width="7.3" height="1.4" fill="#9ca0ba"/>
<rect x="447.5" y="491.0" width="8.6" height="4.4" fill="#b0bef2" opacity="0.8"/>
<rect x="447.5" y="492.1" width="8.6" height="2.2" fill="#3b52c2"/>
<rect x="447.7" y="491.9" width="0.9" height="2.6" fill="#22329a" opacity="0.85"/>
<rect x="450.7" y="491.9" width="1.6" height="2.6" fill="#22329a" opacity="0.85"/>
<rect x="453.8" y="491.9" width="0.8" height="2.6" fill="#22329a" opacity="0.85"/>
<rect x="447.2" y="520.6" width="9.2" height="1.4" fill="#9ca0ba"/>
<rect x="456.1" y="491.0" width="8.6" height="4.4" fill="#b0bef2" opacity="0.8"/>
<rect x="456.1" y="492.1" width="8.6" height="2.2" fill="#3b52c2"/>
<rect x="456.5" y="491.9" width="1.5" height="2.6" fill="#22329a" opacity="0.85"/>
<rect x="459.7" y="491.9" width="1.5" height="2.6" fill="#22329a" opacity="0.85"/>
<rect x="462.2" y="491.9" width="1.4" height="2.6" fill="#22329a" opacity="0.85"/>
<rect x="455.8" y="520.6" width="9.2" height="1.4" fill="#9ca0ba"/>
<rect x="464.7" y="491.0" width="8.6" height="4.4" fill="#b0bef2" opacity="0.8"/>
<rect x="464.7" y="492.1" width="8.6" height="2.2" fill="#3b52c2"/>
<rect x="465.2" y="491.9" width="1.5" height="2.6" fill="#22329a" opacity="0.85"/>
<rect x="468.6" y="491.9" width="0.9" height="2.6" fill="#22329a" opacity="0.85"/>
<rect x="470.6" y="491.9" width="1.1" height="2.6" fill="#22329a" opacity="0.85"/>
<rect x="464.4" y="520.6" width="9.2" height="1.4" fill="#9ca0ba"/>
<rect x="473.4" y="491.0" width="8.6" height="4.4" fill="#b0bef2" opacity="0.8"/>
<rect x="473.4" y="492.1" width="8.6" height="2.2" fill="#3b52c2"/>
<rect x="473.8" y="491.9" width="0.9" height="2.6" fill="#22329a" opacity="0.85"/>
<rect x="475.8" y="491.9" width="1.4" height="2.6" fill="#22329a" opacity="0.85"/>
<rect x="479.2" y="491.9" width="0.8" height="2.6" fill="#22329a" opacity="0.85"/>
<rect x="473.1" y="520.6" width="9.2" height="1.4" fill="#9ca0ba"/>
<rect x="482.0" y="491.0" width="8.6" height="4.4" fill="#b0bef2" opacity="0.8"/>
<rect x="482.0" y="492.1" width="8.6" height="2.2" fill="#3b52c2"/>
<rect x="482.8" y="491.9" width="0.8" height="2.6" fill="#22329a" opacity="0.85"/>
<rect x="485.6" y="491.9" width="0.9" height="2.6" fill="#22329a" opacity="0.85"/>
<rect x="488.1" y="491.9" width="1.2" height="2.6" fill="#22329a" opacity="0.85"/>
<rect x="481.7" y="520.6" width="9.2" height="1.4" fill="#9ca0ba"/>
<rect x="493.2" y="491.0" width="6.0" height="4.4" fill="#b0bef2" opacity="0.8"/>
<rect x="493.2" y="492.1" width="6.0" height="2.2" fill="#3b52c2"/>
<rect x="493.5" y="491.9" width="1.1" height="2.6" fill="#22329a" opacity="0.85"/>
<rect x="496.3" y="491.9" width="1.1" height="2.6" fill="#22329a" opacity="0.85"/>
<rect x="492.9" y="520.6" width="6.6" height="1.4" fill="#9ca0ba"/>
<rect x="501.4" y="491.0" width="6.5" height="4.4" fill="#b0bef2" opacity="0.8"/>
<rect x="501.4" y="492.1" width="6.5" height="2.2" fill="#3b52c2"/>
<rect x="501.9" y="491.9" width="1.2" height="2.6" fill="#22329a" opacity="0.85"/>
<rect x="503.8" y="491.9" width="1.3" height="2.6" fill="#22329a" opacity="0.85"/>
<rect x="506.6" y="491.9" width="1.0" height="2.6" fill="#22329a" opacity="0.85"/>
<rect x="501.1" y="520.6" width="7.1" height="1.4" fill="#9ca0ba"/>
<rect x="507.9" y="491.0" width="8.6" height="4.4" fill="#b0bef2" opacity="0.8"/>
<rect x="507.9" y="492.1" width="8.6" height="2.2" fill="#3b52c2"/>
<rect x="508.7" y="491.9" width="1.2" height="2.6" fill="#22329a" opacity="0.85"/>
<rect x="510.9" y="491.9" width="1.2" height="2.6" fill="#22329a" opacity="0.85"/>
<rect x="513.0" y="491.9" width="0.9" height="2.6" fill="#22329a" opacity="0.85"/>
<rect x="515.3" y="491.9" width="0.9" height="2.6" fill="#22329a" opacity="0.85"/>
<rect x="507.6" y="520.6" width="9.2" height="1.4" fill="#9ca0ba"/>
<rect x="354.3" y="520.5" width="9.5" height="1.6" fill="#4a56a2"/>
<rect x="432.0" y="520.5" width="6.0" height="1.6" fill="#4a56a2"/>
<rect x="476.0" y="520.5" width="8.6" height="1.6" fill="#4a56a2"/>
<rect x="501.8" y="520.5" width="13.8" height="1.6" fill="#4a56a2"/>
<text x="27.3" y="591.5" font-family="'Liberation Sans', sans-serif" font-size="9.2" fill="#222" text-anchor="middle">Relapse</text>
<line x1="78.8" y1="559.8" x2="78.8" y2="617.4" stroke="#eff0f3" stroke-width="0.6"/>
<line x1="87.4" y1="559.8" x2="87.4" y2="617.4" stroke="#eff0f3" stroke-width="0.6"/>
<line x1="96.1" y1="559.8" x2="96.1" y2="617.4" stroke="#eff0f3" stroke-width="0.6"/>
<line x1="104.7" y1="559.8" x2="104.7" y2="617.4" stroke="#eff0f3" stroke-width="0.6"/>
<line x1="113.3" y1="559.8" x2="113.3" y2="617.4" stroke="#eff0f3" stroke-width="0.6"/>
<line x1="122.0" y1="559.8" x2="122.0" y2="617.4" stroke="#eff0f3" stroke-width="0.6"/>
<line x1="130.6" y1="559.8" x2="130.6" y2="617.4" stroke="#eff0f3" stroke-width="0.6"/>
<line x1="139.2" y1="559.8" x2="139.2" y2="617.4" stroke="#eff0f3" stroke-width="0.6"/>
<line x1="147.8" y1="559.8" x2="147.8" y2="617.4" stroke="#eff0f3" stroke-width="0.6"/>
<line x1="156.5" y1="559.8" x2="156.5" y2="617.4" stroke="#eff0f3" stroke-width="0.6"/>
<line x1="165.1" y1="559.8" x2="165.1" y2="617.4" stroke="#eff0f3" stroke-width="0.6"/>
<line x1="173.7" y1="559.8" x2="173.7" y2="617.4" stroke="#eff0f3" stroke-width="0.6"/>
<line x1="182.3" y1="559.8" x2="182.3" y2="617.4" stroke="#eff0f3" stroke-width="0.6"/>
<line x1="191.0" y1="559.8" x2="191.0" y2="617.4" stroke="#eff0f3" stroke-width="0.6"/>
<line x1="199.6" y1="559.8" x2="199.6" y2="617.4" stroke="#eff0f3" stroke-width="0.6"/>
<line x1="208.2" y1="559.8" x2="208.2" y2="617.4" stroke="#eff0f3" stroke-width="0.6"/>
<line x1="216.8" y1="559.8" x2="216.8" y2="617.4" stroke="#eff0f3" stroke-width="0.6"/>
<line x1="225.5" y1="559.8" x2="225.5" y2="617.4" stroke="#eff0f3" stroke-width="0.6"/>
<line x1="234.1" y1="559.8" x2="234.1" y2="617.4" stroke="#eff0f3" stroke-width="0.6"/>
<line x1="242.7" y1="559.8" x2="242.7" y2="617.4" stroke="#eff0f3" stroke-width="0.6"/>
<line x1="251.4" y1="559.8" x2="251.4" y2="617.4" stroke="#eff0f3" stroke-width="0.6"/>
<line x1="260.0" y1="559.8" x2="260.0" y2="617.4" stroke="#eff0f3" stroke-width="0.6"/>
<line x1="268.6" y1="559.8" x2="268.6" y2="617.4" stroke="#eff0f3" stroke-width="0.6"/>
<line x1="70.7" y1="591.5" x2="269.0" y2="591.5" stroke="#eef0e0" stroke-width="0.6"/>
<line x1="70.7" y1="556.8" x2="70.7" y2="618.0" stroke="#222" stroke-width="1.2"/>
<line x1="70.1" y1="617.4" x2="271.7" y2="617.4" stroke="#222" stroke-width="1.2"/>
<line x1="68.3" y1="560.8" x2="70.7" y2="560.8" stroke="#222" stroke-width="0.8"/>
<text x="65.4" y="562.2" font-family="'Liberation Sans', sans-serif" font-size="4" fill="#222" text-anchor="end">3</text>
<line x1="68.3" y1="565.5" x2="70.7" y2="565.5" stroke="#222" stroke-width="0.8"/>
<text x="65.4" y="566.9" font-family="'Liberation Sans', sans-serif" font-size="4" fill="#222" text-anchor="end">2</text>
<line x1="68.3" y1="570.2" x2="70.7" y2="570.2" stroke="#222" stroke-width="0.8"/>
<text x="65.4" y="571.6" font-family="'Liberation Sans', sans-serif" font-size="4" fill="#222" text-anchor="end">1</text>
<line x1="68.3" y1="574.9" x2="70.7" y2="574.9" stroke="#222" stroke-width="0.8"/>
<text x="65.4" y="576.3" font-family="'Liberation Sans', sans-serif" font-size="4" fill="#222" text-anchor="end">0</text>
<line x1="68.3" y1="579.7" x2="70.7" y2="579.7" stroke="#222" stroke-width="0.8"/>
<text x="65.4" y="581.1" font-family="'Liberation Sans', sans-serif" font-size="4" fill="#222" text-anchor="end">-1</text>
<line x1="68.3" y1="584.4" x2="70.7" y2="584.4" stroke="#222" stroke-width="0.8"/>
<text x="65.4" y="585.8" font-family="'Liberation Sans', sans-serif" font-size="4" fill="#222" text-anchor="end">-2</text>
<line x1="68.3" y1="589.1" x2="70.7" y2="589.1" stroke="#222" stroke-width="0.8"/>
<text x="65.4" y="590.5" font-family="'Liberation Sans', sans-serif" font-size="4" fill="#222" text-anchor="end">-3</text>
<line x1="68.3" y1="593.8" x2="70.7" y2="593.8" stroke="#222" stroke-width="0.8"/>
<text x="65.4" y="595.2" font-family="'Liberation Sans', sans-serif" font-size="4" fill="#222" text-anchor="end">1</text>
<line x1="68.3" y1="598.5" x2="70.7" y2="598.5" stroke="#222" stroke-width="0.8"/>
<text x="65.4" y="599.9" font-family="'Liberation Sans', sans-serif" font-size="4" fill="#222" text-anchor="end">.8</text>
<line x1="68.3" y1="603.2" x2="70.7" y2="603.2" stroke="#222" stroke-width="0.8"/>
<text x="65.4" y="604.6" font-family="'Liberation Sans', sans-serif" font-size="4" fill="#222" text-anchor="end">.6</text>
<line x1="68.3" y1="608.0" x2="70.7" y2="608.0" stroke="#222" stroke-width="0.8"/>
<text x="65.4" y="609.4" font-family="'Liberation Sans', sans-serif" font-size="4" fill="#222" text-anchor="end">.4</text>
<line x1="68.3" y1="612.7" x2="70.7" y2="612.7" stroke="#222" stroke-width="0.8"/>
<text x="65.4" y="614.1" font-family="'Liberation Sans', sans-serif" font-size="4" fill="#222" text-anchor="end">.2</text>
<line x1="68.3" y1="617.4" x2="70.7" y2="617.4" stroke="#222" stroke-width="0.8"/>
<text x="65.4" y="618.8" font-family="'Liberation Sans', sans-serif" font-size="4" fill="#222" text-anchor="end">0</text>
<line x1="74.5" y1="617.4" x2="74.5" y2="620.0" stroke="#222" stroke-width="0.8"/>
<text transform="translate(74.5,628.0) scale(0.86,1)" font-family="'Liberation Sans', sans-serif" font-size="7.3" fill="#333" text-anchor="middle">1</text>
<line x1="83.1" y1="617.4" x2="83.1" y2="620.0" stroke="#222" stroke-width="0.8"/>
<text transform="translate(83.1,628.0) scale(0.86,1)" font-family="'Liberation Sans', sans-serif" font-size="7.3" fill="#333" text-anchor="middle">2</text>
<line x1="91.8" y1="617.4" x2="91.8" y2="620.0" stroke="#222" stroke-width="0.8"/>
<text transform="translate(91.8,628.0) scale(0.86,1)" font-family="'Liberation Sans', sans-serif" font-size="7.3" fill="#333" text-anchor="middle">3</text>
<line x1="100.4" y1="617.4" x2="100.4" y2="620.0" stroke="#222" stroke-width="0.8"/>
<text transform="translate(100.4,628.0) scale(0.86,1)" font-family="'Liberation Sans', sans-serif" font-size="7.3" fill="#333" text-anchor="middle">4</text>
<line x1="109.0" y1="617.4" x2="109.0" y2="620.0" stroke="#222" stroke-width="0.8"/>
<text transform="translate(109.0,628.0) scale(0.86,1)" font-family="'Liberation Sans', sans-serif" font-size="7.3" fill="#333" text-anchor="middle">5</text>
<line x1="117.6" y1="617.4" x2="117.6" y2="620.0" stroke="#222" stroke-width="0.8"/>
<text transform="translate(117.6,628.0) scale(0.86,1)" font-family="'Liberation Sans', sans-serif" font-size="7.3" fill="#333" text-anchor="middle">6</text>
<line x1="126.3" y1="617.4" x2="126.3" y2="620.0" stroke="#222" stroke-width="0.8"/>
<text transform="translate(126.3,628.0) scale(0.86,1)" font-family="'Liberation Sans', sans-serif" font-size="7.3" fill="#333" text-anchor="middle">7</text>
<line x1="134.9" y1="617.4" x2="134.9" y2="620.0" stroke="#222" stroke-width="0.8"/>
<text transform="translate(134.9,628.0) scale(0.86,1)" font-family="'Liberation Sans', sans-serif" font-size="7.3" fill="#333" text-anchor="middle">8</text>
<line x1="143.5" y1="617.4" x2="143.5" y2="620.0" stroke="#222" stroke-width="0.8"/>
<text transform="translate(143.5,628.0) scale(0.86,1)" font-family="'Liberation Sans', sans-serif" font-size="7.3" fill="#333" text-anchor="middle">9</text>
<line x1="152.1" y1="617.4" x2="152.1" y2="620.0" stroke="#222" stroke-width="0.8"/>
<text transform="translate(152.1,628.0) scale(0.86,1)" font-family="'Liberation Sans', sans-serif" font-size="7.3" fill="#333" text-anchor="middle">10</text>
<line x1="160.8" y1="617.4" x2="160.8" y2="620.0" stroke="#222" stroke-width="0.8"/>
<text transform="translate(160.8,628.0) scale(0.86,1)" font-family="'Liberation Sans', sans-serif" font-size="7.3" fill="#333" text-anchor="middle">11</text>
<line x1="169.4" y1="617.4" x2="169.4" y2="620.0" stroke="#222" stroke-width="0.8"/>
<text transform="translate(169.4,628.0) scale(0.86,1)" font-family="'Liberation Sans', sans-serif" font-size="7.3" fill="#333" text-anchor="middle">12</text>
<line x1="178.0" y1="617.4" x2="178.0" y2="620.0" stroke="#222" stroke-width="0.8"/>
<text transform="translate(178.0,628.0) scale(0.86,1)" font-family="'Liberation Sans', sans-serif" font-size="7.3" fill="#333" text-anchor="middle">13</text>
<line x1="186.7" y1="617.4" x2="186.7" y2="620.0" stroke="#222" stroke-width="0.8"/>
<text transform="translate(186.7,628.0) scale(0.86,1)" font-family="'Liberation Sans', sans-serif" font-size="7.3" fill="#333" text-anchor="middle">14</text>
<line x1="195.3" y1="617.4" x2="195.3" y2="620.0" stroke="#222" stroke-width="0.8"/>
<text transform="translate(195.3,628.0) scale(0.86,1)" font-family="'Liberation Sans', sans-serif" font-size="7.3" fill="#333" text-anchor="middle">15</text>
<line x1="203.9" y1="617.4" x2="203.9" y2="620.0" stroke="#222" stroke-width="0.8"/>
<text transform="translate(203.9,628.0) scale(0.86,1)" font-family="'Liberation Sans', sans-serif" font-size="7.3" fill="#333" text-anchor="middle">16</text>
<line x1="212.5" y1="617.4" x2="212.5" y2="620.0" stroke="#222" stroke-width="0.8"/>
<text transform="translate(212.5,628.0) scale(0.86,1)" font-family="'Liberation Sans', sans-serif" font-size="7.3" fill="#333" text-anchor="middle">17</text>
<line x1="221.2" y1="617.4" x2="221.2" y2="620.0" stroke="#222" stroke-width="0.8"/>
<text transform="translate(221.2,628.0) scale(0.86,1)" font-family="'Liberation Sans', sans-serif" font-size="7.3" fill="#333" text-anchor="middle">18</text>
<line x1="229.8" y1="617.4" x2="229.8" y2="620.0" stroke="#222" stroke-width="0.8"/>
<text transform="translate(229.8,628.0) scale(0.86,1)" font-family="'Liberation Sans', sans-serif" font-size="7.3" fill="#333" text-anchor="middle">19</text>
<line x1="238.4" y1="617.4" x2="238.4" y2="620.0" stroke="#222" stroke-width="0.8"/>
<text transform="translate(238.4,628.0) scale(0.86,1)" font-family="'Liberation Sans', sans-serif" font-size="7.3" fill="#333" text-anchor="middle">20</text>
<line x1="247.0" y1="617.4" x2="247.0" y2="620.0" stroke="#222" stroke-width="0.8"/>
<text transform="translate(247.0,628.0) scale(0.86,1)" font-family="'Liberation Sans', sans-serif" font-size="7.3" fill="#333" text-anchor="middle">21</text>
<line x1="255.7" y1="617.4" x2="255.7" y2="620.0" stroke="#222" stroke-width="0.8"/>
<text transform="translate(255.7,628.0) scale(0.86,1)" font-family="'Liberation Sans', sans-serif" font-size="7.3" fill="#333" text-anchor="middle">22</text>
<line x1="264.3" y1="617.4" x2="264.3" y2="620.0" stroke="#222" stroke-width="0.8"/>
<text transform="translate(264.3,628.0) scale(0.86,1)" font-family="'Liberation Sans', sans-serif" font-size="7.3" fill="#333" text-anchor="middle">X</text>
<text transform="translate(57.2,575.0) rotate(-90) scale(0.66,1)" font-family="'Liberation Sans', sans-serif" font-size="8.8" font-weight="bold" fill="#222" text-anchor="middle">Copy number</text>
<text transform="translate(57.2,608.1) rotate(-90) scale(0.72,1)" font-family="'Liberation Sans', sans-serif" font-size="8.8" font-weight="bold" fill="#222" text-anchor="middle">VAF</text>
<text transform="translate(170.2,640.6) scale(0.68,1)" font-family="'Liberation Sans', sans-serif" font-size="8.8" font-weight="bold" fill="#222" text-anchor="middle">Chromosome</text>
<rect x="70.2" y="572.9" width="8.6" height="4.4" fill="#b0bef2" opacity="0.8"/>
<rect x="70.2" y="574.0" width="8.6" height="2.2" fill="#3b52c2"/>
<rect x="70.7" y="573.8" width="0.8" height="2.6" fill="#22329a" opacity="0.85"/>
<rect x="73.2" y="573.8" width="0.9" height="2.6" fill="#22329a" opacity="0.85"/>
<rect x="75.9" y="573.8" width="1.4" height="2.6" fill="#22329a" opacity="0.85"/>
<rect x="69.9" y="602.7" width="9.2" height="1.4" fill="#9ca0ba"/>
<rect x="78.8" y="572.9" width="8.6" height="4.4" fill="#b0bef2" opacity="0.8"/>
<rect x="78.8" y="574.0" width="8.6" height="2.2" fill="#3b52c2"/>
<rect x="78.9" y="573.8" width="1.2" height="2.6" fill="#22329a" opacity="0.85"/>
<rect x="81.4" y="573.8" width="1.6" height="2.6" fill="#22329a" opacity="0.85"/>
<rect x="84.0" y="573.8" width="1.5" height="2.6" fill="#22329a" opacity="0.85"/>
<rect x="78.5" y="602.7" width="9.2" height="1.4" fill="#9ca0ba"/>
<rect x="87.4" y="572.9" width="8.6" height="4.4" fill="#b0bef2" opacity="0.8"/>
<rect x="87.4" y="574.0" width="8.6" height="2.2" fill="#3b52c2"/>
<rect x="88.2" y="573.8" width="1.5" height="2.6" fill="#22329a" opacity="0.85"/>
<rect x="90.7" y="573.8" width="1.6" height="2.6" fill="#22329a" opacity="0.85"/>
<rect x="93.8" y="573.8" width="1.6" height="2.6" fill="#22329a" opacity="0.85"/>
<rect x="87.1" y="602.7" width="9.2" height="1.4" fill="#9ca0ba"/>
<rect x="96.1" y="572.9" width="8.6" height="4.4" fill="#b0bef2" opacity="0.8"/>
<rect x="96.1" y="574.0" width="8.6" height="2.2" fill="#3b52c2"/>
<rect x="96.2" y="573.8" width="1.4" height="2.6" fill="#22329a" opacity="0.85"/>
<rect x="99.8" y="573.8" width="0.9" height="2.6" fill="#22329a" opacity="0.85"/>
<rect x="101.9" y="573.8" width="1.4" height="2.6" fill="#22329a" opacity="0.85"/>
<rect x="95.8" y="602.7" width="9.2" height="1.4" fill="#9ca0ba"/>
<rect x="104.7" y="572.9" width="8.6" height="4.4" fill="#b0bef2" opacity="0.8"/>
<rect x="104.7" y="574.0" width="8.6" height="2.2" fill="#3b52c2"/>
<rect x="105.6" y="573.8" width="1.0" height="2.6" fill="#22329a" opacity="0.85"/>
<rect x="108.6" y="573.8" width="0.9" height="2.6" fill="#22329a" opacity="0.85"/>
<rect x="111.0" y="573.8" width="1.5" height="2.6" fill="#22329a" opacity="0.85"/>
<rect x="104.4" y="602.7" width="9.2" height="1.4" fill="#9ca0ba"/>
<rect x="113.3" y="572.9" width="8.6" height="4.4" fill="#b0bef2" opacity="0.8"/>
<rect x="113.3" y="574.0" width="8.6" height="2.2" fill="#3b52c2"/>
<rect x="113.6" y="573.8" width="1.2" height="2.6" fill="#22329a" opacity="0.85"/>
<rect x="116.0" y="573.8" width="0.8" height="2.6" fill="#22329a" opacity="0.85"/>
<rect x="117.9" y="573.8" width="0.9" height="2.6" fill="#22329a" opacity="0.85"/>
<rect x="121.0" y="573.8" width="1.3" height="2.6" fill="#22329a" opacity="0.85"/>
<rect x="113.0" y="602.7" width="9.2" height="1.4" fill="#9ca0ba"/>
<rect x="122.0" y="572.9" width="8.6" height="4.4" fill="#b0bef2" opacity="0.8"/>
<rect x="122.0" y="574.0" width="8.6" height="2.2" fill="#3b52c2"/>
<rect x="122.1" y="573.8" width="1.4" height="2.6" fill="#22329a" opacity="0.85"/>
<rect x="124.5" y="573.8" width="1.2" height="2.6" fill="#22329a" opacity="0.85"/>
<rect x="127.4" y="573.8" width="1.1" height="2.6" fill="#22329a" opacity="0.85"/>
<rect x="121.7" y="602.7" width="9.2" height="1.4" fill="#9ca0ba"/>
<rect x="130.6" y="572.9" width="8.6" height="4.4" fill="#b0bef2" opacity="0.8"/>
<rect x="130.6" y="574.0" width="8.6" height="2.2" fill="#3b52c2"/>
<rect x="131.1" y="573.8" width="1.3" height="2.6" fill="#22329a" opacity="0.85"/>
<rect x="134.4" y="573.8" width="0.9" height="2.6" fill="#22329a" opacity="0.85"/>
<rect x="137.5" y="573.8" width="1.3" height="2.6" fill="#22329a" opacity="0.85"/>
<rect x="130.3" y="602.7" width="9.2" height="1.4" fill="#9ca0ba"/>
<rect x="139.2" y="572.9" width="2.4" height="4.4" fill="#b0bef2" opacity="0.8"/>
<rect x="139.2" y="574.0" width="2.4" height="2.2" fill="#3b52c2"/>
<rect x="140.0" y="573.8" width="1.0" height="2.6" fill="#22329a" opacity="0.85"/>
<rect x="138.9" y="602.7" width="3.0" height="1.4" fill="#9ca0ba"/>
<rect x="143.1" y="572.9" width="4.7" height="4.4" fill="#b0bef2" opacity="0.8"/>
<rect x="143.1" y="574.0" width="4.7" height="2.2" fill="#3b52c2"/>
<rect x="143.7" y="573.8" width="1.1" height="2.6" fill="#22329a" opacity="0.85"/>
<rect x="146.6" y="573.8" width="1.2" height="2.6" fill="#22329a" opacity="0.85"/>
<rect x="142.8" y="602.7" width="5.3" height="1.4" fill="#9ca0ba"/>
<rect x="147.8" y="572.9" width="8.6" height="4.4" fill="#b0bef2" opacity="0.8"/>
<rect x="147.8" y="574.0" width="8.6" height="2.2" fill="#3b52c2"/>
<rect x="148.6" y="573.8" width="0.8" height="2.6" fill="#22329a" opacity="0.85"/>
<rect x="151.4" y="573.8" width="1.0" height="2.6" fill="#22329a" opacity="0.85"/>
<rect x="154.1" y="573.8" width="1.6" height="2.6" fill="#22329a" opacity="0.85"/>
<rect x="147.5" y="602.7" width="9.2" height="1.4" fill="#9ca0ba"/>
<rect x="156.5" y="572.9" width="8.6" height="4.4" fill="#b0bef2" opacity="0.8"/>
<rect x="156.5" y="574.0" width="8.6" height="2.2" fill="#3b52c2"/>
<rect x="157.1" y="573.8" width="1.1" height="2.6" fill="#22329a" opacity="0.85"/>
<rect x="159.0" y="573.8" width="0.8" height="2.6" fill="#22329a" opacity="0.85"/>
<rect x="160.8" y="573.8" width="1.3" height="2.6" fill="#22329a" opacity="0.85"/>
<rect x="163.5" y="573.8" width="1.2" height="2.6" fill="#22329a" opacity="0.85"/>
<rect x="156.2" y="602.7" width="9.2" height="1.4" fill="#9ca0ba"/>
<rect x="165.1" y="572.9" width="8.6" height="4.4" fill="#b0bef2" opacity="0.8"/>
<rect x="165.1" y="574.0" width="8.6" height="2.2" fill="#3b52c2"/>
<rect x="165.2" y="573.8" width="1.0" height="2.6" fill="#22329a" opacity="0.85"/>
<rect x="167.9" y="573.8" width="0.8" height="2.6" fill="#22329a" opacity="0.85"/>
<rect x="169.5" y="573.8" width="1.1" height="2.6" fill="#22329a" opacity="0.85"/>
<rect x="171.6" y="573.8" width="1.1" height="2.6" fill="#22329a" opacity="0.85"/>
<rect x="164.8" y="602.7" width="9.2" height="1.4" fill="#9ca0ba"/>
<rect x="175.6" y="572.9" width="6.7" height="4.4" fill="#b0bef2" opacity="0.8"/>
<rect x="175.6" y="574.0" width="6.7" height="2.2" fill="#3b52c2"/>
<rect x="176.2" y="573.8" width="1.3" height="2.6" fill="#22329a" opacity="0.85"/>
<rect x="178.6" y="573.8" width="1.3" height="2.6" fill="#22329a" opacity="0.85"/>
<rect x="181.3" y="573.8" width="0.9" height="2.6" fill="#22329a" opacity="0.85"/>
<rect x="175.3" y="602.7" width="7.3" height="1.4" fill="#9ca0ba"/>
<rect x="184.2" y="572.9" width="6.7" height="4.4" fill="#b0bef2" opacity="0.8"/>
<rect x="184.2" y="574.0" width="6.7" height="2.2" fill="#3b52c2"/>
<rect x="184.5" y="573.8" width="0.9" height="2.6" fill="#22329a" opacity="0.85"/>
<rect x="186.3" y="573.8" width="1.3" height="2.6" fill="#22329a" opacity="0.85"/>
<rect x="189.7" y="573.8" width="1.4" height="2.6" fill="#22329a" opacity="0.85"/>
<rect x="183.9" y="602.7" width="7.3" height="1.4" fill="#9ca0ba"/>
<rect x="192.9" y="572.9" width="6.7" height="4.4" fill="#b0bef2" opacity="0.8"/>
<rect x="192.9" y="574.0" width="6.7" height="2.2" fill="#3b52c2"/>
<rect x="193.1" y="573.8" width="0.8" height="2.6" fill="#22329a" opacity="0.85"/>
<rect x="195.6" y="573.8" width="1.2" height="2.6" fill="#22329a" opacity="0.85"/>
<rect x="198.2" y="573.8" width="1.3" height="2.6" fill="#22329a" opacity="0.85"/>
<rect x="192.6" y="602.7" width="7.3" height="1.4" fill="#9ca0ba"/>
<rect x="199.6" y="572.9" width="8.6" height="4.4" fill="#b0bef2" opacity="0.8"/>
<rect x="199.6" y="574.0" width="8.6" height="2.2" fill="#3b52c2"/>
<rect x="200.5" y="573.8" width="1.4" height="2.6" fill="#22329a" opacity="0.85"/>
<rect x="203.1" y="573.8" width="1.5" height="2.6" fill="#22329a" opacity="0.85"/>
<rect x="205.5" y="573.8" width="1.2" height="2.6" fill="#22329a" opacity="0.85"/>
<rect x="199.3" y="602.7" width="9.2" height="1.4" fill="#9ca0ba"/>
<rect x="208.2" y="572.9" width="8.6" height="4.4" fill="#b0bef2" opacity="0.8"/>
<rect x="208.2" y="574.0" width="8.6" height="2.2" fill="#3b52c2"/>
<rect x="208.5" y="573.8" width="0.8" height="2.6" fill="#22329a" opacity="0.85"/>
<rect x="211.2" y="573.8" width="0.8" height="2.6" fill="#22329a" opacity="0.85"/>
<rect x="213.6" y="573.8" width="1.6" height="2.6" fill="#22329a" opacity="0.85"/>
<rect x="207.9" y="602.7" width="9.2" height="1.4" fill="#9ca0ba"/>
<rect x="216.8" y="572.9" width="8.6" height="4.4" fill="#b0bef2" opacity="0.8"/>
<rect x="216.8" y="574.0" width="8.6" height="2.2" fill="#3b52c2"/>
<rect x="217.0" y="573.8" width="1.3" height="2.6" fill="#22329a" opacity="0.85"/>
<rect x="219.8" y="573.8" width="1.3" height="2.6" fill="#22329a" opacity="0.85"/>
<rect x="223.1" y="573.8" width="0.9" height="2.6" fill="#22329a" opacity="0.85"/>
<rect x="216.5" y="602.7" width="9.2" height="1.4" fill="#9ca0ba"/>
<rect x="225.5" y="572.9" width="8.6" height="4.4" fill="#b0bef2" opacity="0.8"/>
<rect x="225.5" y="574.0" width="8.6" height="2.2" fill="#3b52c2"/>
<rect x="225.8" y="573.8" width="0.8" height="2.6" fill="#22329a" opacity="0.85"/>
<rect x="228.7" y="573.8" width="1.4" height="2.6" fill="#22329a" opacity="0.85"/>
<rect x="231.9" y="573.8" width="0.8" height="2.6" fill="#22329a" opacity="0.85"/>
<rect x="225.2" y="602.7" width="9.2" height="1.4" fill="#9ca0ba"/>
<rect x="234.1" y="572.9" width="8.6" height="4.4" fill="#b0bef2" opacity="0.8"/>
<rect x="234.1" y="574.0" width="8.6" height="2.2" fill="#3b52c2"/>
<rect x="234.8" y="573.8" width="1.2" height="2.6" fill="#22329a" opacity="0.85"/>
<rect x="237.9" y="573.8" width="1.2" height="2.6" fill="#22329a" opacity="0.85"/>
<rect x="240.1" y="573.8" width="0.9" height="2.6" fill="#22329a" opacity="0.85"/>
<rect x="233.8" y="602.7" width="9.2" height="1.4" fill="#9ca0ba"/>
<rect x="245.3" y="572.9" width="6.0" height="4.4" fill="#b0bef2" opacity="0.8"/>
<rect x="245.3" y="574.0" width="6.0" height="2.2" fill="#3b52c2"/>
<rect x="245.4" y="573.8" width="1.1" height="2.6" fill="#22329a" opacity="0.85"/>
<rect x="248.3" y="573.8" width="1.4" height="2.6" fill="#22329a" opacity="0.85"/>
<rect x="245.0" y="602.7" width="6.6" height="1.4" fill="#9ca0ba"/>
<rect x="253.5" y="572.9" width="6.5" height="4.4" fill="#b0bef2" opacity="0.8"/>
<rect x="253.5" y="574.0" width="6.5" height="2.2" fill="#3b52c2"/>
<rect x="254.2" y="573.8" width="1.0" height="2.6" fill="#22329a" opacity="0.85"/>
<rect x="256.8" y="573.8" width="1.1" height="2.6" fill="#22329a" opacity="0.85"/>
<rect x="253.2" y="602.7" width="7.1" height="1.4" fill="#9ca0ba"/>
<rect x="260.0" y="572.9" width="8.6" height="4.4" fill="#b0bef2" opacity="0.8"/>
<rect x="260.0" y="574.0" width="8.6" height="2.2" fill="#3b52c2"/>
<rect x="260.5" y="573.8" width="1.0" height="2.6" fill="#22329a" opacity="0.85"/>
<rect x="263.2" y="573.8" width="1.6" height="2.6" fill="#22329a" opacity="0.85"/>
<rect x="265.9" y="573.8" width="1.5" height="2.6" fill="#22329a" opacity="0.85"/>
<rect x="259.7" y="602.7" width="9.2" height="1.4" fill="#9ca0ba"/>
<rect x="70.2" y="602.6" width="6.0" height="1.6" fill="#4a56a2"/>
<rect x="113.3" y="602.6" width="7.8" height="1.6" fill="#4a56a2"/>
<rect x="159.0" y="602.6" width="13.8" height="1.6" fill="#4a56a2"/>
<rect x="184.9" y="602.6" width="5.2" height="1.6" fill="#4a56a2"/>
<rect x="210.8" y="602.6" width="4.3" height="1.6" fill="#4a56a2"/>
<line x1="326.7" y1="559.8" x2="326.7" y2="617.4" stroke="#eff0f3" stroke-width="0.6"/>
<line x1="335.3" y1="559.8" x2="335.3" y2="617.4" stroke="#eff0f3" stroke-width="0.6"/>
<line x1="344.0" y1="559.8" x2="344.0" y2="617.4" stroke="#eff0f3" stroke-width="0.6"/>
<line x1="352.6" y1="559.8" x2="352.6" y2="617.4" stroke="#eff0f3" stroke-width="0.6"/>
<line x1="361.2" y1="559.8" x2="361.2" y2="617.4" stroke="#eff0f3" stroke-width="0.6"/>
<line x1="369.9" y1="559.8" x2="369.9" y2="617.4" stroke="#eff0f3" stroke-width="0.6"/>
<line x1="378.5" y1="559.8" x2="378.5" y2="617.4" stroke="#eff0f3" stroke-width="0.6"/>
<line x1="387.1" y1="559.8" x2="387.1" y2="617.4" stroke="#eff0f3" stroke-width="0.6"/>
<line x1="395.7" y1="559.8" x2="395.7" y2="617.4" stroke="#eff0f3" stroke-width="0.6"/>
<line x1="404.4" y1="559.8" x2="404.4" y2="617.4" stroke="#eff0f3" stroke-width="0.6"/>
<line x1="413.0" y1="559.8" x2="413.0" y2="617.4" stroke="#eff0f3" stroke-width="0.6"/>
<line x1="421.6" y1="559.8" x2="421.6" y2="617.4" stroke="#eff0f3" stroke-width="0.6"/>
<line x1="430.2" y1="559.8" x2="430.2" y2="617.4" stroke="#eff0f3" stroke-width="0.6"/>
<line x1="438.9" y1="559.8" x2="438.9" y2="617.4" stroke="#eff0f3" stroke-width="0.6"/>
<line x1="447.5" y1="559.8" x2="447.5" y2="617.4" stroke="#eff0f3" stroke-width="0.6"/>
<line x1="456.1" y1="559.8" x2="456.1" y2="617.4" stroke="#eff0f3" stroke-width="0.6"/>
<line x1="464.7" y1="559.8" x2="464.7" y2="617.4" stroke="#eff0f3" stroke-width="0.6"/>
<line x1="473.4" y1="559.8" x2="473.4" y2="617.4" stroke="#eff0f3" stroke-width="0.6"/>
<line x1="482.0" y1="559.8" x2="482.0" y2="617.4" stroke="#eff0f3" stroke-width="0.6"/>
<line x1="490.6" y1="559.8" x2="490.6" y2="617.4" stroke="#eff0f3" stroke-width="0.6"/>
<line x1="499.3" y1="559.8" x2="499.3" y2="617.4" stroke="#eff0f3" stroke-width="0.6"/>
<line x1="507.9" y1="559.8" x2="507.9" y2="617.4" stroke="#eff0f3" stroke-width="0.6"/>
<line x1="516.5" y1="559.8" x2="516.5" y2="617.4" stroke="#eff0f3" stroke-width="0.6"/>
<line x1="318.6" y1="591.5" x2="516.5" y2="591.5" stroke="#eef0e0" stroke-width="0.6"/>
<line x1="318.6" y1="556.8" x2="318.6" y2="618.0" stroke="#222" stroke-width="1.2"/>
<line x1="318.0" y1="617.4" x2="520.0" y2="617.4" stroke="#222" stroke-width="1.2"/>
<line x1="316.2" y1="560.8" x2="318.6" y2="560.8" stroke="#222" stroke-width="0.8"/>
<text x="313.3" y="562.2" font-family="'Liberation Sans', sans-serif" font-size="4" fill="#222" text-anchor="end">3</text>
<line x1="316.2" y1="565.5" x2="318.6" y2="565.5" stroke="#222" stroke-width="0.8"/>
<text x="313.3" y="566.9" font-family="'Liberation Sans', sans-serif" font-size="4" fill="#222" text-anchor="end">2</text>
<line x1="316.2" y1="570.2" x2="318.6" y2="570.2" stroke="#222" stroke-width="0.8"/>
<text x="313.3" y="571.6" font-family="'Liberation Sans', sans-serif" font-size="4" fill="#222" text-anchor="end">1</text>
<line x1="316.2" y1="574.9" x2="318.6" y2="574.9" stroke="#222" stroke-width="0.8"/>
<text x="313.3" y="576.3" font-family="'Liberation Sans', sans-serif" font-size="4" fill="#222" text-anchor="end">0</text>
<line x1="316.2" y1="579.7" x2="318.6" y2="579.7" stroke="#222" stroke-width="0.8"/>
<text x="313.3" y="581.1" font-family="'Liberation Sans', sans-serif" font-size="4" fill="#222" text-anchor="end">-1</text>
<line x1="316.2" y1="584.4" x2="318.6" y2="584.4" stroke="#222" stroke-width="0.8"/>
<text x="313.3" y="585.8" font-family="'Liberation Sans', sans-serif" font-size="4" fill="#222" text-anchor="end">-2</text>
<line x1="316.2" y1="589.1" x2="318.6" y2="589.1" stroke="#222" stroke-width="0.8"/>
<text x="313.3" y="590.5" font-family="'Liberation Sans', sans-serif" font-size="4" fill="#222" text-anchor="end">-3</text>
<line x1="316.2" y1="593.8" x2="318.6" y2="593.8" stroke="#222" stroke-width="0.8"/>
<text x="313.3" y="595.2" font-family="'Liberation Sans', sans-serif" font-size="4" fill="#222" text-anchor="end">1</text>
<line x1="316.2" y1="598.5" x2="318.6" y2="598.5" stroke="#222" stroke-width="0.8"/>
<text x="313.3" y="599.9" font-family="'Liberation Sans', sans-serif" font-size="4" fill="#222" text-anchor="end">.8</text>
<line x1="316.2" y1="603.2" x2="318.6" y2="603.2" stroke="#222" stroke-width="0.8"/>
<text x="313.3" y="604.6" font-family="'Liberation Sans', sans-serif" font-size="4" fill="#222" text-anchor="end">.6</text>
<line x1="316.2" y1="608.0" x2="318.6" y2="608.0" stroke="#222" stroke-width="0.8"/>
<text x="313.3" y="609.4" font-family="'Liberation Sans', sans-serif" font-size="4" fill="#222" text-anchor="end">.4</text>
<line x1="316.2" y1="612.7" x2="318.6" y2="612.7" stroke="#222" stroke-width="0.8"/>
<text x="313.3" y="614.1" font-family="'Liberation Sans', sans-serif" font-size="4" fill="#222" text-anchor="end">.2</text>
<line x1="316.2" y1="617.4" x2="318.6" y2="617.4" stroke="#222" stroke-width="0.8"/>
<text x="313.3" y="618.8" font-family="'Liberation Sans', sans-serif" font-size="4" fill="#222" text-anchor="end">0</text>
<line x1="322.4" y1="617.4" x2="322.4" y2="620.0" stroke="#222" stroke-width="0.8"/>
<text transform="translate(322.4,628.0) scale(0.86,1)" font-family="'Liberation Sans', sans-serif" font-size="7.3" fill="#333" text-anchor="middle">1</text>
<line x1="331.0" y1="617.4" x2="331.0" y2="620.0" stroke="#222" stroke-width="0.8"/>
<text transform="translate(331.0,628.0) scale(0.86,1)" font-family="'Liberation Sans', sans-serif" font-size="7.3" fill="#333" text-anchor="middle">2</text>
<line x1="339.7" y1="617.4" x2="339.7" y2="620.0" stroke="#222" stroke-width="0.8"/>
<text transform="translate(339.7,628.0) scale(0.86,1)" font-family="'Liberation Sans', sans-serif" font-size="7.3" fill="#333" text-anchor="middle">3</text>
<line x1="348.3" y1="617.4" x2="348.3" y2="620.0" stroke="#222" stroke-width="0.8"/>
<text transform="translate(348.3,628.0) scale(0.86,1)" font-family="'Liberation Sans', sans-serif" font-size="7.3" fill="#333" text-anchor="middle">4</text>
<line x1="356.9" y1="617.4" x2="356.9" y2="620.0" stroke="#222" stroke-width="0.8"/>
<text transform="translate(356.9,628.0) scale(0.86,1)" font-family="'Liberation Sans', sans-serif" font-size="7.3" fill="#333" text-anchor="middle">5</text>
<line x1="365.5" y1="617.4" x2="365.5" y2="620.0" stroke="#222" stroke-width="0.8"/>
<text transform="translate(365.5,628.0) scale(0.86,1)" font-family="'Liberation Sans', sans-serif" font-size="7.3" fill="#333" text-anchor="middle">6</text>
<line x1="374.2" y1="617.4" x2="374.2" y2="620.0" stroke="#222" stroke-width="0.8"/>
<text transform="translate(374.2,628.0) scale(0.86,1)" font-family="'Liberation Sans', sans-serif" font-size="7.3" fill="#333" text-anchor="middle">7</text>
<line x1="382.8" y1="617.4" x2="382.8" y2="620.0" stroke="#222" stroke-width="0.8"/>
<text transform="translate(382.8,628.0) scale(0.86,1)" font-family="'Liberation Sans', sans-serif" font-size="7.3" fill="#333" text-anchor="middle">8</text>
<line x1="391.4" y1="617.4" x2="391.4" y2="620.0" stroke="#222" stroke-width="0.8"/>
<text transform="translate(391.4,628.0) scale(0.86,1)" font-family="'Liberation Sans', sans-serif" font-size="7.3" fill="#333" text-anchor="middle">9</text>
<line x1="400.0" y1="617.4" x2="400.0" y2="620.0" stroke="#222" stroke-width="0.8"/>
<text transform="translate(400.0,628.0) scale(0.86,1)" font-family="'Liberation Sans', sans-serif" font-size="7.3" fill="#333" text-anchor="middle">10</text>
<line x1="408.7" y1="617.4" x2="408.7" y2="620.0" stroke="#222" stroke-width="0.8"/>
<text transform="translate(408.7,628.0) scale(0.86,1)" font-family="'Liberation Sans', sans-serif" font-size="7.3" fill="#333" text-anchor="middle">11</text>
<line x1="417.3" y1="617.4" x2="417.3" y2="620.0" stroke="#222" stroke-width="0.8"/>
<text transform="translate(417.3,628.0) scale(0.86,1)" font-family="'Liberation Sans', sans-serif" font-size="7.3" fill="#333" text-anchor="middle">12</text>
<line x1="425.9" y1="617.4" x2="425.9" y2="620.0" stroke="#222" stroke-width="0.8"/>
<text transform="translate(425.9,628.0) scale(0.86,1)" font-family="'Liberation Sans', sans-serif" font-size="7.3" fill="#333" text-anchor="middle">13</text>
<line x1="434.6" y1="617.4" x2="434.6" y2="620.0" stroke="#222" stroke-width="0.8"/>
<text transform="translate(434.6,628.0) scale(0.86,1)" font-family="'Liberation Sans', sans-serif" font-size="7.3" fill="#333" text-anchor="middle">14</text>
<line x1="443.2" y1="617.4" x2="443.2" y2="620.0" stroke="#222" stroke-width="0.8"/>
<text transform="translate(443.2,628.0) scale(0.86,1)" font-family="'Liberation Sans', sans-serif" font-size="7.3" fill="#333" text-anchor="middle">15</text>
<line x1="451.8" y1="617.4" x2="451.8" y2="620.0" stroke="#222" stroke-width="0.8"/>
<text transform="translate(451.8,628.0) scale(0.86,1)" font-family="'Liberation Sans', sans-serif" font-size="7.3" fill="#333" text-anchor="middle">16</text>
<line x1="460.4" y1="617.4" x2="460.4" y2="620.0" stroke="#222" stroke-width="0.8"/>
<text transform="translate(460.4,628.0) scale(0.86,1)" font-family="'Liberation Sans', sans-serif" font-size="7.3" fill="#333" text-anchor="middle">17</text>
<line x1="469.1" y1="617.4" x2="469.1" y2="620.0" stroke="#222" stroke-width="0.8"/>
<text transform="translate(469.1,628.0) scale(0.86,1)" font-family="'Liberation Sans', sans-serif" font-size="7.3" fill="#333" text-anchor="middle">18</text>
<line x1="477.7" y1="617.4" x2="477.7" y2="620.0" stroke="#222" stroke-width="0.8"/>
<text transform="translate(477.7,628.0) scale(0.86,1)" font-family="'Liberation Sans', sans-serif" font-size="7.3" fill="#333" text-anchor="middle">19</text>
<line x1="486.3" y1="617.4" x2="486.3" y2="620.0" stroke="#222" stroke-width="0.8"/>
<text transform="translate(486.3,628.0) scale(0.86,1)" font-family="'Liberation Sans', sans-serif" font-size="7.3" fill="#333" text-anchor="middle">20</text>
<line x1="494.9" y1="617.4" x2="494.9" y2="620.0" stroke="#222" stroke-width="0.8"/>
<text transform="translate(494.9,628.0) scale(0.86,1)" font-family="'Liberation Sans', sans-serif" font-size="7.3" fill="#333" text-anchor="middle">21</text>
<line x1="503.6" y1="617.4" x2="503.6" y2="620.0" stroke="#222" stroke-width="0.8"/>
<text transform="translate(503.6,628.0) scale(0.86,1)" font-family="'Liberation Sans', sans-serif" font-size="7.3" fill="#333" text-anchor="middle">22</text>
<line x1="512.2" y1="617.4" x2="512.2" y2="620.0" stroke="#222" stroke-width="0.8"/>
<text transform="translate(512.2,628.0) scale(0.86,1)" font-family="'Liberation Sans', sans-serif" font-size="7.3" fill="#333" text-anchor="middle">X</text>
<text transform="translate(305.1,575.0) rotate(-90) scale(0.66,1)" font-family="'Liberation Sans', sans-serif" font-size="8.8" font-weight="bold" fill="#222" text-anchor="middle">Copy number</text>
<text transform="translate(305.1,608.1) rotate(-90) scale(0.72,1)" font-family="'Liberation Sans', sans-serif" font-size="8.8" font-weight="bold" fill="#222" text-anchor="middle">VAF</text>
<text transform="translate(418.1,640.6) scale(0.68,1)" font-family="'Liberation Sans', sans-serif" font-size="8.8" font-weight="bold" fill="#222" text-anchor="middle">Chromosome</text>
<rect x="318.1" y="572.5" width="8.6" height="4.4" fill="#b0bef2" opacity="0.8"/>
<rect x="318.1" y="573.6" width="8.6" height="2.2" fill="#3b52c2"/>
<rect x="318.4" y="573.4" width="1.0" height="2.6" fill="#22329a" opacity="0.85"/>
<rect x="321.2" y="573.4" width="1.6" height="2.6" fill="#22329a" opacity="0.85"/>
<rect x="324.6" y="573.4" width="1.1" height="2.6" fill="#22329a" opacity="0.85"/>
<rect x="317.8" y="602.3" width="9.2" height="1.4" fill="#9ca0ba"/>
<rect x="326.7" y="572.5" width="8.6" height="4.4" fill="#b0bef2" opacity="0.8"/>
<rect x="326.7" y="573.6" width="8.6" height="2.2" fill="#3b52c2"/>
<rect x="327.0" y="573.4" width="1.0" height="2.6" fill="#22329a" opacity="0.85"/>
<rect x="330.1" y="573.4" width="1.3" height="2.6" fill="#22329a" opacity="0.85"/>
<rect x="333.2" y="573.4" width="1.3" height="2.6" fill="#22329a" opacity="0.85"/>
<rect x="326.4" y="602.3" width="9.2" height="1.4" fill="#9ca0ba"/>
<rect x="335.3" y="572.5" width="8.6" height="4.4" fill="#b0bef2" opacity="0.8"/>
<rect x="335.3" y="573.6" width="8.6" height="2.2" fill="#3b52c2"/>
<rect x="335.8" y="573.4" width="1.5" height="2.6" fill="#22329a" opacity="0.85"/>
<rect x="339.1" y="573.4" width="1.5" height="2.6" fill="#22329a" opacity="0.85"/>
<rect x="342.0" y="573.4" width="1.4" height="2.6" fill="#22329a" opacity="0.85"/>
<rect x="335.0" y="602.3" width="9.2" height="1.4" fill="#9ca0ba"/>
<rect x="344.0" y="572.5" width="8.6" height="4.4" fill="#b0bef2" opacity="0.8"/>
<rect x="344.0" y="573.6" width="8.6" height="2.2" fill="#3b52c2"/>
<rect x="344.3" y="573.4" width="1.0" height="2.6" fill="#22329a" opacity="0.85"/>
<rect x="346.9" y="573.4" width="0.9" height="2.6" fill="#22329a" opacity="0.85"/>
<rect x="349.9" y="573.4" width="0.9" height="2.6" fill="#22329a" opacity="0.85"/>
<rect x="351.6" y="573.4" width="0.9" height="2.6" fill="#22329a" opacity="0.85"/>
<rect x="343.7" y="602.3" width="9.2" height="1.4" fill="#9ca0ba"/>
<rect x="352.6" y="572.5" width="8.6" height="4.4" fill="#b0bef2" opacity="0.8"/>
<rect x="352.6" y="573.6" width="8.6" height="2.2" fill="#3b52c2"/>
<rect x="352.9" y="573.4" width="0.9" height="2.6" fill="#22329a" opacity="0.85"/>
<rect x="354.7" y="573.4" width="0.8" height="2.6" fill="#22329a" opacity="0.85"/>
<rect x="357.3" y="573.4" width="1.3" height="2.6" fill="#22329a" opacity="0.85"/>
<rect x="360.4" y="573.4" width="1.4" height="2.6" fill="#22329a" opacity="0.85"/>
<rect x="352.3" y="602.3" width="9.2" height="1.4" fill="#9ca0ba"/>
<rect x="361.2" y="572.5" width="8.6" height="4.4" fill="#b0bef2" opacity="0.8"/>
<rect x="361.2" y="573.6" width="8.6" height="2.2" fill="#3b52c2"/>
<rect x="361.8" y="573.4" width="1.1" height="2.6" fill="#22329a" opacity="0.85"/>
<rect x="364.9" y="573.4" width="1.5" height="2.6" fill="#22329a" opacity="0.85"/>
<rect x="368.4" y="573.4" width="0.9" height="2.6" fill="#22329a" opacity="0.85"/>
<rect x="360.9" y="602.3" width="9.2" height="1.4" fill="#9ca0ba"/>
<rect x="369.9" y="572.5" width="8.6" height="4.4" fill="#b0bef2" opacity="0.8"/>
<rect x="369.9" y="573.6" width="8.6" height="2.2" fill="#3b52c2"/>
<rect x="370.8" y="573.4" width="1.6" height="2.6" fill="#22329a" opacity="0.85"/>
<rect x="373.3" y="573.4" width="1.0" height="2.6" fill="#22329a" opacity="0.85"/>
<rect x="375.2" y="573.4" width="0.8" height="2.6" fill="#22329a" opacity="0.85"/>
<rect x="369.6" y="602.3" width="9.2" height="1.4" fill="#9ca0ba"/>
<rect x="378.5" y="572.5" width="8.6" height="4.4" fill="#b0bef2" opacity="0.8"/>
<rect x="378.5" y="573.6" width="8.6" height="2.2" fill="#3b52c2"/>
<rect x="379.3" y="573.4" width="1.3" height="2.6" fill="#22329a" opacity="0.85"/>
<rect x="382.6" y="573.4" width="1.3" height="2.6" fill="#22329a" opacity="0.85"/>
<rect x="385.1" y="573.4" width="0.9" height="2.6" fill="#22329a" opacity="0.85"/>
<rect x="378.2" y="602.3" width="9.2" height="1.4" fill="#9ca0ba"/>
<rect x="387.1" y="572.5" width="2.4" height="4.4" fill="#b0bef2" opacity="0.8"/>
<rect x="387.1" y="573.6" width="2.4" height="2.2" fill="#3b52c2"/>
<rect x="387.9" y="573.4" width="1.0" height="2.6" fill="#22329a" opacity="0.85"/>
<rect x="386.8" y="602.3" width="3.0" height="1.4" fill="#9ca0ba"/>
<rect x="391.0" y="572.5" width="4.7" height="4.4" fill="#b0bef2" opacity="0.8"/>
<rect x="391.0" y="573.6" width="4.7" height="2.2" fill="#3b52c2"/>
<rect x="391.4" y="573.4" width="0.8" height="2.6" fill="#22329a" opacity="0.85"/>
<rect x="393.4" y="573.4" width="1.0" height="2.6" fill="#22329a" opacity="0.85"/>
<rect x="390.7" y="602.3" width="5.3" height="1.4" fill="#9ca0ba"/>
<rect x="395.7" y="572.5" width="8.6" height="4.4" fill="#b0bef2" opacity="0.8"/>
<rect x="395.7" y="573.6" width="8.6" height="2.2" fill="#3b52c2"/>
<rect x="396.1" y="573.4" width="1.1" height="2.6" fill="#22329a" opacity="0.85"/>
<rect x="399.3" y="573.4" width="1.2" height="2.6" fill="#22329a" opacity="0.85"/>
<rect x="402.5" y="573.4" width="1.3" height="2.6" fill="#22329a" opacity="0.85"/>
<rect x="395.4" y="602.3" width="9.2" height="1.4" fill="#9ca0ba"/>
<rect x="404.4" y="572.5" width="8.6" height="4.4" fill="#b0bef2" opacity="0.8"/>
<rect x="404.4" y="573.6" width="8.6" height="2.2" fill="#3b52c2"/>
<rect x="404.8" y="573.4" width="1.1" height="2.6" fill="#22329a" opacity="0.85"/>
<rect x="407.8" y="573.4" width="1.1" height="2.6" fill="#22329a" opacity="0.85"/>
<rect x="410.7" y="573.4" width="1.2" height="2.6" fill="#22329a" opacity="0.85"/>
<rect x="404.1" y="602.3" width="9.2" height="1.4" fill="#9ca0ba"/>
<rect x="413.0" y="572.5" width="8.6" height="4.4" fill="#b0bef2" opacity="0.8"/>
<rect x="413.0" y="573.6" width="8.6" height="2.2" fill="#3b52c2"/>
<rect x="413.8" y="573.4" width="0.9" height="2.6" fill="#22329a" opacity="0.85"/>
<rect x="416.7" y="573.4" width="0.9" height="2.6" fill="#22329a" opacity="0.85"/>
<rect x="418.4" y="573.4" width="1.0" height="2.6" fill="#22329a" opacity="0.85"/>
<rect x="412.7" y="602.3" width="9.2" height="1.4" fill="#9ca0ba"/>
<rect x="423.5" y="572.5" width="6.7" height="4.4" fill="#b0bef2" opacity="0.8"/>
<rect x="423.5" y="573.6" width="6.7" height="2.2" fill="#3b52c2"/>
<rect x="424.5" y="573.4" width="0.8" height="2.6" fill="#22329a" opacity="0.85"/>
<rect x="426.8" y="573.4" width="1.2" height="2.6" fill="#22329a" opacity="0.85"/>
<rect x="423.2" y="602.3" width="7.3" height="1.4" fill="#9ca0ba"/>
<rect x="432.1" y="572.5" width="6.7" height="4.4" fill="#b0bef2" opacity="0.8"/>
<rect x="432.1" y="573.6" width="6.7" height="2.2" fill="#3b52c2"/>
<rect x="432.3" y="573.4" width="1.2" height="2.6" fill="#22329a" opacity="0.85"/>
<rect x="434.8" y="573.4" width="1.5" height="2.6" fill="#22329a" opacity="0.85"/>
<rect x="437.4" y="573.4" width="1.6" height="2.6" fill="#22329a" opacity="0.85"/>
<rect x="431.8" y="602.3" width="7.3" height="1.4" fill="#9ca0ba"/>
<rect x="440.8" y="572.5" width="6.7" height="4.4" fill="#b0bef2" opacity="0.8"/>
<rect x="440.8" y="573.6" width="6.7" height="2.2" fill="#3b52c2"/>
<rect x="441.0" y="573.4" width="1.4" height="2.6" fill="#22329a" opacity="0.85"/>
<rect x="443.8" y="573.4" width="0.9" height="2.6" fill="#22329a" opacity="0.85"/>
<rect x="446.4" y="573.4" width="0.9" height="2.6" fill="#22329a" opacity="0.85"/>
<rect x="440.5" y="602.3" width="7.3" height="1.4" fill="#9ca0ba"/>
<rect x="447.5" y="572.5" width="8.6" height="4.4" fill="#b0bef2" opacity="0.8"/>
<rect x="447.5" y="573.6" width="8.6" height="2.2" fill="#3b52c2"/>
<rect x="448.2" y="573.4" width="1.4" height="2.6" fill="#22329a" opacity="0.85"/>
<rect x="451.3" y="573.4" width="1.1" height="2.6" fill="#22329a" opacity="0.85"/>
<rect x="453.7" y="573.4" width="1.1" height="2.6" fill="#22329a" opacity="0.85"/>
<rect x="447.2" y="602.3" width="9.2" height="1.4" fill="#9ca0ba"/>
<rect x="456.1" y="572.5" width="8.6" height="4.4" fill="#b0bef2" opacity="0.8"/>
<rect x="456.1" y="573.6" width="8.6" height="2.2" fill="#3b52c2"/>
<rect x="456.2" y="573.4" width="1.5" height="2.6" fill="#22329a" opacity="0.85"/>
<rect x="458.6" y="573.4" width="1.0" height="2.6" fill="#22329a" opacity="0.85"/>
<rect x="460.7" y="573.4" width="1.5" height="2.6" fill="#22329a" opacity="0.85"/>
<rect x="463.7" y="573.4" width="1.1" height="2.6" fill="#22329a" opacity="0.85"/>
<rect x="455.8" y="602.3" width="9.2" height="1.4" fill="#9ca0ba"/>
<rect x="464.7" y="572.5" width="8.6" height="4.4" fill="#b0bef2" opacity="0.8"/>
<rect x="464.7" y="573.6" width="8.6" height="2.2" fill="#3b52c2"/>
<rect x="465.0" y="573.4" width="1.2" height="2.6" fill="#22329a" opacity="0.85"/>
<rect x="467.7" y="573.4" width="1.4" height="2.6" fill="#22329a" opacity="0.85"/>
<rect x="471.0" y="573.4" width="1.3" height="2.6" fill="#22329a" opacity="0.85"/>
<rect x="464.4" y="602.3" width="9.2" height="1.4" fill="#9ca0ba"/>
<rect x="473.4" y="572.5" width="8.6" height="4.4" fill="#b0bef2" opacity="0.8"/>
<rect x="473.4" y="573.6" width="8.6" height="2.2" fill="#3b52c2"/>
<rect x="473.7" y="573.4" width="0.9" height="2.6" fill="#22329a" opacity="0.85"/>
<rect x="476.6" y="573.4" width="1.3" height="2.6" fill="#22329a" opacity="0.85"/>
<rect x="479.8" y="573.4" width="0.9" height="2.6" fill="#22329a" opacity="0.85"/>
<rect x="473.1" y="602.3" width="9.2" height="1.4" fill="#9ca0ba"/>
<rect x="482.0" y="572.5" width="8.6" height="4.4" fill="#b0bef2" opacity="0.8"/>
<rect x="482.0" y="573.6" width="8.6" height="2.2" fill="#3b52c2"/>
<rect x="482.8" y="573.4" width="1.3" height="2.6" fill="#22329a" opacity="0.85"/>
<rect x="485.0" y="573.4" width="1.2" height="2.6" fill="#22329a" opacity="0.85"/>
<rect x="488.2" y="573.4" width="1.0" height="2.6" fill="#22329a" opacity="0.85"/>
<rect x="481.7" y="602.3" width="9.2" height="1.4" fill="#9ca0ba"/>
<rect x="493.2" y="572.5" width="6.0" height="4.4" fill="#b0bef2" opacity="0.8"/>
<rect x="493.2" y="573.6" width="6.0" height="2.2" fill="#3b52c2"/>
<rect x="493.5" y="573.4" width="1.4" height="2.6" fill="#22329a" opacity="0.85"/>
<rect x="496.9" y="573.4" width="0.9" height="2.6" fill="#22329a" opacity="0.85"/>
<rect x="492.9" y="602.3" width="6.6" height="1.4" fill="#9ca0ba"/>
<rect x="501.4" y="572.5" width="6.5" height="4.4" fill="#b0bef2" opacity="0.8"/>
<rect x="501.4" y="573.6" width="6.5" height="2.2" fill="#3b52c2"/>
<rect x="501.7" y="573.4" width="1.1" height="2.6" fill="#22329a" opacity="0.85"/>
<rect x="504.3" y="573.4" width="0.9" height="2.6" fill="#22329a" opacity="0.85"/>
<rect x="506.4" y="573.4" width="1.0" height="2.6" fill="#22329a" opacity="0.85"/>
<rect x="501.1" y="602.3" width="7.1" height="1.4" fill="#9ca0ba"/>
<rect x="507.9" y="572.5" width="8.6" height="4.4" fill="#b0bef2" opacity="0.8"/>
<rect x="507.9" y="573.6" width="8.6" height="2.2" fill="#3b52c2"/>
<rect x="508.6" y="573.4" width="0.9" height="2.6" fill="#22329a" opacity="0.85"/>
<rect x="511.6" y="573.4" width="0.9" height="2.6" fill="#22329a" opacity="0.85"/>
<rect x="513.9" y="573.4" width="1.6" height="2.6" fill="#22329a" opacity="0.85"/>
<rect x="507.6" y="602.3" width="9.2" height="1.4" fill="#9ca0ba"/>
<rect x="361.2" y="602.2" width="10.4" height="1.6" fill="#4a56a2"/>
<rect x="423.3" y="595.1" width="6.5" height="14.5" rx="0.8" fill="#e2232a"/>
<rect x="423.3" y="598.8" width="6.5" height="7.2" fill="#f0c0c8"/>
<rect x="423.3" y="599.4" width="6.5" height="6.1" fill="#3868d0"/>
<rect x="423.3" y="601.5" width="6.5" height="1.7" fill="#80a8ec"/>
<rect x="432.0" y="602.2" width="6.0" height="1.6" fill="#4a56a2"/>
<rect x="467.3" y="602.2" width="10.4" height="1.6" fill="#4a56a2"/>
</svg>
</body></html>
